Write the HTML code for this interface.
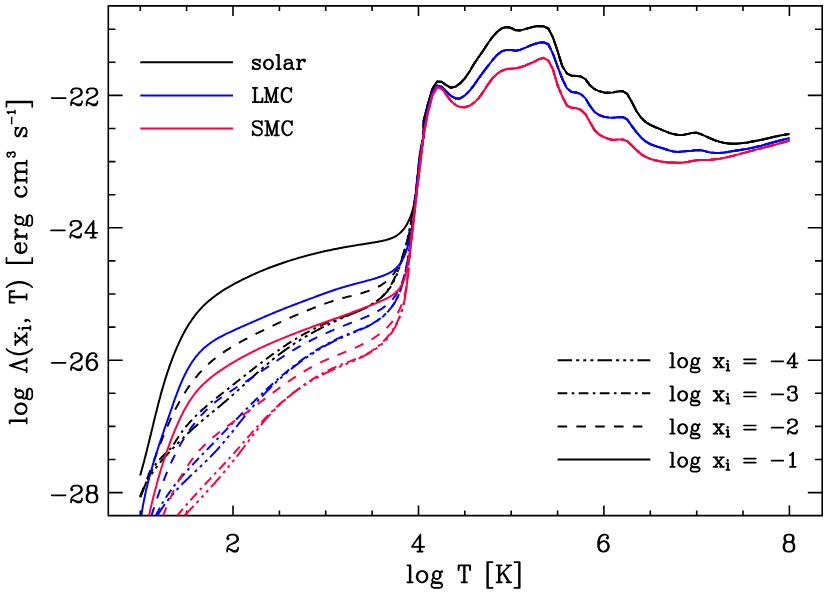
<!DOCTYPE html>
<html lang="en"><head><meta charset="utf-8"><title>cooling function</title>
<style>html,body{margin:0;padding:0;background:#fff;overflow:hidden}svg{display:block}body{font-family:"Liberation Serif",serif;width:830px;height:593px;position:relative}.sr{position:absolute;left:0;top:0;width:1px;height:1px;overflow:hidden;clip-path:inset(50%);white-space:nowrap;color:transparent;font-size:1px}</style></head>
<body>
<svg width="830" height="593" viewBox="0 0 830 593" role="img" aria-label="Cooling function log Lambda(x_i, T) [erg cm^3 s^-1] versus log T [K] for solar, LMC and SMC metallicity and log x_i = -4, -3, -2, -1">
<title>log Λ(x_i, T) [erg cm^3 s^-1] vs log T [K]</title>
<desc>Curves: solar (black), LMC (blue), SMC (red); line styles: log x_i = -4 (dash-dot-dot-dot), -3 (dash-dot), -2 (dashed), -1 (solid). Axes: log T [K] from 1 to 8; log Lambda from -28 to -22.</desc>
<rect width="830" height="593" fill="#fff"/>
<defs><clipPath id="c"><rect x="108.3" y="5.9" width="713.9" height="509.7"/></clipPath></defs>
<path d="M108.3,5.9H822.2V515.6H108.3ZM140.3,515.6v-5.0M140.3,5.9v5.0M186.6,515.6v-5.0M186.6,5.9v5.0M233.0,515.6v-10.1M233.0,5.9v10.1M279.4,515.6v-5.0M279.4,5.9v5.0M325.7,515.6v-5.0M325.7,5.9v5.0M372.1,515.6v-5.0M372.1,5.9v5.0M418.5,515.6v-10.1M418.5,5.9v10.1M464.8,515.6v-5.0M464.8,5.9v5.0M511.2,515.6v-5.0M511.2,5.9v5.0M557.6,515.6v-5.0M557.6,5.9v5.0M603.9,515.6v-10.1M603.9,5.9v10.1M650.3,515.6v-5.0M650.3,5.9v5.0M696.7,515.6v-5.0M696.7,5.9v5.0M743.0,515.6v-5.0M743.0,5.9v5.0M789.4,515.6v-10.1M789.4,5.9v10.1M108.3,492.6h14.4M822.2,492.6h-14.4M108.3,459.5h7.2M822.2,459.5h-7.2M108.3,426.4h7.2M822.2,426.4h-7.2M108.3,393.3h7.2M822.2,393.3h-7.2M108.3,360.2h14.4M822.2,360.2h-14.4M108.3,327.1h7.2M822.2,327.1h-7.2M108.3,294.0h7.2M822.2,294.0h-7.2M108.3,260.9h7.2M822.2,260.9h-7.2M108.3,227.8h14.4M822.2,227.8h-14.4M108.3,194.7h7.2M822.2,194.7h-7.2M108.3,161.6h7.2M822.2,161.6h-7.2M108.3,128.5h7.2M822.2,128.5h-7.2M108.3,95.4h14.4M822.2,95.4h-14.4M108.3,62.3h7.2M822.2,62.3h-7.2M108.3,29.2h7.2M822.2,29.2h-7.2" fill="none" stroke="#000" stroke-width="1.6" stroke-linecap="butt"/>
<g clip-path="url(#c)" fill="none" stroke-width="2.00" stroke-linejoin="round">
<path d="M140.3,497.2 140.8,495.8 141.3,494.3 141.8,492.9 142.3,491.5 142.9,490.1 143.5,488.7 144.1,487.4 144.8,486.0 145.4,484.7 146.1,483.4 146.8,482.0 147.5,480.7 148.3,479.4 149.0,478.2 149.8,476.9 150.6,475.6 151.4,474.4 152.2,473.1 153.0,471.9 153.9,470.7 154.8,469.5 155.6,468.3 156.5,467.1 157.4,465.9 158.3,464.7 159.3,463.6 160.2,462.4 161.2,461.3 162.1,460.1 163.1,459.0 164.1,457.8 165.1,456.7 166.1,455.6 167.1,454.5 168.1,453.4 169.1,452.3 170.1,451.2 171.2,450.1 172.2,449.0 173.2,447.9 174.3,446.9 175.3,445.8 176.4,444.7 177.4,443.7 178.5,442.6 179.6,441.5 180.6,440.5 181.7,439.4 182.8,438.4 183.8,437.3 184.9,436.3 186.0,435.3 187.0,434.2 188.1,433.2 189.2,432.2 190.3,431.2 191.4,430.2 192.5,429.1 193.6,428.1 194.7,427.1 195.8,426.2 196.9,425.2 198.0,424.2 199.1,423.2 200.2,422.2 201.4,421.3 202.5,420.3 203.6,419.4 204.7,418.4 205.9,417.5 207.0,416.5 208.2,415.6 209.3,414.6 210.5,413.7 211.6,412.8 212.8,411.8 213.9,410.9 215.1,410.0 216.2,409.0 217.4,408.1 218.5,407.1 219.7,406.2 220.8,405.2 222.0,404.3 223.1,403.3 224.2,402.3 225.4,401.4 226.5,400.4 227.6,399.4 228.8,398.4 229.9,397.4 231.0,396.4 232.1,395.4 233.3,394.4 234.4,393.4 235.5,392.4 236.6,391.4 237.7,390.4 238.9,389.4 240.0,388.4 241.1,387.4 242.2,386.4 243.3,385.4 244.4,384.4 245.6,383.3 246.7,382.3 247.8,381.3 248.9,380.3 250.0,379.3 251.1,378.3 252.3,377.3 253.4,376.3 254.5,375.3 255.6,374.3 256.7,373.3 257.9,372.3 259.0,371.3 260.1,370.3 261.3,369.3 262.4,368.3 263.5,367.3 264.7,366.3 265.8,365.3 266.9,364.4 268.1,363.4 269.2,362.4 270.4,361.5 271.5,360.5 272.7,359.6 273.9,358.6 275.0,357.7 276.2,356.8 277.4,355.9 278.5,354.9 279.7,354.0 280.9,353.1 282.1,352.2 283.3,351.4 284.5,350.5 285.7,349.6 286.9,348.8 288.1,347.9 289.3,347.1 290.5,346.2 291.8,345.4 293.0,344.6 294.2,343.7 295.5,342.9 296.7,342.1 297.9,341.3 299.2,340.6 300.4,339.8 301.7,339.0 303.0,338.2 304.2,337.5 305.5,336.7 306.8,336.0 308.1,335.2 309.4,334.5 310.6,333.8 311.9,333.0 313.2,332.3 314.5,331.6 315.8,330.9 317.2,330.2 318.5,329.5 319.8,328.8 321.1,328.1 322.4,327.4 323.8,326.8 325.1,326.1 326.5,325.4 327.8,324.8 329.2,324.1 330.5,323.5 331.9,322.8 333.2,322.2 334.6,321.6 336.0,320.9 337.3,320.3 338.7,319.7 340.1,319.1 341.5,318.4 342.9,317.8 344.3,317.2 345.7,316.6 347.1,316.0 348.5,315.4 349.9,314.8 351.3,314.2 352.7,313.6 354.1,313.0 355.5,312.4 356.9,311.8 358.3,311.2 359.7,310.6 361.0,309.9 362.4,309.3 363.8,308.6 365.1,307.9 366.4,307.3 367.8,306.6 369.1,305.9 370.3,305.1 371.6,304.4 372.9,303.6 374.1,302.9 375.3,302.1 376.5,301.2 377.7,300.4 378.8,299.5 380.0,298.6 381.1,297.7 382.1,296.8 383.2,295.8 384.2,294.8 385.2,293.8 386.1,292.7 387.1,291.6 388.0,290.5 388.8,289.3 389.7,288.2 390.5,286.9 391.3,285.7 392.0,284.4 392.7,283.1 393.4,281.8 394.1,280.5 394.8,279.2 395.4,277.8 396.0,276.4 396.6,275.0 397.2,273.6 397.8,272.2 398.3,270.7 398.8,269.3 399.3,267.8 399.8,266.3 400.3,264.9 400.8,263.4 401.2,261.9 401.7,260.4 402.1,258.9 402.6,257.5 403.0,256.0 403.4,254.5 403.8,253.0 404.2,251.5 404.6,250.1 405.0,248.6 405.4,247.2 405.8,245.7 406.1,244.2 406.5,242.8 406.9,241.3 407.2,239.9 407.6,238.4 407.9,237.0 408.2,235.6 408.6,234.1 408.9,232.7 409.2,231.2 409.5,229.8 409.8,228.4 410.2,226.9 410.4,225.5 410.7,224.0 411.0,222.6 411.3,221.2 411.6,219.7 411.9,218.3 412.1,216.8 412.4,215.4 412.6,214.0 412.9,212.5 413.1,211.1 413.4,209.6 413.6,208.2 413.9,206.7 414.1,205.3 414.3,203.8 414.5,202.3 414.7,200.9 414.9,199.4 415.1,197.9 415.3,196.4 415.5,195.0 415.7,193.5 415.9,192.0 416.1,190.5 416.3,189.0 416.4,187.5 416.6,186.0 416.8,184.5 417.0,183.0 417.1,181.5 417.3,180.0 417.5,178.5 417.6,177.0 417.8,175.5 418.0,174.0 418.1,172.5 418.3,171.0 418.5,169.5 418.7,168.0 418.8,166.5 419.0,165.0 419.2,163.5 419.4,162.0 419.6,160.5 419.8,159.0 420.0,157.5 420.2,156.0 420.4,154.5 420.6,153.1 420.8,151.6 421.1,150.1 421.3,148.6 421.5,147.2 421.8,145.7 422.0,144.2 422.3,142.8 422.6,141.3 422.8,139.9 423.1,138.4 423.6,135.5 423.6,120.8 427.7,105.0 432.4,88.9 437.0,81.6 441.6,81.8 446.3,85.2 450.9,87.8 455.6,86.6 460.2,83.3 464.8,78.4 469.5,71.6 474.1,63.8 478.7,57.0 483.4,50.2 488.0,43.2 492.6,36.9 497.3,31.7 501.9,28.3 506.6,27.0 511.2,28.0 515.8,30.3 520.5,30.4 525.1,29.1 529.7,27.7 534.4,26.6 539.0,26.1 543.6,26.3 548.3,28.5 552.9,37.2 557.6,51.1 562.2,66.0 566.8,73.3 571.5,75.7 576.1,75.9 580.7,76.4 585.4,79.2 590.0,85.3 594.6,89.2 599.3,91.3 603.9,92.4 608.6,92.7 613.2,92.4 617.8,91.4 622.5,91.0 627.1,93.8 631.7,101.8 636.4,111.0 641.0,117.5 645.6,122.0 650.3,124.9 654.9,127.0 659.6,128.9 664.2,130.8 668.8,132.7 673.5,134.1 678.1,135.0 682.7,135.1 687.4,134.1 692.0,132.9 696.7,132.8 701.3,134.3 705.9,136.4 710.6,138.5 715.2,140.4 719.8,141.9 724.5,143.0 729.1,143.6 733.7,143.8 738.4,143.6 743.0,143.1 747.7,142.4 752.3,141.6 756.9,140.7 761.6,139.7 766.2,138.7 770.8,137.6 775.5,136.6 780.1,135.6 784.7,134.7 789.4,133.9" stroke="#000" stroke-dasharray="14.5,4.1,3,4.1,3,4.1,3,4.1"/>
<path d="M140.3,497.2 140.9,495.9 141.5,494.5 142.0,493.1 142.6,491.8 143.1,490.4 143.7,489.0 144.2,487.6 144.8,486.2 145.3,484.8 145.8,483.3 146.4,481.9 147.0,480.5 147.5,479.1 148.1,477.7 148.7,476.4 149.4,475.0 150.0,473.6 150.7,472.3 151.4,471.0 152.2,469.7 153.0,468.4 153.8,467.1 154.6,465.9 155.5,464.6 156.3,463.4 157.3,462.3 158.2,461.1 159.1,460.0 160.1,458.9 161.1,457.8 162.1,456.7 163.2,455.7 164.2,454.7 165.3,453.7 166.3,452.8 167.4,451.8 168.4,450.8 169.4,449.8 170.4,448.8 171.3,447.7 172.2,446.6 173.0,445.4 173.8,444.2 174.6,443.0 175.4,441.8 176.1,440.6 176.9,439.3 177.7,438.1 178.5,436.8 179.4,435.6 180.2,434.3 181.1,433.1 181.9,431.9 182.8,430.6 183.7,429.5 184.7,428.3 185.6,427.1 186.5,425.9 187.5,424.8 188.5,423.7 189.4,422.6 190.4,421.4 191.5,420.4 192.5,419.3 193.5,418.2 194.6,417.1 195.6,416.1 196.7,415.0 197.7,414.0 198.8,413.0 199.9,411.9 201.0,410.9 202.1,409.9 203.2,408.9 204.4,407.9 205.5,407.0 206.6,406.0 207.8,405.0 208.9,404.0 210.1,403.1 211.2,402.1 212.4,401.2 213.6,400.2 214.7,399.3 215.9,398.3 217.1,397.4 218.3,396.5 219.4,395.5 220.6,394.6 221.8,393.7 223.0,392.8 224.2,391.8 225.3,390.9 226.5,390.0 227.7,389.0 228.9,388.1 230.1,387.2 231.3,386.3 232.4,385.3 233.6,384.4 234.8,383.5 236.0,382.5 237.1,381.6 238.3,380.7 239.5,379.7 240.7,378.8 241.8,377.9 243.0,376.9 244.2,376.0 245.4,375.1 246.5,374.2 247.7,373.2 248.9,372.3 250.1,371.4 251.2,370.5 252.4,369.6 253.6,368.6 254.8,367.7 255.9,366.8 257.1,365.9 258.3,365.0 259.5,364.1 260.7,363.2 261.9,362.3 263.0,361.4 264.2,360.5 265.4,359.6 266.6,358.7 267.8,357.8 269.0,357.0 270.2,356.1 271.4,355.2 272.6,354.3 273.8,353.5 275.0,352.6 276.2,351.8 277.5,350.9 278.7,350.1 279.9,349.2 281.1,348.4 282.4,347.5 283.6,346.7 284.8,345.9 286.1,345.1 287.3,344.2 288.5,343.4 289.8,342.6 291.0,341.8 292.3,341.1 293.6,340.3 294.8,339.5 296.1,338.7 297.4,338.0 298.6,337.2 299.9,336.4 301.2,335.7 302.5,335.0 303.8,334.2 305.1,333.5 306.4,332.8 307.7,332.1 309.0,331.4 310.4,330.7 311.7,330.0 313.0,329.3 314.4,328.6 315.7,328.0 317.1,327.3 318.4,326.7 319.8,326.0 321.2,325.4 322.5,324.8 323.9,324.2 325.3,323.6 326.7,323.0 328.1,322.4 329.5,321.8 330.9,321.3 332.4,320.7 333.8,320.2 335.2,319.6 336.7,319.1 338.1,318.6 339.6,318.1 341.0,317.5 342.5,317.0 343.9,316.5 345.4,316.0 346.8,315.5 348.3,315.0 349.7,314.5 351.1,313.9 352.6,313.4 354.0,312.9 355.4,312.3 356.8,311.8 358.2,311.2 359.6,310.6 361.0,310.0 362.3,309.4 363.7,308.8 365.0,308.2 366.4,307.5 367.7,306.8 368.9,306.1 370.2,305.4 371.5,304.7 372.7,303.9 373.9,303.1 375.1,302.3 376.3,301.5 377.4,300.6 378.6,299.7 379.7,298.8 380.7,297.9 381.8,296.9 382.8,295.9 383.8,294.8 384.7,293.7 385.7,292.6 386.6,291.5 387.4,290.3 388.3,289.1 389.1,287.9 389.9,286.6 390.7,285.3 391.5,284.0 392.2,282.7 392.9,281.4 393.6,280.0 394.3,278.7 395.0,277.3 395.6,275.9 396.3,274.5 396.9,273.1 397.5,271.7 398.0,270.3 398.6,268.8 399.2,267.4 399.7,266.0 400.2,264.5 400.7,263.1 401.2,261.6 401.7,260.2 402.2,258.8 402.7,257.3 403.1,255.9 403.6,254.5 404.0,253.0 404.4,251.6 404.8,250.2 405.2,248.7 405.6,247.3 406.0,245.9 406.4,244.4 406.8,243.0 407.1,241.6 407.5,240.1 407.8,238.7 408.1,237.2 408.5,235.8 408.8,234.4 409.1,232.9 409.4,231.5 409.7,230.0 410.0,228.6 410.3,227.2 410.6,225.7 410.8,224.3 411.1,222.8 411.4,221.4 411.6,219.9 411.9,218.5 412.1,217.0 412.4,215.5 412.6,214.1 412.8,212.6 413.1,211.2 413.3,209.7 413.5,208.2 413.7,206.7 413.9,205.3 414.2,203.8 414.4,202.3 414.6,200.8 414.8,199.3 415.0,197.8 415.2,196.4 415.4,194.9 415.6,193.4 415.8,191.9 415.9,190.4 416.1,188.9 416.3,187.4 416.5,185.9 416.7,184.4 416.9,182.9 417.1,181.4 417.3,179.9 417.4,178.4 417.6,176.9 417.8,175.4 418.0,173.9 418.2,172.4 418.4,170.9 418.6,169.4 418.8,168.0 419.0,166.5 419.1,165.0 419.3,163.5 419.5,162.0 419.7,160.5 419.9,159.0 420.1,157.5 420.4,156.0 420.6,154.6 420.8,153.1 421.0,151.6 421.2,150.1 421.4,148.7 421.7,147.2 421.9,145.7 422.1,144.3 422.4,142.8 422.6,141.4 422.9,139.9 423.1,138.5 423.4,137.0 423.6,135.5 423.6,120.8 427.7,105.0 432.4,88.9 437.0,81.6 441.6,81.8 446.3,85.2 450.9,87.8 455.6,86.6 460.2,83.3 464.8,78.4 469.5,71.6 474.1,63.8 478.7,57.0 483.4,50.2 488.0,43.2 492.6,36.9 497.3,31.7 501.9,28.3 506.6,27.0 511.2,28.0 515.8,30.3 520.5,30.4 525.1,29.1 529.7,27.7 534.4,26.6 539.0,26.1 543.6,26.3 548.3,28.5 552.9,37.2 557.6,51.1 562.2,66.0 566.8,73.3 571.5,75.7 576.1,75.9 580.7,76.4 585.4,79.2 590.0,85.3 594.6,89.2 599.3,91.3 603.9,92.4 608.6,92.7 613.2,92.4 617.8,91.4 622.5,91.0 627.1,93.8 631.7,101.8 636.4,111.0 641.0,117.5 645.6,122.0 650.3,124.9 654.9,127.0 659.6,128.9 664.2,130.8 668.8,132.7 673.5,134.1 678.1,135.0 682.7,135.1 687.4,134.1 692.0,132.9 696.7,132.8 701.3,134.3 705.9,136.4 710.6,138.5 715.2,140.4 719.8,141.9 724.5,143.0 729.1,143.6 733.7,143.8 738.4,143.6 743.0,143.1 747.7,142.4 752.3,141.6 756.9,140.7 761.6,139.7 766.2,138.7 770.8,137.6 775.5,136.6 780.1,135.6 784.7,134.7 789.4,133.9" stroke="#000" stroke-dasharray="9.7,4.4,2.6,4.4"/>
<path d="M140.0,496.7 140.5,495.4 141.1,494.0 141.6,492.7 142.2,491.4 142.7,490.1 143.2,488.7 143.8,487.4 144.3,486.0 144.8,484.7 145.4,483.3 145.9,481.9 146.4,480.6 147.0,479.2 147.5,477.8 148.0,476.4 148.5,475.0 149.0,473.6 149.6,472.3 150.1,470.9 150.6,469.5 151.1,468.1 151.7,466.7 152.2,465.2 152.7,463.8 153.2,462.4 153.8,461.0 154.3,459.6 154.8,458.2 155.3,456.8 155.9,455.3 156.4,453.9 156.9,452.5 157.5,451.1 158.0,449.7 158.6,448.2 159.1,446.8 159.6,445.4 160.2,444.0 160.7,442.6 161.3,441.1 161.9,439.7 162.4,438.3 163.0,436.9 163.6,435.5 164.1,434.1 164.7,432.7 165.3,431.3 165.9,429.9 166.5,428.5 167.1,427.1 167.7,425.7 168.3,424.3 168.9,422.9 169.6,421.5 170.2,420.1 170.8,418.7 171.5,417.4 172.1,416.0 172.8,414.6 173.4,413.3 174.1,411.9 174.8,410.6 175.4,409.2 176.1,407.9 176.8,406.6 177.5,405.2 178.3,403.9 179.0,402.6 179.7,401.3 180.4,400.0 181.2,398.7 181.9,397.4 182.7,396.1 183.5,394.9 184.3,393.6 185.1,392.3 185.9,391.1 186.7,389.8 187.5,388.6 188.3,387.4 189.2,386.2 190.0,385.0 190.9,383.8 191.8,382.6 192.7,381.4 193.5,380.2 194.5,379.1 195.4,377.9 196.3,376.8 197.3,375.7 198.2,374.6 199.2,373.4 200.2,372.3 201.2,371.3 202.2,370.2 203.2,369.1 204.2,368.1 205.3,367.1 206.3,366.0 207.4,365.0 208.5,364.0 209.6,363.0 210.7,362.1 211.8,361.1 213.0,360.1 214.1,359.2 215.3,358.3 216.5,357.4 217.6,356.5 218.8,355.6 220.1,354.7 221.3,353.8 222.5,353.0 223.8,352.1 225.0,351.3 226.3,350.4 227.5,349.6 228.8,348.8 230.1,348.0 231.4,347.2 232.7,346.4 234.0,345.7 235.3,344.9 236.6,344.1 237.9,343.4 239.3,342.6 240.6,341.9 241.9,341.1 243.3,340.4 244.6,339.7 245.9,339.0 247.3,338.3 248.6,337.6 250.0,336.9 251.4,336.2 252.7,335.5 254.1,334.8 255.4,334.1 256.8,333.4 258.1,332.8 259.5,332.1 260.9,331.4 262.2,330.8 263.6,330.1 264.9,329.4 266.3,328.8 267.6,328.1 269.0,327.5 270.3,326.8 271.7,326.2 273.0,325.6 274.4,324.9 275.7,324.3 277.1,323.7 278.4,323.0 279.8,322.4 281.1,321.8 282.5,321.2 283.8,320.6 285.2,319.9 286.6,319.3 287.9,318.7 289.3,318.1 290.6,317.5 292.0,316.9 293.3,316.3 294.7,315.8 296.1,315.2 297.4,314.6 298.8,314.0 300.1,313.4 301.5,312.9 302.9,312.3 304.2,311.7 305.6,311.2 307.0,310.6 308.4,310.0 309.8,309.5 311.1,308.9 312.5,308.4 313.9,307.8 315.3,307.3 316.7,306.8 318.1,306.2 319.5,305.7 320.9,305.2 322.3,304.7 323.7,304.1 325.1,303.6 326.5,303.1 328.0,302.6 329.4,302.1 330.8,301.7 332.2,301.2 333.7,300.7 335.1,300.3 336.6,299.8 338.0,299.4 339.4,299.0 340.9,298.5 342.4,298.1 343.8,297.7 345.3,297.4 346.8,297.0 348.2,296.6 349.7,296.2 351.2,295.9 352.7,295.5 354.1,295.1 355.6,294.7 357.1,294.4 358.5,294.0 360.0,293.6 361.5,293.2 362.9,292.7 364.4,292.3 365.8,291.8 367.2,291.4 368.6,290.9 370.1,290.3 371.5,289.8 372.9,289.2 374.2,288.6 375.6,288.0 376.9,287.4 378.3,286.7 379.6,286.0 380.9,285.3 382.1,284.5 383.3,283.7 384.5,282.9 385.7,282.0 386.8,281.1 387.9,280.2 389.0,279.2 390.0,278.2 391.0,277.1 392.0,276.0 392.9,274.9 393.8,273.7 394.6,272.6 395.4,271.3 396.2,270.1 396.9,268.8 397.6,267.5 398.3,266.1 399.0,264.8 399.6,263.4 400.2,262.0 400.8,260.6 401.4,259.2 401.9,257.8 402.4,256.4 403.0,255.0 403.5,253.5 403.9,252.1 404.4,250.7 404.9,249.2 405.3,247.8 405.8,246.3 406.2,244.9 406.6,243.5 407.0,242.0 407.4,240.6 407.8,239.1 408.1,237.7 408.5,236.2 408.8,234.7 409.2,233.3 409.5,231.8 409.8,230.4 410.1,228.9 410.4,227.4 410.7,226.0 411.0,224.5 411.3,223.0 411.6,221.5 411.8,220.1 412.1,218.6 412.3,217.1 412.6,215.6 412.8,214.2 413.0,212.7 413.2,211.2 413.5,209.7 413.7,208.3 413.9,206.8 414.1,205.3 414.3,203.8 414.5,202.3 414.7,200.8 414.9,199.3 415.0,197.9 415.2,196.4 415.4,194.9 415.6,193.4 415.8,191.9 415.9,190.4 416.1,188.9 416.3,187.4 416.4,186.0 416.6,184.5 416.8,183.0 417.0,181.5 417.1,180.0 417.3,178.5 417.5,177.0 417.6,175.5 417.8,174.0 418.0,172.5 418.2,171.1 418.3,169.6 418.5,168.1 418.7,166.6 418.9,165.1 419.1,163.6 419.3,162.1 419.5,160.6 419.7,159.2 419.9,157.7 420.1,156.2 420.3,154.7 420.6,153.2 420.8,151.8 421.0,150.3 421.3,148.8 421.5,147.3 421.8,145.8 422.0,144.4 422.3,142.9 422.6,141.4 422.9,139.9 423.2,138.5 423.6,135.5 423.6,120.8 427.7,105.0 432.4,88.9 437.0,81.6 441.6,81.8 446.3,85.2 450.9,87.8 455.6,86.6 460.2,83.3 464.8,78.4 469.5,71.6 474.1,63.8 478.7,57.0 483.4,50.2 488.0,43.2 492.6,36.9 497.3,31.7 501.9,28.3 506.6,27.0 511.2,28.0 515.8,30.3 520.5,30.4 525.1,29.1 529.7,27.7 534.4,26.6 539.0,26.1 543.6,26.3 548.3,28.5 552.9,37.2 557.6,51.1 562.2,66.0 566.8,73.3 571.5,75.7 576.1,75.9 580.7,76.4 585.4,79.2 590.0,85.3 594.6,89.2 599.3,91.3 603.9,92.4 608.6,92.7 613.2,92.4 617.8,91.4 622.5,91.0 627.1,93.8 631.7,101.8 636.4,111.0 641.0,117.5 645.6,122.0 650.3,124.9 654.9,127.0 659.6,128.9 664.2,130.8 668.8,132.7 673.5,134.1 678.1,135.0 682.7,135.1 687.4,134.1 692.0,132.9 696.7,132.8 701.3,134.3 705.9,136.4 710.6,138.5 715.2,140.4 719.8,141.9 724.5,143.0 729.1,143.6 733.7,143.8 738.4,143.6 743.0,143.1 747.7,142.4 752.3,141.6 756.9,140.7 761.6,139.7 766.2,138.7 770.8,137.6 775.5,136.6 780.1,135.6 784.7,134.7 789.4,133.9" stroke="#000" stroke-dasharray="9.55,9.25"/>
<path d="M140.2,475.4 140.6,473.9 141.0,472.5 141.4,471.0 141.8,469.6 142.2,468.2 142.6,466.7 143.0,465.3 143.4,463.8 143.8,462.4 144.2,460.9 144.5,459.4 144.9,458.0 145.3,456.5 145.7,455.1 146.0,453.6 146.4,452.2 146.8,450.7 147.1,449.3 147.5,447.8 147.9,446.3 148.2,444.9 148.6,443.4 148.9,442.0 149.3,440.5 149.7,439.1 150.0,437.6 150.4,436.1 150.7,434.7 151.1,433.2 151.4,431.8 151.8,430.3 152.1,428.9 152.5,427.4 152.8,425.9 153.2,424.5 153.5,423.0 153.9,421.6 154.2,420.1 154.6,418.7 154.9,417.2 155.3,415.7 155.7,414.3 156.0,412.8 156.4,411.4 156.8,409.9 157.1,408.5 157.5,407.0 157.9,405.6 158.2,404.1 158.6,402.7 159.0,401.2 159.4,399.8 159.8,398.3 160.2,396.9 160.5,395.5 160.9,394.0 161.3,392.6 161.7,391.1 162.2,389.7 162.6,388.2 163.0,386.8 163.4,385.4 163.8,383.9 164.3,382.5 164.7,381.1 165.1,379.6 165.6,378.2 166.0,376.8 166.5,375.4 166.9,373.9 167.4,372.5 167.9,371.1 168.4,369.7 168.9,368.3 169.3,366.8 169.8,365.4 170.3,364.0 170.9,362.6 171.4,361.2 171.9,359.8 172.4,358.4 173.0,357.0 173.5,355.6 174.1,354.2 174.6,352.8 175.2,351.4 175.8,350.0 176.4,348.6 177.0,347.2 177.6,345.8 178.2,344.5 178.8,343.1 179.5,341.7 180.1,340.4 180.8,339.0 181.4,337.6 182.1,336.3 182.8,334.9 183.5,333.6 184.2,332.3 184.9,331.0 185.7,329.6 186.4,328.3 187.2,327.1 187.9,325.8 188.7,324.5 189.5,323.2 190.4,322.0 191.2,320.7 192.0,319.5 192.9,318.3 193.8,317.1 194.7,315.9 195.6,314.7 196.5,313.6 197.4,312.4 198.4,311.3 199.4,310.2 200.4,309.1 201.4,308.0 202.4,306.9 203.4,305.9 204.5,304.8 205.6,303.8 206.7,302.8 207.8,301.8 208.9,300.8 210.1,299.9 211.2,298.9 212.4,298.0 213.6,297.1 214.8,296.2 216.0,295.3 217.2,294.4 218.4,293.6 219.7,292.7 220.9,291.9 222.2,291.0 223.4,290.2 224.7,289.4 226.0,288.6 227.3,287.9 228.6,287.1 229.9,286.3 231.2,285.6 232.6,284.8 233.9,284.1 235.2,283.4 236.5,282.7 237.9,282.0 239.2,281.3 240.6,280.6 241.9,279.9 243.3,279.2 244.6,278.6 246.0,277.9 247.3,277.3 248.7,276.6 250.1,276.0 251.4,275.3 252.8,274.7 254.2,274.1 255.5,273.5 256.9,272.9 258.3,272.3 259.7,271.7 261.0,271.1 262.4,270.6 263.8,270.0 265.2,269.4 266.6,268.9 267.9,268.3 269.3,267.8 270.7,267.3 272.1,266.7 273.5,266.2 274.9,265.7 276.3,265.2 277.7,264.7 279.1,264.2 280.5,263.7 282.0,263.2 283.4,262.7 284.8,262.2 286.2,261.8 287.6,261.3 289.0,260.9 290.5,260.4 291.9,260.0 293.3,259.5 294.8,259.1 296.2,258.6 297.6,258.2 299.1,257.8 300.5,257.4 302.0,257.0 303.4,256.6 304.8,256.2 306.3,255.8 307.7,255.4 309.2,255.0 310.6,254.6 312.1,254.2 313.6,253.9 315.0,253.5 316.5,253.2 317.9,252.8 319.4,252.5 320.8,252.1 322.3,251.8 323.8,251.4 325.2,251.1 326.7,250.8 328.2,250.5 329.6,250.2 331.1,249.9 332.6,249.6 334.0,249.3 335.5,249.0 337.0,248.7 338.4,248.4 339.9,248.1 341.4,247.9 342.8,247.6 344.3,247.3 345.8,247.1 347.3,246.8 348.7,246.6 350.2,246.3 351.7,246.1 353.2,245.8 354.7,245.6 356.1,245.3 357.6,245.1 359.1,244.8 360.6,244.6 362.1,244.4 363.6,244.1 365.1,243.9 366.6,243.6 368.2,243.4 369.7,243.1 371.2,242.9 372.7,242.6 374.3,242.4 375.8,242.1 377.3,241.9 378.9,241.6 380.4,241.3 381.9,241.0 383.4,240.6 384.9,240.3 386.4,239.9 387.8,239.5 389.2,239.0 390.6,238.5 392.0,238.0 393.3,237.4 394.5,236.8 395.8,236.1 397.0,235.3 398.1,234.5 399.2,233.7 400.3,232.8 401.3,231.8 402.2,230.8 403.2,229.8 404.0,228.7 404.9,227.5 405.7,226.4 406.4,225.1 407.2,223.9 407.8,222.6 408.5,221.3 409.1,220.0 409.7,218.6 410.3,217.2 410.8,215.8 411.3,214.4 411.8,212.9 412.2,211.5 412.6,210.0 413.0,208.6 413.4,207.1 413.8,205.6 414.1,204.1 414.4,202.6 414.7,201.1 415.0,199.6 415.2,198.1 415.5,196.6 415.7,195.1 415.9,193.6 416.1,192.1 416.3,190.6 416.5,189.0 416.6,187.5 416.8,186.0 416.9,184.5 417.1,183.0 417.2,181.5 417.3,179.9 417.5,178.4 417.6,176.9 417.7,175.4 417.8,173.9 418.0,172.3 418.1,170.8 418.2,169.3 418.3,167.8 418.5,166.3 418.6,164.8 418.7,163.3 418.9,161.8 419.1,160.3 419.2,158.8 419.4,157.3 419.6,155.9 419.8,154.4 420.0,152.9 420.2,151.4 420.5,150.0 420.7,148.5 421.0,147.1 421.3,145.6 421.6,144.2 422.0,142.7 422.3,141.3 422.7,139.9 423.1,138.5 423.6,135.5 423.6,120.8 427.7,105.0 432.4,88.9 437.0,81.6 441.6,81.8 446.3,85.2 450.9,87.8 455.6,86.6 460.2,83.3 464.8,78.4 469.5,71.6 474.1,63.8 478.7,57.0 483.4,50.2 488.0,43.2 492.6,36.9 497.3,31.7 501.9,28.3 506.6,27.0 511.2,28.0 515.8,30.3 520.5,30.4 525.1,29.1 529.7,27.7 534.4,26.6 539.0,26.1 543.6,26.3 548.3,28.5 552.9,37.2 557.6,51.1 562.2,66.0 566.8,73.3 571.5,75.7 576.1,75.9 580.7,76.4 585.4,79.2 590.0,85.3 594.6,89.2 599.3,91.3 603.9,92.4 608.6,92.7 613.2,92.4 617.8,91.4 622.5,91.0 627.1,93.8 631.7,101.8 636.4,111.0 641.0,117.5 645.6,122.0 650.3,124.9 654.9,127.0 659.6,128.9 664.2,130.8 668.8,132.7 673.5,134.1 678.1,135.0 682.7,135.1 687.4,134.1 692.0,132.9 696.7,132.8 701.3,134.3 705.9,136.4 710.6,138.5 715.2,140.4 719.8,141.9 724.5,143.0 729.1,143.6 733.7,143.8 738.4,143.6 743.0,143.1 747.7,142.4 752.3,141.6 756.9,140.7 761.6,139.7 766.2,138.7 770.8,137.6 775.5,136.6 780.1,135.6 784.7,134.7 789.4,133.9" stroke="#000"/>
<path d="M157.1,516.3 157.8,515.1 158.5,513.8 159.3,512.5 160.1,511.2 160.9,510.0 161.7,508.7 162.5,507.5 163.4,506.2 164.2,505.0 165.1,503.8 166.0,502.6 166.9,501.4 167.8,500.3 168.7,499.1 169.6,497.9 170.6,496.8 171.5,495.7 172.5,494.5 173.5,493.4 174.5,492.3 175.5,491.2 176.5,490.1 177.5,489.0 178.5,487.9 179.5,486.8 180.6,485.8 181.6,484.7 182.6,483.6 183.7,482.6 184.8,481.5 185.8,480.5 186.9,479.4 188.0,478.4 189.0,477.4 190.1,476.3 191.2,475.3 192.3,474.3 193.4,473.2 194.4,472.2 195.5,471.2 196.6,470.1 197.7,469.1 198.8,468.1 199.9,467.0 201.0,466.0 202.0,465.0 203.1,463.9 204.2,462.9 205.3,461.9 206.4,460.8 207.4,459.8 208.5,458.7 209.6,457.6 210.6,456.6 211.7,455.5 212.7,454.4 213.7,453.4 214.8,452.3 215.8,451.2 216.8,450.1 217.8,449.0 218.8,447.9 219.8,446.7 220.8,445.6 221.8,444.5 222.8,443.4 223.8,442.2 224.7,441.1 225.7,439.9 226.7,438.8 227.6,437.6 228.6,436.4 229.5,435.3 230.5,434.1 231.4,432.9 232.3,431.8 233.3,430.6 234.2,429.4 235.2,428.2 236.1,427.1 237.0,425.9 238.0,424.7 238.9,423.5 239.8,422.4 240.8,421.2 241.7,420.0 242.7,418.8 243.6,417.7 244.5,416.5 245.5,415.3 246.4,414.2 247.4,413.0 248.3,411.9 249.3,410.7 250.3,409.6 251.2,408.4 252.2,407.3 253.2,406.2 254.2,405.0 255.2,403.9 256.2,402.8 257.1,401.7 258.1,400.6 259.1,399.4 260.2,398.3 261.2,397.3 262.2,396.2 263.2,395.1 264.2,394.0 265.3,392.9 266.3,391.8 267.3,390.8 268.4,389.7 269.4,388.7 270.5,387.6 271.6,386.6 272.6,385.5 273.7,384.5 274.8,383.5 275.8,382.5 276.9,381.4 278.0,380.4 279.1,379.4 280.2,378.4 281.3,377.4 282.4,376.4 283.5,375.5 284.6,374.5 285.8,373.5 286.9,372.6 288.0,371.6 289.2,370.7 290.3,369.7 291.5,368.8 292.6,367.8 293.8,366.9 295.0,366.0 296.1,365.1 297.3,364.2 298.5,363.3 299.7,362.4 300.9,361.5 302.1,360.7 303.3,359.8 304.5,358.9 305.7,358.1 306.9,357.2 308.2,356.4 309.4,355.6 310.6,354.7 311.9,353.9 313.1,353.1 314.4,352.3 315.7,351.5 316.9,350.7 318.2,349.9 319.5,349.2 320.8,348.4 322.1,347.7 323.4,346.9 324.7,346.2 326.0,345.4 327.3,344.7 328.6,344.0 330.0,343.3 331.3,342.6 332.6,341.9 334.0,341.2 335.3,340.6 336.7,339.9 338.1,339.3 339.5,338.6 340.8,338.0 342.2,337.3 343.6,336.7 345.0,336.1 346.4,335.5 347.9,334.9 349.3,334.3 350.7,333.7 352.1,333.2 353.5,332.6 354.9,332.0 356.4,331.4 357.8,330.8 359.2,330.2 360.6,329.6 362.0,329.0 363.3,328.4 364.7,327.8 366.1,327.1 367.4,326.5 368.8,325.8 370.1,325.1 371.4,324.4 372.7,323.7 373.9,322.9 375.2,322.2 376.4,321.4 377.6,320.6 378.8,319.7 380.0,318.9 381.1,318.0 382.2,317.1 383.3,316.2 384.4,315.2 385.4,314.2 386.5,313.2 387.4,312.2 388.4,311.1 389.3,310.0 390.3,308.9 391.1,307.8 392.0,306.7 392.8,305.5 393.6,304.3 394.4,303.1 395.1,301.9 395.8,300.6 396.5,299.3 397.2,298.0 397.8,296.7 398.4,295.4 399.0,294.0 399.6,292.7 400.1,291.3 400.6,289.9 401.1,288.5 401.6,287.0 402.0,285.6 402.5,284.1 402.9,282.7 403.3,281.2 403.7,279.7 404.0,278.3 404.4,276.8 404.8,275.3 405.1,273.8 405.4,272.3 405.7,270.8 406.0,269.3 406.3,267.8 406.6,266.3 406.9,264.7 407.2,263.2 407.5,261.7 407.7,260.2 408.0,258.7 408.2,257.2 408.5,255.7 408.7,254.2 409.0,252.7 409.2,251.2 409.4,249.7 409.6,248.2 409.9,246.7 410.1,245.3 410.3,243.8 410.5,242.3 410.7,240.8 410.9,239.3 411.1,237.8 411.3,236.3 411.5,234.8 411.6,233.3 411.8,231.9 412.0,230.4 412.2,228.9 412.4,227.4 412.5,225.9 412.7,224.4 412.9,222.9 413.0,221.5 413.2,220.0 413.3,218.5 413.5,217.0 413.7,215.5 413.8,214.1 414.0,212.6 414.1,211.1 414.3,209.6 414.4,208.1 414.6,206.7 414.7,205.2 414.9,203.7 415.0,202.2 415.2,200.7 415.3,199.3 415.5,197.8 415.6,196.3 415.8,194.8 415.9,193.4 416.1,191.9 416.2,190.4 416.4,188.9 416.5,187.4 416.7,186.0 416.8,184.5 417.0,183.0 417.2,181.5 417.3,180.0 417.5,178.6 417.7,177.1 417.8,175.6 418.0,174.1 418.2,172.6 418.4,171.2 418.5,169.7 418.7,168.2 418.9,166.7 419.1,165.2 419.3,163.8 419.5,162.3 419.7,160.8 419.9,159.3 420.1,157.8 420.3,156.3 420.5,154.9 420.8,153.4 421.0,151.9 421.2,150.4 421.5,148.9 421.7,147.4 422.0,145.9 422.2,144.4 422.5,142.9 422.7,141.4 423.0,140.0 423.3,138.5 423.6,135.5 423.6,131.5 427.7,109.5 432.4,92.1 437.0,85.5 441.6,86.7 446.3,91.5 450.9,95.9 455.6,98.4 460.2,98.4 464.8,95.5 469.5,90.9 474.1,85.0 478.7,78.3 483.4,71.8 488.0,65.8 492.6,60.0 497.3,54.7 501.9,51.2 506.6,49.9 511.2,50.0 515.8,50.7 520.5,49.7 525.1,47.8 529.7,45.8 534.4,44.0 539.0,42.7 543.6,42.3 548.3,44.2 552.9,53.6 557.6,66.6 562.2,78.7 566.8,88.1 571.5,92.1 576.1,92.5 580.7,94.0 585.4,98.2 590.0,105.9 594.6,112.0 599.3,115.1 603.9,116.8 608.6,117.6 613.2,117.7 617.8,117.2 622.5,116.9 627.1,119.3 631.7,125.8 636.4,132.2 641.0,137.4 645.6,141.4 650.3,144.1 654.9,145.9 659.6,147.4 664.2,148.8 668.8,150.3 673.5,151.6 678.1,152.1 682.7,151.5 687.4,150.9 692.0,150.7 696.7,150.1 701.3,150.2 705.9,151.4 710.6,152.4 715.2,152.9 719.8,153.0 724.5,152.6 729.1,151.8 733.7,150.9 738.4,150.2 743.0,149.5 747.7,148.8 752.3,147.8 756.9,146.7 761.6,145.6 766.2,144.3 770.8,143.0 775.5,141.7 780.1,140.5 784.7,139.3 789.4,138.3" stroke="#0000ff" stroke-dasharray="14.5,4.1,3,4.1,3,4.1,3,4.1"/>
<path d="M155.6,516.3 156.1,515.2 156.8,513.8 157.4,512.4 158.1,511.1 158.8,509.7 159.5,508.4 160.2,507.0 160.9,505.7 161.7,504.4 162.4,503.1 163.2,501.8 164.0,500.6 164.8,499.3 165.6,498.0 166.4,496.8 167.2,495.6 168.1,494.3 168.9,493.1 169.8,491.9 170.7,490.7 171.5,489.5 172.4,488.3 173.3,487.1 174.2,485.9 175.1,484.7 176.1,483.6 177.0,482.4 177.9,481.3 178.9,480.1 179.8,479.0 180.8,477.8 181.8,476.7 182.7,475.6 183.7,474.5 184.7,473.3 185.7,472.2 186.7,471.1 187.7,470.0 188.7,468.9 189.7,467.8 190.7,466.7 191.7,465.6 192.8,464.5 193.8,463.4 194.8,462.4 195.8,461.3 196.9,460.2 197.9,459.1 198.9,458.0 200.0,456.9 201.0,455.9 202.1,454.8 203.1,453.7 204.1,452.6 205.2,451.6 206.2,450.5 207.3,449.4 208.3,448.3 209.4,447.3 210.4,446.2 211.4,445.1 212.5,444.0 213.5,442.9 214.5,441.9 215.6,440.8 216.6,439.7 217.7,438.6 218.7,437.6 219.7,436.5 220.8,435.4 221.8,434.3 222.8,433.2 223.9,432.2 224.9,431.1 226.0,430.0 227.0,428.9 228.0,427.8 229.1,426.8 230.1,425.7 231.2,424.6 232.2,423.5 233.2,422.5 234.3,421.4 235.3,420.3 236.4,419.2 237.4,418.2 238.5,417.1 239.5,416.0 240.6,415.0 241.6,413.9 242.6,412.8 243.7,411.8 244.8,410.7 245.8,409.6 246.9,408.6 247.9,407.5 249.0,406.4 250.0,405.4 251.1,404.3 252.1,403.3 253.2,402.2 254.3,401.2 255.3,400.1 256.4,399.1 257.5,398.0 258.6,397.0 259.6,395.9 260.7,394.9 261.8,393.9 262.9,392.8 263.9,391.8 265.0,390.8 266.1,389.7 267.2,388.7 268.3,387.7 269.4,386.7 270.5,385.7 271.6,384.7 272.7,383.7 273.8,382.7 274.9,381.7 276.0,380.7 277.2,379.7 278.3,378.7 279.4,377.7 280.5,376.8 281.7,375.8 282.8,374.8 283.9,373.9 285.1,372.9 286.2,372.0 287.4,371.0 288.5,370.1 289.7,369.1 290.9,368.2 292.0,367.3 293.2,366.4 294.4,365.5 295.5,364.6 296.7,363.7 297.9,362.8 299.1,361.9 300.3,361.0 301.5,360.1 302.7,359.2 303.9,358.4 305.2,357.5 306.4,356.7 307.6,355.8 308.8,355.0 310.1,354.2 311.3,353.4 312.6,352.6 313.8,351.8 315.1,351.0 316.3,350.2 317.6,349.4 318.9,348.6 320.2,347.9 321.5,347.1 322.8,346.4 324.1,345.6 325.4,344.9 326.7,344.2 328.0,343.5 329.3,342.8 330.7,342.1 332.0,341.4 333.4,340.7 334.7,340.0 336.1,339.4 337.4,338.7 338.8,338.1 340.2,337.5 341.6,336.8 343.0,336.2 344.4,335.6 345.8,335.1 347.2,334.5 348.6,333.9 350.0,333.3 351.4,332.8 352.9,332.2 354.3,331.6 355.7,331.1 357.1,330.5 358.5,329.9 360.0,329.3 361.4,328.8 362.7,328.2 364.1,327.6 365.5,326.9 366.9,326.3 368.2,325.7 369.6,325.0 370.9,324.3 372.2,323.6 373.5,322.9 374.8,322.1 376.0,321.3 377.2,320.5 378.4,319.7 379.6,318.9 380.8,318.0 381.9,317.1 383.1,316.1 384.1,315.2 385.2,314.2 386.3,313.2 387.3,312.1 388.3,311.1 389.2,310.0 390.1,308.9 391.0,307.8 391.9,306.6 392.8,305.4 393.6,304.2 394.4,303.0 395.1,301.8 395.8,300.5 396.5,299.2 397.2,297.9 397.8,296.6 398.4,295.3 399.0,293.9 399.6,292.5 400.1,291.1 400.6,289.7 401.1,288.3 401.6,286.9 402.0,285.5 402.4,284.0 402.9,282.6 403.3,281.1 403.6,279.6 404.0,278.1 404.3,276.7 404.7,275.2 405.0,273.7 405.3,272.2 405.6,270.7 405.9,269.2 406.2,267.7 406.5,266.2 406.8,264.6 407.0,263.1 407.3,261.6 407.6,260.1 407.8,258.6 408.1,257.1 408.3,255.6 408.6,254.2 408.8,252.7 409.0,251.2 409.3,249.7 409.5,248.2 409.7,246.7 409.9,245.2 410.1,243.7 410.3,242.2 410.5,240.7 410.7,239.3 410.9,237.8 411.1,236.3 411.3,234.8 411.5,233.3 411.7,231.8 411.9,230.3 412.1,228.9 412.3,227.4 412.4,225.9 412.6,224.4 412.8,222.9 413.0,221.5 413.1,220.0 413.3,218.5 413.5,217.0 413.6,215.6 413.8,214.1 413.9,212.6 414.1,211.1 414.3,209.6 414.4,208.2 414.6,206.7 414.7,205.2 414.9,203.7 415.1,202.3 415.2,200.8 415.4,199.3 415.5,197.8 415.7,196.4 415.8,194.9 416.0,193.4 416.2,191.9 416.3,190.5 416.5,189.0 416.6,187.5 416.8,186.0 417.0,184.6 417.1,183.1 417.3,181.6 417.5,180.1 417.6,178.6 417.8,177.2 418.0,175.7 418.1,174.2 418.3,172.7 418.5,171.2 418.7,169.8 418.9,168.3 419.0,166.8 419.2,165.3 419.4,163.8 419.6,162.3 419.8,160.8 420.0,159.4 420.2,157.9 420.4,156.4 420.6,154.9 420.8,153.4 421.1,151.9 421.3,150.4 421.5,148.9 421.7,147.4 422.0,145.9 422.2,144.4 422.5,142.9 422.7,141.4 423.0,139.9 423.2,138.4 423.6,135.5 423.6,131.5 427.7,109.5 432.4,92.1 437.0,85.5 441.6,86.7 446.3,91.5 450.9,95.9 455.6,98.4 460.2,98.4 464.8,95.5 469.5,90.9 474.1,85.0 478.7,78.3 483.4,71.8 488.0,65.8 492.6,60.0 497.3,54.7 501.9,51.2 506.6,49.9 511.2,50.0 515.8,50.7 520.5,49.7 525.1,47.8 529.7,45.8 534.4,44.0 539.0,42.7 543.6,42.3 548.3,44.2 552.9,53.6 557.6,66.6 562.2,78.7 566.8,88.1 571.5,92.1 576.1,92.5 580.7,94.0 585.4,98.2 590.0,105.9 594.6,112.0 599.3,115.1 603.9,116.8 608.6,117.6 613.2,117.7 617.8,117.2 622.5,116.9 627.1,119.3 631.7,125.8 636.4,132.2 641.0,137.4 645.6,141.4 650.3,144.1 654.9,145.9 659.6,147.4 664.2,148.8 668.8,150.3 673.5,151.6 678.1,152.1 682.7,151.5 687.4,150.9 692.0,150.7 696.7,150.1 701.3,150.2 705.9,151.4 710.6,152.4 715.2,152.9 719.8,153.0 724.5,152.6 729.1,151.8 733.7,150.9 738.4,150.2 743.0,149.5 747.7,148.8 752.3,147.8 756.9,146.7 761.6,145.6 766.2,144.3 770.8,143.0 775.5,141.7 780.1,140.5 784.7,139.3 789.4,138.3" stroke="#0000ff" stroke-dasharray="9.7,4.4,2.6,4.4"/>
<path d="M151.3,516.3 151.7,514.9 152.1,513.5 152.6,512.2 153.0,510.8 153.5,509.4 153.9,508.0 154.4,506.5 154.9,505.1 155.3,503.7 155.8,502.3 156.3,500.9 156.7,499.5 157.2,498.1 157.7,496.7 158.2,495.3 158.7,493.8 159.2,492.4 159.7,491.0 160.2,489.6 160.7,488.2 161.3,486.8 161.8,485.3 162.3,483.9 162.9,482.5 163.4,481.1 164.0,479.7 164.5,478.3 165.1,476.9 165.6,475.5 166.2,474.1 166.8,472.7 167.4,471.3 168.0,469.9 168.6,468.5 169.2,467.1 169.8,465.7 170.4,464.3 171.0,462.9 171.7,461.6 172.3,460.2 173.0,458.8 173.6,457.5 174.3,456.1 175.0,454.8 175.6,453.4 176.3,452.1 177.0,450.7 177.7,449.4 178.4,448.1 179.2,446.8 179.9,445.4 180.6,444.1 181.4,442.8 182.1,441.5 182.9,440.3 183.7,439.0 184.5,437.7 185.3,436.4 186.1,435.2 186.9,433.9 187.7,432.7 188.6,431.5 189.4,430.2 190.3,429.0 191.1,427.8 192.0,426.6 192.9,425.4 193.8,424.3 194.7,423.1 195.6,421.9 196.5,420.8 197.5,419.6 198.4,418.5 199.4,417.4 200.4,416.3 201.4,415.2 202.4,414.1 203.4,413.0 204.4,412.0 205.5,410.9 206.5,409.9 207.6,408.9 208.6,407.9 209.7,406.9 210.8,405.9 211.9,404.9 213.1,403.9 214.2,403.0 215.3,402.0 216.5,401.1 217.7,400.2 218.9,399.3 220.1,398.4 221.3,397.5 222.5,396.7 223.7,395.8 225.0,395.0 226.2,394.1 227.5,393.3 228.7,392.4 230.0,391.6 231.2,390.8 232.5,390.0 233.8,389.2 235.1,388.3 236.3,387.5 237.6,386.7 238.9,385.9 240.2,385.1 241.5,384.3 242.8,383.5 244.1,382.7 245.3,381.9 246.6,381.1 247.9,380.3 249.2,379.4 250.4,378.6 251.7,377.8 253.0,376.9 254.2,376.1 255.5,375.3 256.8,374.4 258.0,373.6 259.3,372.7 260.5,371.9 261.8,371.0 263.0,370.2 264.3,369.3 265.5,368.5 266.7,367.6 268.0,366.8 269.2,365.9 270.5,365.1 271.7,364.2 272.9,363.4 274.2,362.5 275.4,361.7 276.7,360.8 277.9,360.0 279.2,359.2 280.4,358.3 281.6,357.5 282.9,356.7 284.1,355.9 285.4,355.1 286.6,354.3 287.9,353.5 289.1,352.7 290.4,351.9 291.7,351.1 292.9,350.3 294.2,349.6 295.5,348.8 296.7,348.1 298.0,347.3 299.3,346.6 300.6,345.9 301.9,345.1 303.2,344.4 304.5,343.7 305.8,343.0 307.1,342.3 308.4,341.7 309.7,341.0 311.0,340.3 312.3,339.6 313.6,339.0 315.0,338.3 316.3,337.7 317.6,337.0 319.0,336.4 320.3,335.8 321.7,335.2 323.0,334.5 324.4,333.9 325.7,333.3 327.1,332.7 328.5,332.1 329.8,331.5 331.2,330.9 332.6,330.3 334.0,329.7 335.3,329.1 336.7,328.6 338.1,328.0 339.5,327.4 340.9,326.8 342.3,326.3 343.8,325.7 345.2,325.1 346.6,324.6 348.0,324.0 349.4,323.5 350.9,322.9 352.3,322.4 353.8,321.8 355.2,321.2 356.6,320.7 358.1,320.1 359.5,319.6 360.9,319.0 362.4,318.4 363.8,317.8 365.2,317.2 366.6,316.6 368.0,316.0 369.4,315.4 370.8,314.7 372.1,314.1 373.5,313.4 374.8,312.7 376.1,312.0 377.4,311.3 378.7,310.6 379.9,309.8 381.2,309.1 382.4,308.3 383.6,307.4 384.7,306.6 385.9,305.7 387.0,304.8 388.0,303.9 389.1,302.9 390.1,301.9 391.1,300.9 392.0,299.9 393.0,298.8 393.8,297.7 394.7,296.6 395.5,295.4 396.3,294.2 397.0,293.0 397.8,291.7 398.4,290.5 399.1,289.2 399.8,287.8 400.4,286.5 401.0,285.2 401.5,283.8 402.1,282.4 402.6,281.0 403.1,279.6 403.5,278.1 404.0,276.7 404.4,275.2 404.9,273.8 405.3,272.3 405.6,270.8 406.0,269.4 406.4,267.9 406.7,266.4 407.0,264.9 407.3,263.4 407.6,261.9 407.9,260.4 408.2,258.9 408.5,257.4 408.8,256.0 409.0,254.5 409.2,253.0 409.5,251.5 409.7,250.0 409.9,248.5 410.1,247.0 410.3,245.5 410.5,244.0 410.7,242.5 410.9,241.0 411.1,239.5 411.2,238.0 411.4,236.5 411.6,235.0 411.7,233.5 411.9,232.0 412.0,230.5 412.2,229.0 412.3,227.5 412.5,226.0 412.6,224.5 412.7,223.0 412.9,221.6 413.0,220.1 413.1,218.6 413.3,217.1 413.4,215.6 413.5,214.1 413.7,212.6 413.8,211.1 414.0,209.6 414.1,208.1 414.2,206.6 414.4,205.2 414.5,203.7 414.7,202.2 414.9,200.7 415.0,199.2 415.2,197.7 415.4,196.3 415.5,194.8 415.7,193.3 415.9,191.8 416.1,190.3 416.3,188.9 416.5,187.4 416.7,185.9 416.9,184.4 417.1,183.0 417.3,181.5 417.5,180.0 417.7,178.6 418.0,177.1 418.2,175.6 418.4,174.1 418.6,172.7 418.8,171.2 419.0,169.7 419.3,168.2 419.5,166.8 419.7,165.3 419.9,163.8 420.1,162.3 420.3,160.8 420.6,159.4 420.8,157.9 421.0,156.4 421.2,154.9 421.4,153.4 421.6,151.9 421.8,150.4 422.0,149.0 422.1,147.5 422.3,146.0 422.5,144.5 422.7,143.0 422.9,141.5 423.0,140.0 423.2,138.5 423.3,137.0 423.6,135.5 423.6,131.5 427.7,109.5 432.4,92.1 437.0,85.5 441.6,86.7 446.3,91.5 450.9,95.9 455.6,98.4 460.2,98.4 464.8,95.5 469.5,90.9 474.1,85.0 478.7,78.3 483.4,71.8 488.0,65.8 492.6,60.0 497.3,54.7 501.9,51.2 506.6,49.9 511.2,50.0 515.8,50.7 520.5,49.7 525.1,47.8 529.7,45.8 534.4,44.0 539.0,42.7 543.6,42.3 548.3,44.2 552.9,53.6 557.6,66.6 562.2,78.7 566.8,88.1 571.5,92.1 576.1,92.5 580.7,94.0 585.4,98.2 590.0,105.9 594.6,112.0 599.3,115.1 603.9,116.8 608.6,117.6 613.2,117.7 617.8,117.2 622.5,116.9 627.1,119.3 631.7,125.8 636.4,132.2 641.0,137.4 645.6,141.4 650.3,144.1 654.9,145.9 659.6,147.4 664.2,148.8 668.8,150.3 673.5,151.6 678.1,152.1 682.7,151.5 687.4,150.9 692.0,150.7 696.7,150.1 701.3,150.2 705.9,151.4 710.6,152.4 715.2,152.9 719.8,153.0 724.5,152.6 729.1,151.8 733.7,150.9 738.4,150.2 743.0,149.5 747.7,148.8 752.3,147.8 756.9,146.7 761.6,145.6 766.2,144.3 770.8,143.0 775.5,141.7 780.1,140.5 784.7,139.3 789.4,138.3" stroke="#0000ff" stroke-dasharray="9.55,9.25"/>
<path d="M141.2,516.3 141.3,516.1 141.5,514.5 141.7,513.0 142.0,511.5 142.2,509.9 142.5,508.4 142.7,506.9 143.0,505.4 143.3,503.9 143.6,502.4 143.9,500.9 144.2,499.4 144.5,497.9 144.8,496.5 145.1,495.0 145.4,493.5 145.7,492.1 146.0,490.6 146.4,489.1 146.7,487.7 147.1,486.2 147.4,484.8 147.8,483.4 148.1,481.9 148.5,480.5 148.9,479.0 149.2,477.6 149.6,476.2 150.0,474.8 150.4,473.3 150.8,471.9 151.2,470.5 151.6,469.1 152.0,467.7 152.4,466.2 152.8,464.8 153.3,463.4 153.7,462.0 154.1,460.6 154.5,459.2 155.0,457.8 155.4,456.4 155.9,455.0 156.3,453.6 156.7,452.2 157.2,450.8 157.6,449.4 158.1,448.0 158.6,446.5 159.0,445.1 159.5,443.7 160.0,442.3 160.4,440.9 160.9,439.5 161.4,438.1 161.8,436.7 162.3,435.3 162.8,433.9 163.3,432.5 163.8,431.1 164.3,429.7 164.7,428.3 165.2,426.8 165.7,425.4 166.2,424.0 166.7,422.6 167.2,421.1 167.7,419.7 168.2,418.3 168.7,416.9 169.2,415.4 169.7,414.0 170.2,412.5 170.7,411.1 171.2,409.7 171.7,408.2 172.2,406.8 172.7,405.3 173.2,403.8 173.7,402.4 174.2,400.9 174.7,399.5 175.2,398.0 175.7,396.6 176.3,395.1 176.8,393.7 177.4,392.2 177.9,390.8 178.5,389.4 179.0,387.9 179.6,386.5 180.2,385.1 180.8,383.7 181.4,382.3 182.0,380.9 182.6,379.5 183.2,378.1 183.9,376.7 184.5,375.4 185.2,374.0 185.9,372.7 186.6,371.3 187.3,370.0 188.0,368.7 188.7,367.4 189.5,366.2 190.2,364.9 191.0,363.7 191.8,362.4 192.7,361.2 193.5,360.0 194.4,358.8 195.2,357.7 196.1,356.5 197.0,355.4 198.0,354.3 198.9,353.2 199.9,352.1 200.9,351.1 201.9,350.1 203.0,349.1 204.0,348.1 205.1,347.1 206.3,346.2 207.4,345.3 208.6,344.4 209.7,343.5 210.9,342.7 212.2,341.8 213.4,341.0 214.7,340.2 215.9,339.4 217.2,338.7 218.5,337.9 219.8,337.2 221.2,336.5 222.5,335.8 223.8,335.1 225.2,334.4 226.6,333.7 227.9,333.1 229.3,332.4 230.7,331.8 232.1,331.1 233.5,330.5 234.9,329.8 236.2,329.2 237.6,328.6 239.0,328.0 240.4,327.4 241.8,326.7 243.2,326.1 244.6,325.5 245.9,324.9 247.3,324.3 248.7,323.7 250.1,323.1 251.4,322.5 252.8,321.9 254.2,321.3 255.6,320.7 256.9,320.1 258.3,319.5 259.7,318.9 261.0,318.3 262.4,317.7 263.8,317.1 265.1,316.5 266.5,315.9 267.9,315.4 269.2,314.8 270.6,314.2 272.0,313.6 273.3,313.0 274.7,312.5 276.1,311.9 277.5,311.3 278.9,310.8 280.2,310.2 281.6,309.7 283.0,309.1 284.4,308.5 285.8,308.0 287.2,307.4 288.6,306.9 290.0,306.4 291.4,305.8 292.8,305.3 294.2,304.7 295.6,304.2 297.0,303.7 298.4,303.1 299.8,302.6 301.2,302.1 302.6,301.5 304.0,301.0 305.5,300.5 306.9,300.0 308.3,299.4 309.7,298.9 311.1,298.4 312.5,297.9 313.9,297.4 315.3,296.8 316.7,296.3 318.1,295.8 319.5,295.3 320.9,294.8 322.3,294.3 323.7,293.7 325.1,293.2 326.5,292.7 327.9,292.2 329.3,291.7 330.7,291.3 332.2,290.8 333.6,290.3 335.0,289.8 336.4,289.3 337.8,288.9 339.2,288.4 340.6,288.0 342.1,287.5 343.5,287.1 344.9,286.7 346.4,286.3 347.8,285.9 349.2,285.5 350.7,285.1 352.1,284.7 353.6,284.3 355.0,283.9 356.5,283.5 357.9,283.1 359.4,282.8 360.9,282.4 362.3,282.0 363.8,281.6 365.3,281.2 366.7,280.8 368.2,280.4 369.7,280.0 371.2,279.6 372.6,279.1 374.1,278.7 375.6,278.2 377.1,277.8 378.6,277.3 380.0,276.8 381.5,276.3 383.0,275.7 384.4,275.2 385.8,274.6 387.2,273.9 388.5,273.3 389.9,272.6 391.2,271.8 392.4,271.1 393.6,270.2 394.7,269.4 395.8,268.4 396.9,267.5 397.8,266.4 398.8,265.4 399.6,264.2 400.5,263.1 401.3,261.9 402.0,260.7 402.7,259.4 403.4,258.1 404.0,256.8 404.6,255.4 405.1,254.0 405.7,252.6 406.2,251.2 406.6,249.8 407.1,248.4 407.5,246.9 407.9,245.5 408.3,244.0 408.7,242.5 409.1,241.1 409.4,239.6 409.8,238.1 410.1,236.7 410.5,235.2 410.8,233.7 411.1,232.2 411.4,230.8 411.6,229.3 411.9,227.8 412.2,226.3 412.4,224.8 412.7,223.3 412.9,221.9 413.1,220.4 413.3,218.9 413.6,217.4 413.8,215.9 414.0,214.4 414.1,212.9 414.3,211.4 414.5,209.9 414.7,208.5 414.9,207.0 415.0,205.5 415.2,204.0 415.3,202.5 415.5,201.0 415.6,199.5 415.8,198.0 415.9,196.5 416.1,195.0 416.2,193.5 416.3,192.0 416.5,190.5 416.6,189.0 416.7,187.5 416.9,186.0 417.0,184.5 417.2,183.0 417.3,181.5 417.4,180.0 417.6,178.5 417.7,177.0 417.9,175.5 418.0,174.1 418.1,172.6 418.3,171.1 418.5,169.6 418.6,168.1 418.8,166.6 419.0,165.1 419.1,163.6 419.3,162.1 419.5,160.6 419.7,159.2 419.9,157.7 420.1,156.2 420.3,154.7 420.5,153.2 420.8,151.7 421.0,150.3 421.2,148.8 421.5,147.3 421.8,145.8 422.0,144.4 422.3,142.9 422.6,141.4 422.9,140.0 423.2,138.5 423.6,135.5 423.6,131.5 427.7,109.5 432.4,92.1 437.0,85.5 441.6,86.7 446.3,91.5 450.9,95.9 455.6,98.4 460.2,98.4 464.8,95.5 469.5,90.9 474.1,85.0 478.7,78.3 483.4,71.8 488.0,65.8 492.6,60.0 497.3,54.7 501.9,51.2 506.6,49.9 511.2,50.0 515.8,50.7 520.5,49.7 525.1,47.8 529.7,45.8 534.4,44.0 539.0,42.7 543.6,42.3 548.3,44.2 552.9,53.6 557.6,66.6 562.2,78.7 566.8,88.1 571.5,92.1 576.1,92.5 580.7,94.0 585.4,98.2 590.0,105.9 594.6,112.0 599.3,115.1 603.9,116.8 608.6,117.6 613.2,117.7 617.8,117.2 622.5,116.9 627.1,119.3 631.7,125.8 636.4,132.2 641.0,137.4 645.6,141.4 650.3,144.1 654.9,145.9 659.6,147.4 664.2,148.8 668.8,150.3 673.5,151.6 678.1,152.1 682.7,151.5 687.4,150.9 692.0,150.7 696.7,150.1 701.3,150.2 705.9,151.4 710.6,152.4 715.2,152.9 719.8,153.0 724.5,152.6 729.1,151.8 733.7,150.9 738.4,150.2 743.0,149.5 747.7,148.8 752.3,147.8 756.9,146.7 761.6,145.6 766.2,144.3 770.8,143.0 775.5,141.7 780.1,140.5 784.7,139.3 789.4,138.3" stroke="#0000ff"/>
<path d="M183.7,516.3 183.7,516.3 184.8,515.2 185.8,514.1 186.8,513.0 187.9,512.0 188.9,510.9 190.0,509.8 191.0,508.7 192.0,507.6 193.1,506.5 194.1,505.5 195.1,504.4 196.1,503.3 197.2,502.2 198.2,501.1 199.2,500.0 200.2,498.9 201.3,497.8 202.3,496.7 203.3,495.6 204.3,494.5 205.3,493.4 206.3,492.3 207.3,491.2 208.3,490.1 209.3,489.0 210.3,487.9 211.3,486.8 212.3,485.7 213.3,484.6 214.3,483.5 215.3,482.3 216.2,481.2 217.2,480.1 218.2,479.0 219.2,477.8 220.2,476.7 221.1,475.6 222.1,474.5 223.1,473.3 224.0,472.2 225.0,471.0 225.9,469.9 226.9,468.7 227.8,467.6 228.8,466.4 229.7,465.3 230.7,464.1 231.6,463.0 232.5,461.8 233.5,460.6 234.4,459.5 235.3,458.3 236.2,457.1 237.2,456.0 238.1,454.8 239.0,453.6 239.9,452.4 240.8,451.2 241.7,450.0 242.6,448.8 243.5,447.7 244.4,446.5 245.3,445.3 246.2,444.1 247.1,442.9 248.0,441.7 248.9,440.5 249.8,439.3 250.7,438.1 251.6,436.9 252.5,435.7 253.4,434.5 254.3,433.3 255.3,432.2 256.2,431.0 257.1,429.8 258.0,428.6 259.0,427.5 259.9,426.3 260.9,425.1 261.8,424.0 262.8,422.8 263.7,421.7 264.7,420.6 265.7,419.4 266.7,418.3 267.7,417.2 268.7,416.1 269.7,415.0 270.7,413.9 271.7,412.8 272.8,411.7 273.8,410.6 274.8,409.5 275.9,408.5 277.0,407.4 278.0,406.4 279.1,405.3 280.2,404.3 281.3,403.3 282.4,402.3 283.5,401.3 284.6,400.3 285.8,399.3 286.9,398.3 288.0,397.3 289.2,396.4 290.3,395.4 291.5,394.5 292.6,393.6 293.8,392.6 295.0,391.7 296.2,390.8 297.4,389.9 298.6,389.1 299.8,388.2 301.0,387.4 302.3,386.5 303.5,385.7 304.7,384.9 306.0,384.1 307.2,383.3 308.5,382.5 309.8,381.7 311.0,381.0 312.3,380.2 313.6,379.5 314.9,378.7 316.2,378.0 317.5,377.3 318.8,376.6 320.1,375.9 321.5,375.2 322.8,374.5 324.1,373.9 325.5,373.2 326.8,372.6 328.2,371.9 329.5,371.3 330.9,370.6 332.2,370.0 333.6,369.4 335.0,368.8 336.4,368.2 337.7,367.6 339.1,367.0 340.5,366.4 341.9,365.8 343.3,365.2 344.7,364.6 346.1,364.0 347.5,363.4 348.9,362.8 350.3,362.3 351.7,361.7 353.1,361.1 354.5,360.5 355.9,359.8 357.3,359.2 358.6,358.6 360.0,357.9 361.4,357.3 362.7,356.6 364.1,355.9 365.4,355.2 366.7,354.5 368.0,353.8 369.3,353.1 370.6,352.3 371.9,351.5 373.1,350.7 374.4,349.9 375.6,349.0 376.8,348.2 378.0,347.3 379.1,346.4 380.2,345.4 381.4,344.5 382.4,343.5 383.5,342.5 384.5,341.5 385.6,340.4 386.5,339.3 387.5,338.2 388.4,337.1 389.3,336.0 390.2,334.8 391.0,333.6 391.9,332.4 392.7,331.2 393.4,329.9 394.2,328.7 394.9,327.4 395.6,326.1 396.3,324.8 396.9,323.4 397.5,322.1 398.1,320.7 398.7,319.4 399.2,318.0 399.8,316.6 400.3,315.2 400.8,313.8 401.2,312.4 401.7,310.9 402.1,309.5 402.5,308.1 402.9,306.6 403.2,305.2 403.6,303.7 403.9,302.3 404.2,300.8 404.5,299.3 404.8,297.9 405.0,296.4 405.3,294.9 405.5,293.4 405.8,291.9 406.0,290.4 406.2,288.9 406.4,287.4 406.6,285.9 406.8,284.4 406.9,282.9 407.1,281.4 407.3,279.9 407.4,278.3 407.6,276.8 407.7,275.3 407.9,273.8 408.0,272.3 408.1,270.8 408.3,269.3 408.4,267.7 408.6,266.2 408.7,264.7 408.8,263.2 409.0,261.7 409.1,260.2 409.3,258.7 409.4,257.2 409.6,255.7 409.7,254.2 409.9,252.7 410.0,251.2 410.2,249.7 410.3,248.2 410.5,246.7 410.6,245.2 410.8,243.8 411.0,242.3 411.1,240.8 411.3,239.3 411.4,237.8 411.6,236.3 411.8,234.8 411.9,233.4 412.1,231.9 412.3,230.4 412.4,228.9 412.6,227.4 412.8,226.0 412.9,224.5 413.1,223.0 413.3,221.5 413.5,220.1 413.6,218.6 413.8,217.1 414.0,215.6 414.1,214.2 414.3,212.7 414.5,211.2 414.7,209.7 414.8,208.3 415.0,206.8 415.2,205.3 415.4,203.8 415.6,202.4 415.7,200.9 415.9,199.4 416.1,197.9 416.3,196.5 416.4,195.0 416.6,193.5 416.8,192.0 417.0,190.6 417.2,189.1 417.3,187.6 417.5,186.1 417.7,184.7 417.9,183.2 418.1,181.7 418.2,180.2 418.4,178.8 418.6,177.3 418.8,175.8 419.0,174.3 419.1,172.8 419.3,171.3 419.5,169.9 419.7,168.4 419.8,166.9 420.0,165.4 420.2,163.9 420.4,162.4 420.6,160.9 420.7,159.4 420.9,157.9 421.1,156.5 421.3,155.0 421.4,153.5 421.6,152.0 421.8,150.5 421.9,149.0 422.1,147.5 422.3,146.0 422.5,144.4 422.6,142.9 422.8,141.4 423.0,139.9 423.1,138.4 423.3,136.9 423.6,135.5 427.7,113.5 432.4,95.2 437.0,87.1 441.6,88.6 446.3,94.6 450.9,101.0 455.6,105.1 460.2,107.1 464.8,107.3 469.5,105.8 474.1,102.7 478.7,98.1 483.4,91.6 488.0,84.3 492.6,78.1 497.3,73.6 501.9,70.7 506.6,69.1 511.2,68.7 515.8,68.3 520.5,67.3 525.1,65.6 529.7,63.6 534.4,61.6 539.0,59.2 543.6,57.8 548.3,60.5 552.9,69.1 557.6,85.3 562.2,96.3 566.8,105.3 571.5,107.8 576.1,108.1 580.7,109.8 585.4,114.1 590.0,122.2 594.6,130.3 599.3,134.7 603.9,137.1 608.6,138.9 613.2,139.9 617.8,139.6 622.5,139.4 627.1,141.1 631.7,145.4 636.4,150.1 641.0,154.1 645.6,156.9 650.3,158.9 654.9,160.3 659.6,161.3 664.2,162.0 668.8,162.4 673.5,162.6 678.1,162.7 682.7,162.6 687.4,162.0 692.0,161.0 696.7,160.3 701.3,160.0 705.9,159.9 710.6,159.8 715.2,159.3 719.8,158.7 724.5,157.8 729.1,156.8 733.7,155.6 738.4,154.4 743.0,153.1 747.7,151.9 752.3,150.6 756.9,149.4 761.6,148.2 766.2,147.0 770.8,145.8 775.5,144.6 780.1,143.3 784.7,142.0 789.4,140.6" stroke="#ff0040" stroke-dasharray="14.5,4.1,3,4.1,3,4.1,3,4.1"/>
<path d="M176.8,516.3 177.0,516.0 178.0,514.9 178.9,513.7 179.9,512.5 180.8,511.4 181.8,510.2 182.7,509.1 183.7,507.9 184.7,506.8 185.7,505.7 186.6,504.5 187.6,503.4 188.6,502.3 189.6,501.1 190.6,500.0 191.6,498.9 192.6,497.8 193.6,496.7 194.6,495.6 195.6,494.5 196.6,493.3 197.6,492.2 198.6,491.1 199.7,490.0 200.7,488.9 201.7,487.8 202.7,486.7 203.7,485.6 204.8,484.6 205.8,483.5 206.8,482.4 207.8,481.3 208.9,480.2 209.9,479.1 210.9,478.0 212.0,476.9 213.0,475.8 214.0,474.7 215.0,473.6 216.1,472.6 217.1,471.5 218.1,470.4 219.2,469.3 220.2,468.2 221.2,467.1 222.2,466.0 223.2,464.9 224.3,463.8 225.3,462.7 226.3,461.6 227.3,460.5 228.3,459.4 229.3,458.3 230.3,457.2 231.3,456.1 232.3,455.0 233.3,453.9 234.3,452.8 235.3,451.6 236.3,450.5 237.3,449.4 238.3,448.3 239.3,447.2 240.3,446.0 241.2,444.9 242.2,443.8 243.2,442.7 244.2,441.5 245.2,440.4 246.1,439.3 247.1,438.1 248.1,437.0 249.1,435.9 250.1,434.8 251.1,433.6 252.0,432.5 253.0,431.4 254.0,430.3 255.0,429.2 256.0,428.1 257.0,426.9 258.0,425.8 259.0,424.7 260.0,423.6 261.1,422.5 262.1,421.4 263.1,420.4 264.1,419.3 265.2,418.2 266.2,417.1 267.3,416.0 268.3,415.0 269.4,413.9 270.5,412.9 271.5,411.8 272.6,410.8 273.7,409.7 274.8,408.7 275.9,407.7 277.0,406.6 278.1,405.6 279.2,404.6 280.3,403.6 281.5,402.6 282.6,401.6 283.7,400.6 284.9,399.7 286.0,398.7 287.2,397.7 288.3,396.8 289.5,395.8 290.6,394.9 291.8,393.9 293.0,393.0 294.2,392.1 295.4,391.2 296.6,390.3 297.8,389.4 299.0,388.5 300.2,387.6 301.4,386.7 302.6,385.8 303.8,385.0 305.0,384.1 306.3,383.3 307.5,382.5 308.8,381.7 310.0,380.8 311.3,380.0 312.5,379.2 313.8,378.5 315.0,377.7 316.3,376.9 317.6,376.2 318.9,375.4 320.2,374.7 321.5,374.0 322.8,373.2 324.1,372.5 325.4,371.8 326.7,371.1 328.1,370.5 329.4,369.8 330.8,369.2 332.1,368.5 333.5,367.9 334.9,367.3 336.2,366.7 337.6,366.1 339.0,365.5 340.4,364.9 341.8,364.3 343.2,363.8 344.7,363.2 346.1,362.7 347.5,362.1 349.0,361.6 350.4,361.1 351.8,360.5 353.3,360.0 354.7,359.4 356.1,358.9 357.5,358.3 358.9,357.7 360.3,357.1 361.7,356.5 363.0,355.9 364.4,355.2 365.7,354.5 367.0,353.8 368.3,353.0 369.6,352.3 370.9,351.5 372.1,350.7 373.4,349.8 374.6,348.9 375.7,348.1 376.9,347.1 378.1,346.2 379.2,345.3 380.3,344.3 381.4,343.3 382.4,342.3 383.5,341.2 384.5,340.2 385.5,339.1 386.5,338.0 387.5,336.9 388.4,335.7 389.3,334.6 390.2,333.4 391.1,332.2 391.9,331.0 392.7,329.8 393.5,328.6 394.3,327.3 395.0,326.0 395.8,324.8 396.5,323.5 397.2,322.2 397.8,320.8 398.4,319.5 399.0,318.2 399.6,316.8 400.2,315.4 400.7,314.0 401.2,312.7 401.6,311.3 402.1,309.8 402.5,308.4 402.9,307.0 403.3,305.6 403.7,304.1 404.0,302.7 404.3,301.2 404.6,299.7 404.9,298.3 405.2,296.8 405.4,295.3 405.7,293.8 405.9,292.3 406.1,290.8 406.3,289.3 406.5,287.8 406.7,286.3 406.8,284.8 407.0,283.2 407.1,281.7 407.3,280.2 407.4,278.7 407.6,277.1 407.7,275.6 407.8,274.1 408.0,272.6 408.1,271.0 408.2,269.5 408.3,268.0 408.5,266.5 408.6,265.0 408.7,263.4 408.9,261.9 409.0,260.4 409.1,258.9 409.3,257.4 409.4,255.9 409.6,254.4 409.7,252.9 409.9,251.4 410.0,249.9 410.2,248.4 410.3,246.9 410.5,245.4 410.6,243.9 410.8,242.4 410.9,240.9 411.1,239.4 411.3,237.9 411.4,236.4 411.6,235.0 411.8,233.5 411.9,232.0 412.1,230.5 412.3,229.0 412.5,227.6 412.6,226.1 412.8,224.6 413.0,223.1 413.2,221.6 413.3,220.2 413.5,218.7 413.7,217.2 413.9,215.7 414.1,214.3 414.3,212.8 414.4,211.3 414.6,209.8 414.8,208.4 415.0,206.9 415.2,205.4 415.4,203.9 415.5,202.5 415.7,201.0 415.9,199.5 416.1,198.1 416.3,196.6 416.5,195.1 416.7,193.6 416.9,192.2 417.0,190.7 417.2,189.2 417.4,187.7 417.6,186.3 417.8,184.8 418.0,183.3 418.2,181.8 418.3,180.3 418.5,178.9 418.7,177.4 418.9,175.9 419.1,174.4 419.3,172.9 419.4,171.5 419.6,170.0 419.8,168.5 420.0,167.0 420.1,165.5 420.3,164.0 420.5,162.5 420.7,161.0 420.8,159.5 421.0,158.0 421.2,156.5 421.3,155.0 421.5,153.5 421.7,152.0 421.8,150.5 422.0,149.0 422.2,147.5 422.3,146.0 422.5,144.5 422.6,143.0 422.8,141.4 422.9,139.9 423.1,138.4 423.2,136.9 423.4,135.3 423.6,135.5 427.7,113.5 432.4,95.2 437.0,87.1 441.6,88.6 446.3,94.6 450.9,101.0 455.6,105.1 460.2,107.1 464.8,107.3 469.5,105.8 474.1,102.7 478.7,98.1 483.4,91.6 488.0,84.3 492.6,78.1 497.3,73.6 501.9,70.7 506.6,69.1 511.2,68.7 515.8,68.3 520.5,67.3 525.1,65.6 529.7,63.6 534.4,61.6 539.0,59.2 543.6,57.8 548.3,60.5 552.9,69.1 557.6,85.3 562.2,96.3 566.8,105.3 571.5,107.8 576.1,108.1 580.7,109.8 585.4,114.1 590.0,122.2 594.6,130.3 599.3,134.7 603.9,137.1 608.6,138.9 613.2,139.9 617.8,139.6 622.5,139.4 627.1,141.1 631.7,145.4 636.4,150.1 641.0,154.1 645.6,156.9 650.3,158.9 654.9,160.3 659.6,161.3 664.2,162.0 668.8,162.4 673.5,162.6 678.1,162.7 682.7,162.6 687.4,162.0 692.0,161.0 696.7,160.3 701.3,160.0 705.9,159.9 710.6,159.8 715.2,159.3 719.8,158.7 724.5,157.8 729.1,156.8 733.7,155.6 738.4,154.4 743.0,153.1 747.7,151.9 752.3,150.6 756.9,149.4 761.6,148.2 766.2,147.0 770.8,145.8 775.5,144.6 780.1,143.3 784.7,142.0 789.4,140.6" stroke="#ff0040" stroke-dasharray="9.7,4.4,2.6,4.4"/>
<path d="M162.8,516.3 163.3,515.1 163.8,513.7 164.4,512.4 164.9,511.0 165.5,509.6 166.0,508.2 166.6,506.8 167.2,505.4 167.7,504.1 168.3,502.7 168.9,501.3 169.5,499.9 170.1,498.5 170.7,497.1 171.3,495.8 171.9,494.4 172.6,493.0 173.2,491.6 173.9,490.3 174.5,488.9 175.2,487.5 175.8,486.2 176.5,484.8 177.2,483.5 177.9,482.1 178.6,480.8 179.3,479.5 180.1,478.1 180.8,476.8 181.5,475.5 182.3,474.2 183.1,472.9 183.8,471.6 184.6,470.3 185.4,469.0 186.2,467.8 187.0,466.5 187.9,465.3 188.7,464.0 189.6,462.8 190.4,461.6 191.3,460.4 192.2,459.2 193.1,458.0 194.0,456.8 194.9,455.6 195.9,454.5 196.8,453.3 197.8,452.2 198.8,451.1 199.7,450.0 200.8,448.9 201.8,447.8 202.8,446.8 203.8,445.7 204.9,444.7 206.0,443.7 207.0,442.6 208.1,441.6 209.2,440.6 210.3,439.7 211.5,438.7 212.6,437.7 213.7,436.8 214.9,435.8 216.0,434.9 217.2,433.9 218.4,433.0 219.5,432.1 220.7,431.2 221.9,430.3 223.1,429.4 224.3,428.5 225.5,427.6 226.7,426.7 227.9,425.8 229.1,424.9 230.3,424.0 231.6,423.2 232.8,422.3 234.0,421.4 235.2,420.5 236.5,419.7 237.7,418.8 238.9,417.9 240.1,417.1 241.4,416.2 242.6,415.3 243.8,414.4 245.0,413.5 246.3,412.7 247.5,411.8 248.7,410.9 249.9,410.0 251.1,409.1 252.3,408.2 253.5,407.3 254.7,406.4 255.9,405.5 257.1,404.6 258.3,403.7 259.5,402.8 260.7,401.9 261.9,401.0 263.1,400.1 264.3,399.2 265.5,398.3 266.7,397.4 267.9,396.5 269.1,395.6 270.3,394.7 271.5,393.8 272.7,392.9 273.9,392.0 275.1,391.1 276.3,390.2 277.5,389.3 278.7,388.4 279.9,387.5 281.1,386.7 282.3,385.8 283.6,384.9 284.8,384.1 286.0,383.2 287.2,382.3 288.4,381.5 289.7,380.6 290.9,379.8 292.1,379.0 293.4,378.1 294.6,377.3 295.9,376.5 297.1,375.7 298.4,374.9 299.6,374.1 300.9,373.3 302.1,372.5 303.4,371.7 304.7,371.0 306.0,370.2 307.3,369.5 308.6,368.7 309.9,368.0 311.2,367.3 312.5,366.6 313.8,365.9 315.1,365.2 316.4,364.5 317.8,363.8 319.1,363.1 320.5,362.5 321.8,361.9 323.2,361.2 324.6,360.6 325.9,360.0 327.3,359.4 328.7,358.8 330.1,358.2 331.5,357.6 332.9,357.0 334.3,356.4 335.7,355.9 337.1,355.3 338.5,354.7 339.9,354.1 341.3,353.6 342.7,353.0 344.1,352.4 345.5,351.8 346.9,351.3 348.3,350.7 349.7,350.1 351.1,349.5 352.5,348.9 353.8,348.3 355.2,347.7 356.6,347.1 358.0,346.4 359.3,345.8 360.7,345.2 362.0,344.5 363.4,343.8 364.7,343.2 366.0,342.5 367.3,341.8 368.6,341.0 369.9,340.3 371.2,339.5 372.5,338.8 373.8,338.0 375.0,337.2 376.3,336.3 377.5,335.5 378.7,334.6 379.9,333.8 381.0,332.9 382.2,331.9 383.3,331.0 384.4,330.0 385.5,329.0 386.6,328.0 387.6,327.0 388.6,325.9 389.6,324.9 390.5,323.8 391.5,322.6 392.4,321.5 393.2,320.3 394.1,319.1 394.9,317.9 395.7,316.7 396.4,315.4 397.1,314.1 397.8,312.8 398.5,311.5 399.2,310.2 399.8,308.9 400.4,307.5 400.9,306.2 401.5,304.8 402.0,303.4 402.5,302.0 403.0,300.6 403.4,299.2 403.8,297.8 404.2,296.4 404.6,294.9 405.0,293.5 405.3,292.0 405.6,290.6 406.0,289.1 406.3,287.6 406.5,286.2 406.8,284.7 407.0,283.2 407.3,281.7 407.5,280.2 407.7,278.7 407.9,277.2 408.1,275.7 408.3,274.2 408.4,272.7 408.6,271.2 408.7,269.7 408.9,268.1 409.0,266.6 409.2,265.1 409.3,263.6 409.4,262.1 409.5,260.5 409.6,259.0 409.7,257.5 409.9,256.0 410.0,254.4 410.1,252.9 410.2,251.4 410.3,249.9 410.4,248.4 410.6,246.8 410.7,245.3 410.8,243.8 410.9,242.3 411.1,240.8 411.2,239.3 411.3,237.8 411.5,236.3 411.6,234.8 411.8,233.3 411.9,231.8 412.1,230.3 412.3,228.9 412.4,227.4 412.6,225.9 412.7,224.4 412.9,222.9 413.1,221.4 413.3,220.0 413.4,218.5 413.6,217.0 413.8,215.5 414.0,214.1 414.1,212.6 414.3,211.1 414.5,209.7 414.7,208.2 414.9,206.7 415.1,205.2 415.3,203.8 415.5,202.3 415.6,200.8 415.8,199.4 416.0,197.9 416.2,196.4 416.4,195.0 416.6,193.5 416.8,192.0 417.0,190.6 417.2,189.1 417.4,187.6 417.6,186.2 417.8,184.7 418.0,183.2 418.2,181.8 418.3,180.3 418.5,178.8 418.7,177.3 418.9,175.9 419.1,174.4 419.3,172.9 419.5,171.4 419.7,170.0 419.9,168.5 420.0,167.0 420.2,165.5 420.4,164.0 420.6,162.5 420.8,161.0 420.9,159.5 421.1,158.1 421.3,156.6 421.4,155.1 421.6,153.6 421.8,152.1 421.9,150.5 422.1,149.0 422.2,147.5 422.4,146.0 422.5,144.5 422.7,143.0 422.8,141.5 423.0,139.9 423.1,138.4 423.2,136.9 423.4,135.3 423.6,135.5 427.7,113.5 432.4,95.2 437.0,87.1 441.6,88.6 446.3,94.6 450.9,101.0 455.6,105.1 460.2,107.1 464.8,107.3 469.5,105.8 474.1,102.7 478.7,98.1 483.4,91.6 488.0,84.3 492.6,78.1 497.3,73.6 501.9,70.7 506.6,69.1 511.2,68.7 515.8,68.3 520.5,67.3 525.1,65.6 529.7,63.6 534.4,61.6 539.0,59.2 543.6,57.8 548.3,60.5 552.9,69.1 557.6,85.3 562.2,96.3 566.8,105.3 571.5,107.8 576.1,108.1 580.7,109.8 585.4,114.1 590.0,122.2 594.6,130.3 599.3,134.7 603.9,137.1 608.6,138.9 613.2,139.9 617.8,139.6 622.5,139.4 627.1,141.1 631.7,145.4 636.4,150.1 641.0,154.1 645.6,156.9 650.3,158.9 654.9,160.3 659.6,161.3 664.2,162.0 668.8,162.4 673.5,162.6 678.1,162.7 682.7,162.6 687.4,162.0 692.0,161.0 696.7,160.3 701.3,160.0 705.9,159.9 710.6,159.8 715.2,159.3 719.8,158.7 724.5,157.8 729.1,156.8 733.7,155.6 738.4,154.4 743.0,153.1 747.7,151.9 752.3,150.6 756.9,149.4 761.6,148.2 766.2,147.0 770.8,145.8 775.5,144.6 780.1,143.3 784.7,142.0 789.4,140.6" stroke="#ff0040" stroke-dasharray="9.55,9.25"/>
<path d="M148.8,516.3 148.9,516.1 149.2,514.7 149.5,513.2 149.9,511.7 150.2,510.2 150.5,508.8 150.9,507.3 151.2,505.8 151.6,504.4 151.9,502.9 152.3,501.4 152.6,500.0 153.0,498.5 153.4,497.1 153.7,495.6 154.1,494.2 154.5,492.7 154.8,491.3 155.2,489.8 155.6,488.4 156.0,486.9 156.4,485.5 156.7,484.1 157.1,482.6 157.5,481.2 157.9,479.7 158.3,478.3 158.8,476.9 159.2,475.4 159.6,474.0 160.0,472.6 160.4,471.2 160.9,469.7 161.3,468.3 161.7,466.9 162.2,465.5 162.6,464.0 163.1,462.6 163.5,461.2 164.0,459.8 164.5,458.4 164.9,457.0 165.4,455.5 165.9,454.1 166.4,452.7 166.9,451.3 167.4,449.9 167.9,448.5 168.4,447.1 168.9,445.7 169.4,444.3 169.9,442.9 170.5,441.4 171.0,440.0 171.5,438.6 172.1,437.2 172.6,435.8 173.2,434.4 173.8,433.0 174.3,431.6 174.9,430.2 175.5,428.8 176.1,427.4 176.7,426.0 177.3,424.6 177.9,423.2 178.5,421.8 179.2,420.5 179.8,419.1 180.4,417.7 181.1,416.3 181.8,415.0 182.5,413.6 183.1,412.3 183.8,410.9 184.6,409.6 185.3,408.3 186.0,407.0 186.8,405.7 187.6,404.4 188.3,403.1 189.1,401.8 189.9,400.6 190.8,399.3 191.6,398.1 192.5,396.9 193.3,395.7 194.2,394.5 195.1,393.3 196.1,392.1 197.0,391.0 198.0,389.8 198.9,388.7 199.9,387.6 201.0,386.5 202.0,385.5 203.1,384.4 204.1,383.4 205.2,382.4 206.3,381.4 207.4,380.4 208.6,379.4 209.7,378.5 210.9,377.5 212.1,376.6 213.2,375.7 214.4,374.8 215.6,373.9 216.9,373.0 218.1,372.1 219.3,371.3 220.5,370.4 221.8,369.6 223.0,368.8 224.3,367.9 225.6,367.1 226.8,366.3 228.1,365.5 229.4,364.7 230.7,363.9 231.9,363.2 233.2,362.4 234.5,361.6 235.8,360.9 237.1,360.1 238.4,359.4 239.7,358.6 241.0,357.9 242.3,357.2 243.7,356.5 245.0,355.8 246.3,355.1 247.6,354.4 248.9,353.7 250.3,353.0 251.6,352.3 252.9,351.7 254.3,351.0 255.6,350.3 257.0,349.7 258.3,349.0 259.7,348.4 261.0,347.7 262.4,347.1 263.7,346.5 265.1,345.9 266.5,345.2 267.8,344.6 269.2,344.0 270.6,343.4 271.9,342.8 273.3,342.2 274.7,341.6 276.1,341.0 277.4,340.4 278.8,339.9 280.2,339.3 281.6,338.7 283.0,338.1 284.4,337.6 285.8,337.0 287.1,336.5 288.5,335.9 289.9,335.3 291.3,334.8 292.7,334.2 294.1,333.7 295.5,333.2 296.9,332.6 298.3,332.1 299.7,331.5 301.1,331.0 302.5,330.5 303.9,330.0 305.3,329.4 306.7,328.9 308.2,328.4 309.6,327.9 311.0,327.3 312.4,326.8 313.8,326.3 315.2,325.8 316.6,325.3 318.0,324.8 319.4,324.3 320.8,323.8 322.2,323.2 323.7,322.7 325.1,322.2 326.5,321.7 327.9,321.2 329.3,320.7 330.7,320.2 332.1,319.7 333.5,319.2 334.9,318.7 336.3,318.2 337.8,317.7 339.2,317.2 340.6,316.6 342.0,316.1 343.4,315.6 344.8,315.1 346.2,314.6 347.6,314.1 349.0,313.6 350.4,313.1 351.8,312.5 353.2,312.0 354.6,311.5 356.0,311.0 357.4,310.5 358.8,309.9 360.2,309.4 361.6,308.9 363.0,308.3 364.4,307.8 365.8,307.2 367.3,306.7 368.7,306.1 370.1,305.6 371.5,305.0 372.9,304.4 374.3,303.9 375.8,303.3 377.2,302.7 378.6,302.1 380.0,301.5 381.4,300.9 382.8,300.3 384.2,299.7 385.6,299.0 387.0,298.3 388.3,297.6 389.6,296.9 390.8,296.1 392.1,295.3 393.3,294.5 394.4,293.6 395.5,292.7 396.5,291.7 397.5,290.7 398.4,289.7 399.3,288.6 400.1,287.5 400.8,286.3 401.6,285.1 402.2,283.8 402.8,282.6 403.4,281.2 404.0,279.9 404.5,278.5 404.9,277.1 405.4,275.7 405.8,274.3 406.1,272.8 406.5,271.4 406.8,269.9 407.1,268.4 407.4,266.9 407.7,265.4 408.0,263.8 408.2,262.3 408.5,260.8 408.7,259.3 409.0,257.7 409.2,256.2 409.5,254.7 409.7,253.2 409.9,251.7 410.1,250.2 410.4,248.7 410.6,247.2 410.8,245.7 411.0,244.2 411.2,242.6 411.4,241.1 411.6,239.6 411.8,238.1 412.0,236.7 412.2,235.2 412.3,233.7 412.5,232.2 412.7,230.7 412.9,229.2 413.1,227.7 413.2,226.2 413.4,224.7 413.6,223.2 413.7,221.7 413.9,220.2 414.1,218.8 414.2,217.3 414.4,215.8 414.5,214.3 414.7,212.8 414.9,211.3 415.0,209.9 415.2,208.4 415.3,206.9 415.5,205.4 415.6,203.9 415.8,202.4 415.9,201.0 416.1,199.5 416.2,198.0 416.4,196.5 416.5,195.0 416.7,193.6 416.8,192.1 417.0,190.6 417.1,189.1 417.3,187.6 417.4,186.2 417.6,184.7 417.7,183.2 417.9,181.7 418.0,180.2 418.2,178.8 418.3,177.3 418.5,175.8 418.7,174.3 418.8,172.8 419.0,171.3 419.2,169.9 419.3,168.4 419.5,166.9 419.7,165.4 419.8,163.9 420.0,162.4 420.2,160.9 420.4,159.4 420.5,157.9 420.7,156.4 420.9,155.0 421.1,153.5 421.3,152.0 421.5,150.5 421.7,149.0 421.9,147.5 422.1,146.0 422.3,144.5 422.5,143.0 422.8,141.5 423.0,139.9 423.2,138.4 423.6,135.5 427.7,113.5 432.4,95.2 437.0,87.1 441.6,88.6 446.3,94.6 450.9,101.0 455.6,105.1 460.2,107.1 464.8,107.3 469.5,105.8 474.1,102.7 478.7,98.1 483.4,91.6 488.0,84.3 492.6,78.1 497.3,73.6 501.9,70.7 506.6,69.1 511.2,68.7 515.8,68.3 520.5,67.3 525.1,65.6 529.7,63.6 534.4,61.6 539.0,59.2 543.6,57.8 548.3,60.5 552.9,69.1 557.6,85.3 562.2,96.3 566.8,105.3 571.5,107.8 576.1,108.1 580.7,109.8 585.4,114.1 590.0,122.2 594.6,130.3 599.3,134.7 603.9,137.1 608.6,138.9 613.2,139.9 617.8,139.6 622.5,139.4 627.1,141.1 631.7,145.4 636.4,150.1 641.0,154.1 645.6,156.9 650.3,158.9 654.9,160.3 659.6,161.3 664.2,162.0 668.8,162.4 673.5,162.6 678.1,162.7 682.7,162.6 687.4,162.0 692.0,161.0 696.7,160.3 701.3,160.0 705.9,159.9 710.6,159.8 715.2,159.3 719.8,158.7 724.5,157.8 729.1,156.8 733.7,155.6 738.4,154.4 743.0,153.1 747.7,151.9 752.3,150.6 756.9,149.4 761.6,148.2 766.2,147.0 770.8,145.8 775.5,144.6 780.1,143.3 784.7,142.0 789.4,140.6" stroke="#ff0040"/>
</g>
<g fill="none" stroke-width="2.00">
<path d="M140.3,62.3H233.0" stroke="#000"/>
<path d="M140.3,95.4H233.0" stroke="#0000ff"/>
<path d="M140.3,128.5H233.0" stroke="#ff0040"/>
<path d="M557.6,360.2H650.3" stroke="#000" stroke-dasharray="14.5,4.1,3,4.1,3,4.1,3,4.1"/>
<path d="M557.6,393.3H650.3" stroke="#000" stroke-dasharray="9.7,4.4,2.6,4.4"/>
<path d="M557.6,426.4H650.3" stroke="#000" stroke-dasharray="9.55,9.25"/>
<path d="M557.6,459.5H650.3" stroke="#000"/>
</g>
<path d="M296.15,58.90 295.96,59.09 295.84,59.35 295.84,59.81 295.90,59.94 296.27,60.33 296.46,60.39 297.65,60.39 297.77,60.52 297.77,68.19 297.71,68.26 296.59,68.26 296.21,68.39 295.96,68.65 295.84,68.91 295.84,69.30 295.96,69.56 296.21,69.82 296.59,69.95 301.27,69.95 301.34,69.88 301.52,69.88 301.71,69.75 301.96,69.43 301.96,69.17 302.02,69.04 301.90,68.65 301.52,68.32 301.34,68.32 301.27,68.26 300.15,68.26 300.09,68.19 300.09,63.64 300.52,62.28 300.65,62.02 301.59,61.04 302.65,60.46 303.09,60.39 303.15,60.52 303.09,60.59 303.02,61.04 303.21,61.50 304.09,62.34 304.21,62.41 304.71,62.41 305.09,62.21 305.84,61.37 305.96,60.98 305.96,60.20 305.90,60.13 305.90,59.94 305.71,59.61 305.09,58.96 304.52,58.70 302.52,58.70 302.46,58.77 302.02,58.83 300.90,59.42 300.15,60.13 300.09,60.07 300.09,59.55 300.02,59.48 300.02,59.29 299.96,59.16 299.52,58.77 299.34,58.77 299.27,58.70 296.59,58.70ZM284.21,60.33 284.21,60.46 284.02,60.85 284.02,61.69 284.27,62.21 284.59,62.41 284.77,62.41 284.84,62.47 285.52,62.47 285.59,62.41 285.77,62.41 286.15,62.08 286.34,61.63 286.34,60.91 286.27,60.85 286.40,60.72 287.09,60.39 289.15,60.39 290.21,60.91 290.59,61.37 290.59,61.89 290.21,62.21 289.90,62.21 289.84,62.28 289.52,62.28 289.46,62.34 289.15,62.34 289.09,62.41 288.77,62.41 288.71,62.47 288.40,62.47 288.34,62.54 288.02,62.54 287.96,62.60 287.65,62.60 287.59,62.67 287.27,62.67 287.21,62.73 286.90,62.73 286.84,62.80 286.40,62.86 284.71,63.45 284.40,63.64 284.02,64.03 283.46,65.20 283.46,65.40 283.34,65.72 283.34,67.09 283.46,67.35 283.46,67.54 284.02,68.71 284.46,69.17 286.15,69.75 286.52,69.95 286.59,69.88 286.65,69.95 288.84,69.95 288.90,69.88 289.15,69.88 290.40,69.23 291.15,68.52 291.27,68.78 291.71,69.23 292.96,69.88 293.15,69.88 293.21,69.95 294.09,69.95 294.40,69.82 294.71,69.49 294.77,69.36 294.77,68.84 294.71,68.71 294.27,68.32 294.09,68.26 293.71,68.26 293.34,67.87 292.84,66.76 292.84,62.15 292.77,62.08 292.77,61.89 292.15,60.59 291.27,59.61 291.02,59.42 289.90,58.83 289.71,58.83 289.46,58.70 286.77,58.70 286.71,58.77 286.34,58.83 285.09,59.48 285.02,59.61 284.96,59.61 284.27,60.33ZM290.59,63.97 290.59,66.63 289.65,67.67 288.59,68.26 287.02,68.26 286.21,67.87 286.02,67.67 285.65,66.83 285.65,65.92 286.15,64.94 287.21,64.42 287.52,64.42 287.59,64.36 287.90,64.36 287.96,64.29 288.27,64.29 288.34,64.23 288.65,64.23 288.71,64.16 289.02,64.16 289.09,64.10 289.40,64.10 289.46,64.03 289.77,64.03 289.84,63.97 290.15,63.97 290.21,63.90 290.52,63.90ZM267.71,58.70 267.65,58.77 267.40,58.77 267.21,58.90 265.59,59.42 265.21,59.68 263.96,60.98 263.71,61.37 263.09,63.32 263.09,63.58 263.02,63.64 263.02,65.01 263.09,65.07 263.09,65.33 263.71,67.28 263.96,67.67 265.27,69.04 265.71,69.30 267.59,69.95 269.34,69.95 271.46,69.17 272.96,67.67 273.21,67.28 273.84,65.33 273.84,65.07 273.90,65.01 273.90,63.71 273.84,63.64 273.84,63.32 273.27,61.56 273.09,61.17 271.71,59.68 271.34,59.42 269.71,58.90 269.52,58.77 269.21,58.77 269.15,58.70ZM268.09,60.39 268.84,60.39 269.90,60.91 271.02,62.08 271.59,63.84 271.59,64.81 271.02,66.57 269.90,67.74 268.90,68.26 268.02,68.26 267.02,67.74 265.90,66.57 265.34,64.88 265.34,63.84 265.90,62.08 267.02,60.91ZM254.34,58.77 253.09,59.42 252.15,60.33 251.90,60.91 251.90,62.28 252.15,62.93 252.21,62.93 252.78,63.51 252.78,63.58 252.90,63.58 253.15,63.84 254.28,64.42 254.40,64.42 254.59,64.55 254.71,64.55 254.90,64.68 255.03,64.68 255.21,64.81 255.34,64.81 255.53,64.94 255.65,64.94 255.84,65.07 255.96,65.07 256.15,65.20 256.27,65.20 256.46,65.33 256.59,65.33 256.77,65.46 257.52,65.72 258.77,66.37 259.15,66.83 259.15,67.35 258.77,67.74 257.77,68.26 255.59,68.26 254.65,67.80 254.03,67.15 253.53,66.05 253.15,65.66 252.78,65.53 252.46,65.59 252.03,65.98 251.90,66.37 251.90,69.10 251.96,69.17 251.96,69.36 252.34,69.82 252.71,69.95 253.15,69.82 253.53,69.43 253.65,69.17 254.96,69.88 255.21,69.88 255.28,69.95 258.02,69.95 258.09,69.88 258.34,69.88 259.59,69.23 259.77,69.04 259.90,69.04 259.90,68.97 260.59,68.26 260.77,67.74 260.77,65.66 260.65,65.27 260.52,65.07 259.65,64.23 258.27,63.51 258.15,63.51 257.96,63.38 257.84,63.38 257.65,63.25 257.52,63.25 257.34,63.12 257.21,63.12 257.02,62.99 256.90,62.99 256.71,62.86 256.59,62.86 256.40,62.73 256.27,62.73 256.09,62.60 255.34,62.34 253.78,61.50 253.59,61.24 253.84,60.98 255.03,60.39 257.02,60.39 258.09,60.91 258.65,61.50 259.15,62.60 259.52,62.99 259.84,63.12 260.09,63.12 260.27,63.06 260.59,62.80 260.77,62.28 260.77,59.55 260.71,59.48 260.71,59.29 260.65,59.16 260.21,58.77 259.71,58.77 259.46,58.90 259.21,59.16 259.15,59.35 259.02,59.48 257.77,58.83 257.40,58.77 257.34,58.70 254.71,58.70 254.40,58.83ZM276.21,53.96 275.90,54.09 275.65,54.35 275.52,54.61 275.52,55.00 275.65,55.26 275.90,55.52 276.27,55.65 277.40,55.65 277.46,55.71 277.46,68.19 277.40,68.26 276.27,68.26 275.90,68.39 275.65,68.65 275.52,68.91 275.52,69.30 275.65,69.56 275.90,69.82 276.27,69.95 280.96,69.95 281.02,69.88 281.21,69.88 281.40,69.75 281.65,69.43 281.71,69.04 281.59,68.65 281.21,68.32 281.02,68.32 280.96,68.26 279.84,68.26 279.77,68.19 279.77,54.80 279.71,54.74 279.71,54.54 279.65,54.35 279.15,53.96Z" fill="#000" fill-rule="evenodd"/>
<path d="M291.46,87.06 291.09,87.12 290.71,87.38 290.52,87.70 290.34,88.29 290.27,88.29 289.96,87.97 289.52,87.70 287.90,87.19 287.71,87.06 287.65,87.12 287.52,87.06 285.84,87.06 283.96,87.70 283.59,87.97 282.02,89.66 281.46,90.83 281.46,90.95 281.34,91.15 280.77,92.91 280.77,93.23 280.71,93.30 280.71,96.81 280.77,96.87 280.77,97.20 281.34,98.95 282.02,100.45 282.27,100.77 283.77,102.27 285.46,102.85 285.84,103.05 287.46,103.05 287.52,102.98 287.84,102.98 289.52,102.39 289.96,102.14 291.46,100.51 292.09,99.21 292.15,98.62 292.09,98.43 291.71,98.04 291.59,97.98 291.15,97.98 290.90,98.11 290.59,98.43 290.02,99.67 288.96,100.77 287.27,101.36 286.34,101.36 285.34,100.84 284.15,99.60 283.52,98.30 283.02,96.74 283.02,93.36 283.52,91.80 283.65,91.61 283.65,91.48 284.15,90.50 285.40,89.20 286.34,88.75 287.34,88.75 288.96,89.33 289.96,90.37 290.52,92.19 290.96,92.71 291.09,92.78 291.65,92.78 292.02,92.45 292.15,92.12 292.15,88.03 292.21,87.97 292.02,87.45 291.77,87.19ZM264.09,87.19 263.84,87.45 263.71,87.70 263.71,88.09 263.84,88.36 264.09,88.62 264.46,88.75 265.59,88.75 265.65,88.81 265.65,101.29 265.59,101.36 264.46,101.36 264.09,101.48 263.84,101.75 263.71,102.01 263.71,102.39 263.84,102.66 264.09,102.92 264.46,103.05 268.46,103.05 268.84,102.92 269.21,102.46 269.21,101.94 268.84,101.48 268.46,101.36 267.34,101.36 267.27,101.29 267.27,93.49 267.34,93.42 270.21,102.39 270.34,102.53 270.40,102.72 270.71,102.98 271.15,103.05 271.46,102.92 271.77,102.59 271.90,102.33 274.65,93.62 274.77,93.42 274.84,93.49 274.84,101.23 274.71,101.36 273.59,101.36 273.27,101.48 272.90,101.94 272.90,102.46 273.27,102.92 273.59,103.05 278.34,103.05 278.65,102.92 279.02,102.46 279.02,101.94 278.96,101.81 278.65,101.48 278.34,101.36 277.21,101.36 277.09,101.23 277.09,88.88 277.21,88.75 278.27,88.75 278.65,88.62 279.02,88.16 279.02,87.64 278.90,87.38 278.65,87.19 278.34,87.06 275.40,87.06 274.90,87.51 271.46,98.23 271.34,98.30 267.96,87.77 267.77,87.38 267.46,87.12 267.27,87.06 264.40,87.06ZM252.28,87.19 252.03,87.45 251.90,87.84 252.03,88.36 252.21,88.55 252.65,88.75 253.78,88.75 253.84,88.81 253.84,101.29 253.78,101.36 252.65,101.36 252.59,101.42 252.40,101.42 252.03,101.75 251.90,102.14 252.03,102.66 252.40,102.98 252.59,102.98 252.65,103.05 262.59,103.05 262.96,102.92 263.21,102.66 263.34,102.33 263.34,97.98 263.21,97.65 262.84,97.33 262.59,97.33 262.52,97.26 262.15,97.39 261.90,97.59 261.71,97.98 261.65,98.56 261.59,98.62 261.59,98.95 261.52,99.02 261.52,99.34 261.46,99.41 261.46,99.73 261.40,99.80 261.40,100.12 261.34,100.19 261.34,100.51 261.27,100.58 261.27,100.90 261.21,100.97 261.21,101.23 261.09,101.36 256.21,101.36 256.15,101.29 256.15,88.81 256.21,88.75 257.34,88.75 257.71,88.62 257.96,88.36 258.09,88.09 258.09,87.70 257.96,87.45 257.71,87.19 257.40,87.06 252.65,87.06Z" fill="#000" fill-rule="evenodd"/>
<path d="M292.15,120.16 291.71,120.22 291.40,120.48 291.21,120.81 291.02,121.39 290.96,121.39 290.65,121.07 290.21,120.81 288.59,120.29 288.40,120.16 288.27,120.22 288.21,120.16 286.52,120.16 284.65,120.81 284.27,121.07 282.71,122.76 282.15,123.93 282.15,124.06 282.02,124.25 281.46,126.01 281.46,126.33 281.40,126.40 281.40,129.91 281.46,129.97 281.46,130.30 282.02,132.05 282.71,133.55 282.96,133.87 284.46,135.37 286.15,135.95 286.52,136.15 286.59,136.08 286.65,136.15 288.15,136.15 288.21,136.08 288.52,136.08 290.21,135.50 290.65,135.24 292.15,133.61 292.77,132.31 292.84,131.73 292.71,131.47 292.40,131.14 292.21,131.08 291.84,131.08 291.59,131.21 291.27,131.53 290.65,132.83 289.65,133.87 287.96,134.46 287.02,134.46 286.09,134.00 284.84,132.70 284.34,131.73 284.34,131.59 284.21,131.40 283.71,129.84 283.71,126.46 284.21,124.90 284.34,124.71 284.34,124.58 284.84,123.60 286.09,122.30 287.02,121.85 288.02,121.85 289.65,122.43 290.65,123.47 291.21,125.29 291.65,125.81 291.77,125.88 292.27,125.88 292.52,125.75 292.71,125.55 292.84,125.23 292.84,120.87 292.71,120.55 292.46,120.29ZM264.77,120.29 264.46,120.61 264.40,120.81 264.40,121.20 264.52,121.46 264.77,121.72 265.15,121.85 266.27,121.85 266.34,121.91 266.34,134.39 266.27,134.46 265.15,134.46 264.77,134.59 264.52,134.84 264.40,135.11 264.40,135.50 264.52,135.76 264.77,136.02 265.15,136.15 269.15,136.15 269.52,136.02 269.77,135.76 269.90,135.50 269.90,135.11 269.77,134.84 269.52,134.59 269.15,134.46 268.02,134.46 267.96,134.39 267.96,126.59 268.02,126.53 270.90,135.50 271.09,135.82 271.40,136.08 271.84,136.15 272.15,136.02 272.46,135.69 272.59,135.43 275.34,126.72 275.46,126.59 275.52,126.66 275.52,134.33 275.40,134.46 274.27,134.46 273.96,134.59 273.71,134.78 273.59,135.04 273.59,135.56 273.77,135.89 274.27,136.15 279.02,136.15 279.34,136.02 279.71,135.56 279.71,135.04 279.65,134.91 279.34,134.59 279.02,134.46 277.90,134.46 277.77,134.33 277.77,121.91 277.84,121.85 278.96,121.85 279.34,121.72 279.71,121.26 279.71,120.74 279.59,120.48 279.34,120.29 279.02,120.16 276.09,120.16 275.59,120.61 272.15,131.34 272.02,131.40 268.65,120.87 268.46,120.48 268.15,120.22 267.96,120.16 265.09,120.16ZM262.02,120.16 261.59,120.22 261.27,120.48 261.09,120.81 260.90,121.39 260.84,121.39 260.52,121.07 260.09,120.81 258.21,120.16 258.15,120.22 258.09,120.16 255.90,120.16 255.84,120.22 255.78,120.16 253.90,120.81 253.46,121.07 252.15,122.43 251.90,123.02 251.90,124.45 251.96,124.51 251.96,124.71 252.59,126.07 253.46,127.05 253.71,127.24 255.09,127.96 259.09,129.32 260.09,129.84 261.09,130.88 261.09,132.90 260.15,133.87 258.52,134.46 256.77,134.46 255.15,133.87 254.09,132.77 253.59,131.08 253.40,130.75 253.15,130.49 252.78,130.36 252.34,130.49 252.03,130.81 251.90,131.21 251.90,135.30 252.03,135.69 252.34,136.02 252.71,136.15 253.15,136.02 253.53,135.56 253.71,134.98 253.84,134.91 254.09,135.24 254.21,135.24 254.59,135.50 256.21,136.02 256.40,136.15 256.46,136.08 256.59,136.15 258.71,136.15 258.84,136.08 258.90,136.15 260.77,135.50 261.09,135.24 261.21,135.24 261.21,135.17 262.46,133.87 262.52,133.87 262.52,133.74 262.71,133.35 262.71,130.30 262.09,128.93 261.84,128.54 261.21,127.89 261.02,127.83 260.96,127.70 259.71,127.05 255.71,125.68 254.59,125.10 253.59,124.06 253.59,123.34 254.59,122.37 255.90,121.91 256.09,121.91 256.15,121.85 257.84,121.85 259.52,122.43 260.52,123.47 261.09,125.29 261.21,125.49 261.65,125.88 262.15,125.88 262.40,125.75 262.59,125.55 262.71,125.23 262.71,120.87 262.59,120.55 262.34,120.29Z" fill="#000" fill-rule="evenodd"/>
<path d="M725.84,363.28 725.65,363.47 725.52,363.73 725.52,364.12 725.59,364.32 725.96,364.71 726.34,364.77 726.40,364.84 726.46,364.77 726.77,364.77 726.84,364.84 726.84,369.71 726.77,369.78 726.27,369.78 725.90,369.91 725.65,370.17 725.52,370.43 725.52,370.82 725.65,371.08 725.90,371.34 726.27,371.47 729.59,371.47 729.65,371.40 729.84,371.40 730.02,371.27 730.27,370.95 730.34,370.56 730.21,370.17 729.84,369.84 729.65,369.84 729.59,369.78 729.02,369.78 728.96,369.71 728.96,363.80 728.90,363.60 728.65,363.28 728.15,363.08 726.27,363.08ZM743.21,363.21 743.21,363.60 743.27,363.80 743.59,364.12 743.90,364.25 755.90,364.25 756.21,364.12 756.46,363.86 756.59,363.54 756.59,363.28 756.46,362.95 756.09,362.63 755.90,362.63 755.84,362.56 743.96,362.56 743.59,362.69 743.34,362.95ZM770.71,361.20 770.71,361.52 770.84,361.85 771.02,362.04 771.52,362.24 783.34,362.24 783.77,362.04 783.96,361.85 784.09,361.59 784.09,361.13 783.90,360.81 783.65,360.61 783.27,360.48 771.52,360.48 771.09,360.68 770.84,360.94ZM727.52,359.77 727.09,360.03 726.65,360.48 726.46,360.81 726.46,361.33 726.65,361.72 727.09,362.17 727.46,362.37 727.96,362.37 728.27,362.17 728.71,361.72 728.90,361.39 728.96,361.00 728.77,360.55 728.21,359.96 727.84,359.77ZM743.21,359.12 743.21,359.51 743.27,359.70 743.59,360.03 743.84,360.16 755.96,360.16 756.21,360.03 756.46,359.77 756.59,359.51 756.59,359.18 756.46,358.86 756.27,358.66 755.84,358.47 743.96,358.47 743.90,358.53 743.71,358.53 743.34,358.86ZM712.77,357.49 712.65,357.75 712.65,358.14 712.71,358.34 713.09,358.73 713.27,358.79 714.27,358.79 715.09,359.77 715.27,360.09 715.77,360.68 715.96,361.00 716.46,361.59 717.40,362.89 717.27,363.15 714.34,366.66 713.40,366.66 713.02,366.79 712.77,367.05 712.65,367.31 712.65,367.70 712.77,367.96 713.02,368.22 713.40,368.35 717.40,368.35 717.77,368.22 718.15,367.76 718.15,367.24 718.09,367.11 717.65,366.72 717.46,366.72 717.40,366.66 716.65,366.66 716.59,366.59 718.46,364.32 720.21,366.59 720.15,366.66 719.96,366.66 719.59,366.79 719.21,367.24 719.21,367.76 719.59,368.22 719.96,368.35 723.96,368.35 724.34,368.22 724.59,367.96 724.71,367.70 724.71,367.31 724.59,367.05 724.34,366.79 723.96,366.66 723.02,366.66 719.96,362.63 719.96,362.50 722.96,358.86 723.09,358.79 724.09,358.79 724.34,358.66 724.65,358.34 724.71,358.14 724.71,357.75 724.59,357.49 724.40,357.30 723.96,357.10 719.96,357.10 719.59,357.23 719.34,357.49 719.21,357.75 719.21,358.21 719.34,358.47 719.65,358.73 719.84,358.79 720.71,358.79 720.77,358.86 718.90,361.13 718.77,361.07 717.65,359.51 717.15,358.92 717.21,358.79 717.71,358.73 718.02,358.47 718.15,358.21 718.15,357.75 718.02,357.49 717.65,357.17 717.46,357.17 717.40,357.10 713.40,357.10 712.96,357.30ZM694.09,357.17 692.84,357.82 692.59,358.01 691.71,358.99 691.09,360.29 691.09,360.48 691.02,360.55 691.02,362.17 691.09,362.24 691.09,362.50 691.46,363.28 691.21,363.47 691.21,363.60 691.02,363.80 690.46,364.97 690.46,365.16 690.34,365.42 690.34,366.14 690.40,366.20 690.40,366.46 690.84,367.31 690.84,367.44 690.40,367.83 689.77,369.13 689.77,369.39 689.71,369.45 689.71,370.36 689.77,370.43 689.77,370.62 690.40,371.92 690.96,372.44 692.84,373.09 693.09,373.09 693.15,373.16 697.02,373.16 697.09,373.09 697.40,373.09 697.59,372.96 699.21,372.44 699.52,372.25 699.77,371.99 700.40,370.69 700.46,370.30 700.52,370.23 700.52,369.52 700.46,369.45 700.40,369.06 699.84,367.89 699.40,367.44 699.15,367.31 697.46,366.72 697.21,366.72 697.15,366.66 693.90,366.66 692.27,366.07 692.02,365.81 692.02,365.55 692.46,364.71 692.71,364.77 692.90,364.97 694.02,365.55 694.27,365.55 694.34,365.62 695.84,365.62 695.90,365.55 696.15,365.55 697.40,364.90 697.65,364.71 698.46,363.80 699.09,362.50 699.15,362.11 699.21,362.04 699.21,360.68 699.15,360.61 699.09,360.22 698.77,359.57 698.84,359.51 699.71,359.51 700.09,359.38 700.34,359.12 700.52,358.66 700.52,357.95 700.34,357.49 699.96,357.17 699.40,357.17 698.09,357.82 697.77,358.08 697.65,358.08 697.46,357.88 696.21,357.23 695.84,357.17 695.77,357.10 694.40,357.10 694.34,357.17ZM691.34,369.71 691.77,368.87 692.34,368.67 692.65,368.67 693.77,369.06 697.02,369.06 698.52,369.58 698.84,369.91 698.84,370.10 698.52,370.75 698.34,370.95 697.02,371.40 693.15,371.40 691.84,370.95 691.71,370.82 691.34,370.04ZM694.71,358.79 695.46,358.79 696.40,359.25 696.90,360.22 696.90,362.56 696.52,363.34 696.34,363.54 695.59,363.93 694.65,363.93 693.77,363.47 693.27,362.43 693.27,360.29 693.65,359.44 693.90,359.18ZM681.59,357.17 681.40,357.30 679.77,357.82 679.40,358.08 678.15,359.38 677.90,359.83 677.40,361.52 677.27,361.72 677.27,363.73 677.90,365.68 678.15,366.07 679.46,367.44 679.90,367.70 681.77,368.35 681.84,368.28 681.90,368.35 683.59,368.35 683.96,368.15 685.65,367.57 687.15,366.07 687.40,365.68 688.02,363.73 688.02,363.47 688.09,363.41 688.09,362.04 688.02,361.98 688.02,361.72 687.40,359.77 687.15,359.38 685.90,358.08 685.52,357.82 683.90,357.30 683.71,357.17 683.40,357.17 683.34,357.10 681.96,357.10 681.90,357.17ZM682.27,358.79 683.02,358.79 684.09,359.31 685.21,360.48 685.77,362.24 685.77,363.28 685.21,364.97 684.09,366.14 683.09,366.66 682.21,366.66 681.21,366.14 680.09,364.97 679.52,363.21 679.52,362.30 679.59,362.24 679.59,362.04 680.09,360.48 681.21,359.31ZM794.59,352.36 794.09,352.42 793.65,352.81 793.52,353.07 792.96,353.79 792.84,354.05 789.52,358.66 788.90,359.64 786.96,362.30 786.46,363.15 786.46,363.67 786.59,363.93 786.90,364.19 787.09,364.19 787.15,364.25 792.90,364.25 792.96,364.32 792.96,366.59 792.90,366.66 791.77,366.66 791.71,366.72 791.52,366.72 791.15,367.05 791.02,367.31 791.02,367.70 791.15,367.96 791.40,368.22 791.77,368.35 796.46,368.35 796.52,368.28 796.71,368.28 797.09,367.96 797.21,367.57 797.15,367.18 796.90,366.85 796.71,366.72 796.52,366.72 796.46,366.66 795.34,366.66 795.27,366.59 795.27,364.32 795.34,364.25 797.84,364.25 798.15,364.12 798.40,363.86 798.52,363.47 798.34,362.89 797.96,362.63 797.77,362.63 797.71,362.56 795.34,362.56 795.27,362.50 795.27,353.20 795.09,352.68 794.77,352.42ZM792.90,356.84 792.96,356.91 792.96,362.50 792.90,362.56 788.96,362.56 788.90,362.50 789.15,362.11 789.71,361.39 789.84,361.13 790.40,360.42 790.52,360.16 791.09,359.44 791.21,359.18ZM669.90,352.42 669.77,352.49 669.46,352.88 669.40,353.27 669.52,353.66 669.71,353.85 670.15,354.05 671.27,354.05 671.34,354.11 671.34,366.59 671.27,366.66 670.15,366.66 670.09,366.72 669.90,366.72 669.71,366.85 669.46,367.18 669.46,367.37 669.40,367.44 669.46,367.83 669.71,368.15 669.90,368.28 670.09,368.28 670.15,368.35 674.84,368.35 674.90,368.28 675.09,368.28 675.46,367.96 675.59,367.70 675.59,367.31 675.46,367.05 675.21,366.79 674.84,366.66 673.71,366.66 673.65,366.59 673.65,353.14 673.59,353.07 673.59,352.88 673.27,352.49 673.02,352.36 670.15,352.36 670.09,352.42Z" fill="#000" fill-rule="evenodd"/>
<path d="M725.84,396.38 725.65,396.57 725.52,396.83 725.52,397.22 725.59,397.42 725.96,397.81 726.34,397.87 726.40,397.94 726.46,397.87 726.77,397.87 726.84,397.94 726.84,402.81 726.77,402.88 726.27,402.88 725.90,403.01 725.65,403.27 725.52,403.53 725.52,403.92 725.65,404.18 725.90,404.44 726.27,404.57 729.59,404.57 729.65,404.50 729.84,404.50 730.02,404.37 730.27,404.05 730.34,403.66 730.21,403.27 729.84,402.94 729.65,402.94 729.59,402.88 729.02,402.88 728.96,402.81 728.96,396.90 728.90,396.70 728.65,396.38 728.15,396.18 726.27,396.18ZM743.21,396.31 743.21,396.70 743.27,396.90 743.59,397.22 743.90,397.35 755.90,397.35 756.21,397.22 756.46,396.96 756.59,396.64 756.59,396.38 756.46,396.05 756.09,395.73 755.90,395.73 755.84,395.66 743.96,395.66 743.59,395.79 743.34,396.05ZM770.71,394.30 770.71,394.62 770.84,394.95 771.02,395.14 771.52,395.34 783.34,395.34 783.77,395.14 783.96,394.95 784.09,394.69 784.09,394.23 783.90,393.91 783.65,393.71 783.27,393.58 771.52,393.58 771.09,393.78 770.84,394.04ZM727.52,392.87 727.09,393.13 726.65,393.58 726.46,393.91 726.46,394.43 726.65,394.82 727.09,395.27 727.46,395.47 727.96,395.47 728.27,395.27 728.71,394.82 728.90,394.49 728.96,394.10 728.77,393.65 728.21,393.06 727.84,392.87ZM743.21,392.22 743.21,392.61 743.27,392.80 743.59,393.13 743.84,393.26 755.96,393.26 756.21,393.13 756.46,392.87 756.59,392.61 756.59,392.28 756.46,391.96 756.27,391.76 755.84,391.57 743.96,391.57 743.90,391.63 743.71,391.63 743.34,391.96ZM712.77,390.59 712.65,390.85 712.65,391.24 712.71,391.44 713.09,391.83 713.27,391.89 714.27,391.89 715.09,392.87 715.27,393.19 715.77,393.78 715.96,394.10 716.46,394.69 717.40,395.99 717.27,396.25 714.34,399.76 713.40,399.76 713.02,399.89 712.77,400.15 712.65,400.41 712.65,400.80 712.77,401.06 713.02,401.32 713.40,401.45 717.40,401.45 717.77,401.32 718.15,400.86 718.15,400.34 718.09,400.21 717.65,399.82 717.46,399.82 717.40,399.76 716.65,399.76 716.59,399.69 718.46,397.42 720.21,399.69 720.15,399.76 719.96,399.76 719.59,399.89 719.21,400.34 719.21,400.86 719.59,401.32 719.96,401.45 723.96,401.45 724.34,401.32 724.59,401.06 724.71,400.80 724.71,400.41 724.59,400.15 724.34,399.89 723.96,399.76 723.02,399.76 719.96,395.73 719.96,395.60 722.96,391.96 723.09,391.89 724.09,391.89 724.34,391.76 724.65,391.44 724.71,391.24 724.71,390.85 724.59,390.59 724.40,390.40 723.96,390.20 719.96,390.20 719.59,390.33 719.34,390.59 719.21,390.85 719.21,391.31 719.34,391.57 719.65,391.83 719.84,391.89 720.71,391.89 720.77,391.96 718.90,394.23 718.77,394.17 717.65,392.61 717.15,392.02 717.21,391.89 717.71,391.83 718.02,391.57 718.15,391.31 718.15,390.85 718.02,390.59 717.65,390.27 717.46,390.27 717.40,390.20 713.40,390.20 712.96,390.40ZM694.09,390.27 692.84,390.92 692.59,391.11 691.71,392.09 691.09,393.39 691.09,393.58 691.02,393.65 691.02,395.27 691.09,395.34 691.09,395.60 691.46,396.38 691.21,396.57 691.21,396.70 691.02,396.90 690.46,398.07 690.46,398.26 690.34,398.52 690.34,399.24 690.40,399.30 690.40,399.56 690.84,400.41 690.84,400.54 690.40,400.93 689.77,402.23 689.77,402.49 689.71,402.55 689.71,403.46 689.77,403.53 689.77,403.72 690.40,405.02 690.96,405.54 692.84,406.19 693.09,406.19 693.15,406.26 697.02,406.26 697.09,406.19 697.40,406.19 697.59,406.06 699.21,405.54 699.52,405.35 699.77,405.09 700.40,403.79 700.46,403.40 700.52,403.33 700.52,402.62 700.46,402.55 700.40,402.16 699.84,400.99 699.40,400.54 699.15,400.41 697.46,399.82 697.21,399.82 697.15,399.76 693.90,399.76 692.27,399.17 692.02,398.91 692.02,398.65 692.46,397.81 692.71,397.87 692.90,398.07 694.02,398.65 694.27,398.65 694.34,398.72 695.84,398.72 695.90,398.65 696.15,398.65 697.40,398.00 697.65,397.81 698.46,396.90 699.09,395.60 699.15,395.21 699.21,395.14 699.21,393.78 699.15,393.71 699.09,393.32 698.77,392.67 698.84,392.61 699.71,392.61 700.09,392.48 700.34,392.22 700.52,391.76 700.52,391.05 700.34,390.59 699.96,390.27 699.40,390.27 698.09,390.92 697.77,391.18 697.65,391.18 697.46,390.98 696.21,390.33 695.84,390.27 695.77,390.20 694.40,390.20 694.34,390.27ZM691.34,402.81 691.77,401.97 692.34,401.77 692.65,401.77 693.77,402.16 697.02,402.16 698.52,402.68 698.84,403.01 698.84,403.20 698.52,403.85 698.34,404.05 697.02,404.50 693.15,404.50 691.84,404.05 691.71,403.92 691.34,403.14ZM694.71,391.89 695.46,391.89 696.40,392.35 696.90,393.32 696.90,395.66 696.52,396.44 696.34,396.64 695.59,397.03 694.65,397.03 693.77,396.57 693.27,395.53 693.27,393.39 693.65,392.54 693.90,392.28ZM681.59,390.27 681.40,390.40 679.77,390.92 679.40,391.18 678.15,392.48 677.90,392.93 677.40,394.62 677.27,394.82 677.27,396.83 677.90,398.78 678.15,399.17 679.46,400.54 679.90,400.80 681.77,401.45 681.84,401.38 681.90,401.45 683.59,401.45 683.96,401.25 685.65,400.67 687.15,399.17 687.40,398.78 688.02,396.83 688.02,396.57 688.09,396.51 688.09,395.14 688.02,395.08 688.02,394.82 687.40,392.87 687.15,392.48 685.90,391.18 685.52,390.92 683.90,390.40 683.71,390.27 683.40,390.27 683.34,390.20 681.96,390.20 681.90,390.27ZM682.27,391.89 683.02,391.89 684.09,392.41 685.21,393.58 685.77,395.34 685.77,396.38 685.21,398.07 684.09,399.24 683.09,399.76 682.21,399.76 681.21,399.24 680.09,398.07 679.52,396.31 679.52,395.40 679.59,395.34 679.59,395.14 680.09,393.58 681.21,392.41ZM790.90,385.46 788.90,386.17 788.77,386.30 788.59,386.37 787.96,387.02 787.90,387.21 787.77,387.28 787.15,388.58 787.15,388.77 787.09,388.84 787.09,389.88 787.27,390.20 787.27,390.33 787.34,390.33 787.96,390.98 788.27,391.18 788.77,391.18 789.15,390.98 789.77,390.33 789.96,389.94 789.96,389.42 789.90,389.29 789.15,388.45 789.15,388.25 789.65,387.73 791.27,387.15 793.59,387.15 794.34,387.54 794.59,387.80 794.90,388.45 794.90,390.27 794.52,391.05 793.59,391.57 791.77,391.57 791.71,391.63 791.52,391.63 791.15,391.96 791.02,392.22 791.02,392.61 791.09,392.80 791.40,393.13 791.65,393.26 793.52,393.26 794.46,393.71 795.02,394.23 795.59,395.99 795.59,397.68 795.09,398.72 794.59,399.24 793.59,399.76 791.27,399.76 789.77,399.24 789.21,398.72 789.15,398.46 789.77,397.81 789.96,397.48 789.96,396.96 789.77,396.57 789.15,395.92 788.96,395.86 788.84,395.73 788.59,395.73 788.52,395.66 788.46,395.73 788.27,395.73 787.96,395.92 787.34,396.57 787.27,396.57 787.27,396.70 787.09,397.03 787.09,398.00 787.15,398.07 787.15,398.33 787.71,399.50 787.90,399.69 788.02,399.95 788.46,400.41 788.52,400.41 788.59,400.54 788.71,400.54 789.02,400.80 790.90,401.45 790.96,401.38 791.09,401.45 793.90,401.45 793.96,401.38 794.02,401.45 795.90,400.80 796.34,400.54 797.15,399.63 797.77,398.33 797.84,397.94 797.90,397.87 797.90,395.86 797.84,395.79 797.77,395.40 797.15,394.10 795.84,392.67 795.96,392.54 796.15,392.48 796.52,392.09 797.15,390.79 797.15,390.53 797.21,390.46 797.21,388.25 797.15,388.19 797.15,387.93 796.46,386.56 796.21,386.30 795.90,386.11 794.02,385.46 791.09,385.46 791.02,385.52ZM669.90,385.52 669.77,385.59 669.46,385.98 669.40,386.37 669.52,386.76 669.71,386.95 670.15,387.15 671.27,387.15 671.34,387.21 671.34,399.69 671.27,399.76 670.15,399.76 670.09,399.82 669.90,399.82 669.71,399.95 669.46,400.28 669.46,400.47 669.40,400.54 669.46,400.93 669.71,401.25 669.90,401.38 670.09,401.38 670.15,401.45 674.84,401.45 674.90,401.38 675.09,401.38 675.46,401.06 675.59,400.80 675.59,400.41 675.46,400.15 675.21,399.89 674.84,399.76 673.71,399.76 673.65,399.69 673.65,386.24 673.59,386.17 673.59,385.98 673.27,385.59 673.02,385.46 670.15,385.46 670.09,385.52Z" fill="#000" fill-rule="evenodd"/>
<path d="M725.84,429.47 725.65,429.67 725.52,429.93 725.52,430.32 725.59,430.51 725.96,430.90 726.34,430.97 726.40,431.03 726.46,430.97 726.77,430.97 726.84,431.03 726.84,435.91 726.77,435.97 726.27,435.97 725.90,436.10 725.65,436.37 725.52,436.62 725.52,437.01 725.65,437.27 725.90,437.53 726.27,437.66 729.59,437.66 729.65,437.60 729.84,437.60 730.02,437.47 730.27,437.14 730.34,436.75 730.21,436.37 729.84,436.04 729.65,436.04 729.59,435.97 729.02,435.97 728.96,435.91 728.96,430.00 728.90,429.80 728.65,429.47 728.15,429.28 726.27,429.28ZM743.21,429.41 743.21,429.80 743.27,430.00 743.59,430.32 743.90,430.45 755.90,430.45 756.21,430.32 756.46,430.06 756.59,429.74 756.59,429.47 756.46,429.15 756.09,428.82 755.90,428.82 755.84,428.76 743.96,428.76 743.59,428.89 743.34,429.15ZM770.71,427.39 770.71,427.72 770.84,428.05 771.02,428.24 771.52,428.44 783.34,428.44 783.77,428.24 783.96,428.05 784.09,427.78 784.09,427.33 783.90,427.00 783.65,426.81 783.27,426.68 771.52,426.68 771.09,426.88 770.84,427.13ZM727.52,425.96 727.09,426.22 726.65,426.68 726.46,427.00 726.46,427.52 726.65,427.91 727.09,428.37 727.46,428.56 727.96,428.56 728.27,428.37 728.71,427.91 728.90,427.59 728.96,427.20 728.77,426.75 728.21,426.16 727.84,425.96ZM743.21,425.31 743.21,425.70 743.27,425.90 743.59,426.22 743.84,426.35 755.96,426.35 756.21,426.22 756.46,425.96 756.59,425.70 756.59,425.38 756.46,425.06 756.27,424.86 755.84,424.66 743.96,424.66 743.90,424.73 743.71,424.73 743.34,425.06ZM712.77,423.69 712.65,423.95 712.65,424.34 712.71,424.53 713.09,424.93 713.27,424.99 714.27,424.99 715.09,425.96 715.27,426.29 715.77,426.88 715.96,427.20 716.46,427.78 717.40,429.08 717.27,429.34 714.34,432.85 713.40,432.85 713.02,432.99 712.77,433.25 712.65,433.50 712.65,433.89 712.77,434.15 713.02,434.41 713.40,434.55 717.40,434.55 717.77,434.41 718.15,433.96 718.15,433.44 718.09,433.31 717.65,432.92 717.46,432.92 717.40,432.85 716.65,432.85 716.59,432.79 718.46,430.51 720.21,432.79 720.15,432.85 719.96,432.85 719.59,432.99 719.21,433.44 719.21,433.96 719.59,434.41 719.96,434.55 723.96,434.55 724.34,434.41 724.59,434.15 724.71,433.89 724.71,433.50 724.59,433.25 724.34,432.99 723.96,432.85 723.02,432.85 719.96,428.82 719.96,428.69 722.96,425.06 723.09,424.99 724.09,424.99 724.34,424.86 724.65,424.53 724.71,424.34 724.71,423.95 724.59,423.69 724.40,423.50 723.96,423.30 719.96,423.30 719.59,423.43 719.34,423.69 719.21,423.95 719.21,424.40 719.34,424.66 719.65,424.93 719.84,424.99 720.71,424.99 720.77,425.06 718.90,427.33 718.77,427.26 717.65,425.70 717.15,425.12 717.21,424.99 717.71,424.93 718.02,424.66 718.15,424.40 718.15,423.95 718.02,423.69 717.65,423.37 717.46,423.37 717.40,423.30 713.40,423.30 712.96,423.50ZM694.09,423.37 692.84,424.01 692.59,424.21 691.71,425.19 691.09,426.49 691.09,426.68 691.02,426.75 691.02,428.37 691.09,428.44 691.09,428.69 691.46,429.47 691.21,429.67 691.21,429.80 691.02,430.00 690.46,431.16 690.46,431.36 690.34,431.62 690.34,432.33 690.40,432.40 690.40,432.66 690.84,433.50 690.84,433.63 690.40,434.02 689.77,435.32 689.77,435.58 689.71,435.65 689.71,436.56 689.77,436.62 689.77,436.82 690.40,438.12 690.96,438.64 692.84,439.29 693.09,439.29 693.15,439.35 697.02,439.35 697.09,439.29 697.40,439.29 697.59,439.16 699.21,438.64 699.52,438.44 699.77,438.19 700.40,436.88 700.46,436.50 700.52,436.43 700.52,435.71 700.46,435.65 700.40,435.26 699.84,434.09 699.40,433.63 699.15,433.50 697.46,432.92 697.21,432.92 697.15,432.85 693.90,432.85 692.27,432.27 692.02,432.01 692.02,431.75 692.46,430.90 692.71,430.97 692.90,431.16 694.02,431.75 694.27,431.75 694.34,431.81 695.84,431.81 695.90,431.75 696.15,431.75 697.40,431.10 697.65,430.90 698.46,430.00 699.09,428.69 699.15,428.31 699.21,428.24 699.21,426.88 699.15,426.81 699.09,426.42 698.77,425.77 698.84,425.70 699.71,425.70 700.09,425.57 700.34,425.31 700.52,424.86 700.52,424.14 700.34,423.69 699.96,423.37 699.40,423.37 698.09,424.01 697.77,424.27 697.65,424.27 697.46,424.08 696.21,423.43 695.84,423.37 695.77,423.30 694.40,423.30 694.34,423.37ZM691.34,435.91 691.77,435.06 692.34,434.87 692.65,434.87 693.77,435.26 697.02,435.26 698.52,435.78 698.84,436.10 698.84,436.30 698.52,436.95 698.34,437.14 697.02,437.60 693.15,437.60 691.84,437.14 691.71,437.01 691.34,436.24ZM694.71,424.99 695.46,424.99 696.40,425.44 696.90,426.42 696.90,428.76 696.52,429.54 696.34,429.74 695.59,430.12 694.65,430.12 693.77,429.67 693.27,428.63 693.27,426.49 693.65,425.64 693.90,425.38ZM681.59,423.37 681.40,423.50 679.77,424.01 679.40,424.27 678.15,425.57 677.90,426.03 677.40,427.72 677.27,427.91 677.27,429.93 677.90,431.88 678.15,432.27 679.46,433.63 679.90,433.89 681.77,434.55 681.84,434.48 681.90,434.55 683.59,434.55 683.96,434.35 685.65,433.76 687.15,432.27 687.40,431.88 688.02,429.93 688.02,429.67 688.09,429.60 688.09,428.24 688.02,428.18 688.02,427.91 687.40,425.96 687.15,425.57 685.90,424.27 685.52,424.01 683.90,423.50 683.71,423.37 683.40,423.37 683.34,423.30 681.96,423.30 681.90,423.37ZM682.27,424.99 683.02,424.99 684.09,425.51 685.21,426.68 685.77,428.44 685.77,429.47 685.21,431.16 684.09,432.33 683.09,432.85 682.21,432.85 681.21,432.33 680.09,431.16 679.52,429.41 679.52,428.50 679.59,428.44 679.59,428.24 680.09,426.68 681.21,425.51ZM789.02,419.20 788.59,419.46 787.96,420.12 787.90,420.31 787.77,420.38 787.15,421.68 787.15,421.87 787.09,421.94 787.09,422.97 787.27,423.30 787.27,423.43 787.34,423.43 788.15,424.21 788.27,424.27 788.77,424.27 789.15,424.08 789.77,423.43 789.96,423.04 789.96,422.52 789.77,422.19 789.15,421.54 789.15,421.35 789.65,420.83 791.27,420.25 793.59,420.25 794.59,420.76 795.09,421.28 795.59,422.32 795.59,423.24 795.15,424.21 795.02,424.34 793.52,425.38 789.59,427.39 787.96,429.02 787.71,429.41 787.09,431.36 787.09,433.83 787.21,434.15 787.59,434.48 787.96,434.55 788.27,434.41 788.52,434.22 788.65,433.96 788.65,433.76 788.71,433.70 788.71,432.72 788.90,432.53 789.65,432.53 790.84,433.25 790.96,433.38 791.15,433.44 791.27,433.57 791.46,433.63 791.59,433.76 791.77,433.83 791.90,433.96 792.09,434.02 792.21,434.15 792.40,434.22 792.52,434.35 792.84,434.48 793.02,434.48 793.09,434.55 795.77,434.55 795.84,434.48 796.02,434.48 796.34,434.28 797.21,433.31 797.84,431.94 797.84,431.75 797.90,431.69 797.90,430.32 797.71,429.80 797.27,429.47 796.84,429.47 796.59,429.60 796.40,429.80 796.21,430.32 796.21,431.30 795.84,431.69 794.96,432.14 793.21,432.14 790.15,430.84 789.90,430.84 789.84,430.77 789.15,430.77 789.09,430.58 789.27,430.06 790.34,428.95 791.71,428.24 791.84,428.24 792.02,428.11 792.15,428.11 792.34,427.98 792.46,427.98 792.65,427.85 792.77,427.85 792.96,427.72 793.09,427.72 793.27,427.59 793.40,427.59 793.59,427.46 793.71,427.46 793.90,427.33 794.65,427.07 796.77,425.64 797.02,425.31 797.15,425.25 797.77,423.95 797.77,423.75 797.90,423.50 797.90,422.13 797.84,422.06 797.77,421.68 797.02,420.18 796.34,419.46 795.90,419.20 794.02,418.56 791.09,418.56 791.02,418.62 790.90,418.56ZM669.90,418.62 669.77,418.69 669.46,419.07 669.40,419.46 669.52,419.85 669.71,420.05 670.15,420.25 671.27,420.25 671.34,420.31 671.34,432.79 671.27,432.85 670.15,432.85 670.09,432.92 669.90,432.92 669.71,433.05 669.46,433.38 669.46,433.57 669.40,433.63 669.46,434.02 669.71,434.35 669.90,434.48 670.09,434.48 670.15,434.55 674.84,434.55 674.90,434.48 675.09,434.48 675.46,434.15 675.59,433.89 675.59,433.50 675.46,433.25 675.21,432.99 674.84,432.85 673.71,432.85 673.65,432.79 673.65,419.33 673.59,419.27 673.59,419.07 673.27,418.69 673.02,418.56 670.15,418.56 670.09,418.62Z" fill="#000" fill-rule="evenodd"/>
<path d="M725.84,462.57 725.65,462.77 725.52,463.03 725.52,463.42 725.59,463.62 725.96,464.00 726.34,464.07 726.40,464.13 726.46,464.07 726.77,464.07 726.84,464.13 726.84,469.01 726.77,469.07 726.27,469.07 725.90,469.20 725.65,469.47 725.52,469.73 725.52,470.12 725.65,470.38 725.90,470.63 726.27,470.76 729.59,470.76 729.65,470.70 729.84,470.70 730.02,470.57 730.27,470.25 730.34,469.86 730.21,469.47 729.84,469.14 729.65,469.14 729.59,469.07 729.02,469.07 728.96,469.01 728.96,463.10 728.90,462.90 728.65,462.57 728.15,462.38 726.27,462.38ZM743.21,462.51 743.21,462.90 743.27,463.10 743.59,463.42 743.90,463.55 755.90,463.55 756.21,463.42 756.46,463.16 756.59,462.84 756.59,462.57 756.46,462.25 756.09,461.93 755.90,461.93 755.84,461.86 743.96,461.86 743.59,461.99 743.34,462.25ZM770.71,460.50 770.71,460.82 770.84,461.15 771.02,461.34 771.52,461.54 783.34,461.54 783.77,461.34 783.96,461.15 784.09,460.88 784.09,460.43 783.90,460.11 783.65,459.91 783.27,459.78 771.52,459.78 771.09,459.98 770.84,460.24ZM727.52,459.06 727.09,459.32 726.65,459.78 726.46,460.11 726.46,460.62 726.65,461.01 727.09,461.47 727.46,461.67 727.96,461.67 728.27,461.47 728.71,461.01 728.90,460.69 728.96,460.30 728.77,459.85 728.21,459.26 727.84,459.06ZM743.21,458.42 743.21,458.81 743.27,459.00 743.59,459.32 743.84,459.45 755.96,459.45 756.21,459.32 756.46,459.06 756.59,458.81 756.59,458.48 756.46,458.16 756.27,457.96 755.84,457.76 743.96,457.76 743.90,457.83 743.71,457.83 743.34,458.16ZM712.77,456.79 712.65,457.05 712.65,457.44 712.71,457.63 713.09,458.03 713.27,458.09 714.27,458.09 715.09,459.06 715.27,459.39 715.77,459.98 715.96,460.30 716.46,460.88 717.40,462.19 717.27,462.44 714.34,465.95 713.40,465.95 713.02,466.09 712.77,466.35 712.65,466.61 712.65,467.00 712.77,467.25 713.02,467.51 713.40,467.65 717.40,467.65 717.77,467.51 718.15,467.06 718.15,466.54 718.09,466.41 717.65,466.02 717.46,466.02 717.40,465.95 716.65,465.95 716.59,465.89 718.46,463.62 720.21,465.89 720.15,465.95 719.96,465.95 719.59,466.09 719.21,466.54 719.21,467.06 719.59,467.51 719.96,467.65 723.96,467.65 724.34,467.51 724.59,467.25 724.71,467.00 724.71,466.61 724.59,466.35 724.34,466.09 723.96,465.95 723.02,465.95 719.96,461.93 719.96,461.80 722.96,458.16 723.09,458.09 724.09,458.09 724.34,457.96 724.65,457.63 724.71,457.44 724.71,457.05 724.59,456.79 724.40,456.60 723.96,456.40 719.96,456.40 719.59,456.53 719.34,456.79 719.21,457.05 719.21,457.50 719.34,457.76 719.65,458.03 719.84,458.09 720.71,458.09 720.77,458.16 718.90,460.43 718.77,460.37 717.65,458.81 717.15,458.22 717.21,458.09 717.71,458.03 718.02,457.76 718.15,457.50 718.15,457.05 718.02,456.79 717.65,456.47 717.46,456.47 717.40,456.40 713.40,456.40 712.96,456.60ZM694.09,456.47 692.84,457.12 692.59,457.31 691.71,458.29 691.09,459.59 691.09,459.78 691.02,459.85 691.02,461.47 691.09,461.54 691.09,461.80 691.46,462.57 691.21,462.77 691.21,462.90 691.02,463.10 690.46,464.26 690.46,464.46 690.34,464.72 690.34,465.44 690.40,465.50 690.40,465.76 690.84,466.61 690.84,466.74 690.40,467.12 689.77,468.43 689.77,468.69 689.71,468.75 689.71,469.66 689.77,469.73 689.77,469.92 690.40,471.22 690.96,471.74 692.84,472.39 693.09,472.39 693.15,472.45 697.02,472.45 697.09,472.39 697.40,472.39 697.59,472.26 699.21,471.74 699.52,471.55 699.77,471.29 700.40,469.99 700.46,469.60 700.52,469.53 700.52,468.81 700.46,468.75 700.40,468.36 699.84,467.19 699.40,466.74 699.15,466.61 697.46,466.02 697.21,466.02 697.15,465.95 693.90,465.95 692.27,465.37 692.02,465.11 692.02,464.85 692.46,464.00 692.71,464.07 692.90,464.26 694.02,464.85 694.27,464.85 694.34,464.92 695.84,464.92 695.90,464.85 696.15,464.85 697.40,464.20 697.65,464.00 698.46,463.10 699.09,461.80 699.15,461.41 699.21,461.34 699.21,459.98 699.15,459.91 699.09,459.52 698.77,458.87 698.84,458.81 699.71,458.81 700.09,458.68 700.34,458.42 700.52,457.96 700.52,457.25 700.34,456.79 699.96,456.47 699.40,456.47 698.09,457.12 697.77,457.38 697.65,457.38 697.46,457.18 696.21,456.53 695.84,456.47 695.77,456.40 694.40,456.40 694.34,456.47ZM691.34,469.01 691.77,468.17 692.34,467.97 692.65,467.97 693.77,468.36 697.02,468.36 698.52,468.88 698.84,469.20 698.84,469.40 698.52,470.05 698.34,470.25 697.02,470.70 693.15,470.70 691.84,470.25 691.71,470.12 691.34,469.34ZM694.71,458.09 695.46,458.09 696.40,458.55 696.90,459.52 696.90,461.86 696.52,462.64 696.34,462.84 695.59,463.23 694.65,463.23 693.77,462.77 693.27,461.73 693.27,459.59 693.65,458.74 693.90,458.48ZM681.59,456.47 681.40,456.60 679.77,457.12 679.40,457.38 678.15,458.68 677.90,459.13 677.40,460.82 677.27,461.01 677.27,463.03 677.90,464.98 678.15,465.37 679.46,466.74 679.90,467.00 681.77,467.65 681.84,467.58 681.90,467.65 683.59,467.65 683.96,467.45 685.65,466.87 687.15,465.37 687.40,464.98 688.02,463.03 688.02,462.77 688.09,462.70 688.09,461.34 688.02,461.28 688.02,461.01 687.40,459.06 687.15,458.68 685.90,457.38 685.52,457.12 683.90,456.60 683.71,456.47 683.40,456.47 683.34,456.40 681.96,456.40 681.90,456.47ZM682.27,458.09 683.02,458.09 684.09,458.61 685.21,459.78 685.77,461.54 685.77,462.57 685.21,464.26 684.09,465.44 683.09,465.95 682.21,465.95 681.21,465.44 680.09,464.26 679.52,462.51 679.52,461.60 679.59,461.54 679.59,461.34 680.09,459.78 681.21,458.61ZM793.21,451.66 792.84,451.72 792.52,451.92 790.65,453.87 789.46,454.45 789.46,454.51 789.21,454.71 789.09,454.97 789.09,455.49 789.15,455.62 789.59,456.01 790.21,456.01 791.46,455.36 791.59,455.23 791.65,455.30 791.65,465.89 791.59,465.95 789.77,465.95 789.27,466.22 789.09,466.54 789.09,467.06 789.27,467.38 789.77,467.65 795.77,467.65 796.15,467.51 796.52,467.06 796.52,466.54 796.46,466.41 796.02,466.02 795.84,466.02 795.77,465.95 794.02,465.95 793.96,465.89 793.96,452.50 793.84,452.11 793.52,451.79ZM669.90,451.72 669.77,451.79 669.46,452.18 669.40,452.56 669.52,452.95 669.71,453.15 670.15,453.35 671.27,453.35 671.34,453.41 671.34,465.89 671.27,465.95 670.15,465.95 670.09,466.02 669.90,466.02 669.71,466.15 669.46,466.48 669.46,466.67 669.40,466.74 669.46,467.12 669.71,467.45 669.90,467.58 670.09,467.58 670.15,467.65 674.84,467.65 674.90,467.58 675.09,467.58 675.46,467.25 675.59,467.00 675.59,466.61 675.46,466.35 675.21,466.09 674.84,465.95 673.71,465.95 673.65,465.89 673.65,452.44 673.59,452.37 673.59,452.18 673.27,451.79 673.02,451.66 670.15,451.66 670.09,451.72Z" fill="#000" fill-rule="evenodd"/>
<path d="M228.49,534.63 228.30,534.83 228.11,534.89 227.36,535.68 226.55,537.37 226.43,537.50 226.49,537.56 226.36,537.88 226.36,538.73 226.43,538.80 226.43,538.99 226.61,539.32 227.55,540.23 227.93,540.36 228.36,540.23 229.30,539.32 229.49,538.99 229.55,538.67 229.43,538.27 229.30,538.08 228.43,537.24 228.61,536.85 229.24,536.20 231.11,535.55 233.99,535.55 235.24,536.20 235.80,536.78 236.43,538.01 236.43,539.38 235.93,540.42 235.68,540.68 233.68,542.05 229.11,544.38 229.05,544.51 228.99,544.51 227.43,546.14 227.36,546.14 227.30,546.34 227.18,546.47 226.43,548.81 226.43,549.07 226.36,549.13 226.36,551.60 226.43,551.67 226.43,551.86 226.55,552.12 226.93,552.38 227.24,552.45 227.61,552.32 227.86,552.06 227.99,551.73 227.99,550.37 228.30,550.04 229.30,550.04 230.80,551.01 230.99,551.08 231.11,551.21 231.30,551.27 231.43,551.40 231.61,551.47 231.74,551.60 231.93,551.67 232.05,551.80 232.24,551.86 232.36,551.99 232.55,552.06 232.68,552.19 233.11,552.38 233.30,552.38 233.36,552.45 236.55,552.45 236.61,552.38 236.80,552.38 236.93,552.25 237.11,552.19 237.86,551.40 238.68,549.72 238.80,549.59 238.80,549.33 238.86,549.26 238.86,547.57 238.68,547.05 238.30,546.79 238.11,546.73 237.74,546.79 237.36,547.12 237.24,547.44 237.24,548.81 236.74,549.33 235.61,549.91 233.43,549.91 233.24,549.78 233.11,549.78 232.93,549.65 232.80,549.65 232.61,549.52 232.49,549.52 232.30,549.39 232.18,549.39 231.99,549.26 231.86,549.26 231.68,549.13 231.55,549.13 231.36,549.00 231.24,549.00 231.05,548.87 230.30,548.61 229.99,548.42 229.80,548.42 229.74,548.35 228.43,548.35 228.36,548.15 228.68,547.25 230.05,545.82 231.74,544.97 231.86,544.97 232.05,544.84 232.18,544.84 232.36,544.71 232.49,544.71 232.68,544.58 232.80,544.58 232.99,544.45 233.11,544.45 233.30,544.32 233.43,544.32 233.61,544.19 233.74,544.19 233.93,544.06 234.05,544.06 234.24,543.93 234.99,543.67 235.49,543.41 237.74,541.85 237.74,541.78 238.05,541.46 238.80,539.90 238.74,539.84 238.86,539.51 238.86,537.88 238.74,537.56 238.80,537.50 238.68,537.37 237.86,535.68 237.11,534.89 236.93,534.83 236.74,534.63 234.49,533.86 234.24,533.86 234.18,533.79 231.05,533.79 230.99,533.86 230.74,533.86Z" fill="#000" fill-rule="evenodd"/>
<path d="M420.64,533.86 420.14,533.86 419.70,534.18 419.39,534.70 418.82,535.41 418.70,535.68 418.14,536.39 418.01,536.65 417.45,537.37 417.32,537.62 416.76,538.34 416.64,538.60 416.07,539.32 415.95,539.58 415.39,540.29 415.26,540.55 414.70,541.26 414.57,541.52 414.01,542.24 413.89,542.50 413.32,543.22 413.20,543.48 412.64,544.19 412.51,544.45 411.95,545.17 411.82,545.43 411.26,546.14 411.20,546.40 411.07,546.60 411.07,546.92 411.20,547.25 411.51,547.50 411.89,547.63 418.76,547.63 418.82,547.70 418.82,550.62 418.70,550.75 417.26,550.75 417.20,550.82 417.01,550.82 416.64,551.14 416.51,551.40 416.51,551.80 416.64,552.06 416.89,552.32 417.26,552.45 422.76,552.45 423.14,552.32 423.39,552.06 423.51,551.80 423.51,551.40 423.39,551.14 423.14,550.88 422.76,550.75 421.32,550.75 421.20,550.62 421.20,547.70 421.26,547.63 424.26,547.63 424.32,547.57 424.51,547.57 424.82,547.38 424.95,547.25 425.07,546.92 425.07,546.60 424.95,546.34 424.64,546.01 424.26,545.88 421.26,545.88 421.20,545.82 421.20,534.44 421.07,534.18ZM418.76,538.47 418.82,538.53 418.82,545.82 418.76,545.88 413.64,545.88 413.57,545.82 414.01,545.23 414.14,544.97 414.70,544.25 414.82,544.00 415.39,543.28 415.51,543.02 416.07,542.31 416.20,542.05 416.76,541.33 416.89,541.07Z" fill="#000" fill-rule="evenodd"/>
<path d="M605.85,533.79 603.53,533.79 603.47,533.86 603.22,533.86 600.97,534.63 600.60,534.89 598.91,536.72 598.03,538.60 598.03,538.80 597.97,538.86 597.97,539.06 597.91,539.12 597.91,539.32 597.85,539.38 597.85,539.58 597.78,539.64 597.78,539.84 597.72,539.90 597.72,540.10 597.66,540.16 597.66,540.36 597.60,540.42 597.60,540.62 597.53,540.68 597.53,540.88 597.47,540.94 597.47,541.13 597.28,541.72 597.35,541.78 597.28,541.92 597.28,546.79 597.35,546.86 597.35,547.18 598.10,549.46 598.22,549.59 598.28,549.78 599.85,551.40 600.28,551.67 602.53,552.45 602.60,552.38 602.66,552.45 604.41,552.45 604.47,552.38 604.53,552.45 606.78,551.67 607.22,551.40 608.78,549.78 609.03,549.33 609.72,547.18 609.72,546.86 609.78,546.79 609.78,545.95 609.72,545.88 609.72,545.56 609.03,543.41 608.78,542.96 607.22,541.33 606.85,541.07 604.60,540.29 603.41,540.29 603.35,540.36 603.22,540.29 603.03,540.42 601.03,541.07 600.60,541.33 599.78,542.18 599.72,542.11 599.72,541.92 599.78,541.85 599.78,541.65 599.85,541.59 599.85,541.39 599.91,541.33 599.91,541.13 599.97,541.07 599.97,540.88 600.03,540.81 600.03,540.62 600.10,540.55 600.41,539.06 601.10,537.62 602.53,536.13 603.66,535.55 605.72,535.55 606.72,536.07 606.85,536.20 606.91,536.46 606.03,537.30 605.85,537.69 605.85,538.08 606.03,538.47 607.03,539.45 607.16,539.51 607.66,539.51 607.78,539.45 608.78,538.47 609.03,537.88 609.03,537.11 608.91,536.85 608.91,536.65 608.16,535.09 607.85,534.83 607.78,534.70 606.28,533.92 606.10,533.92ZM603.60,541.98 604.16,541.98 605.28,542.57 606.72,544.06 607.35,546.01 607.35,546.73 606.72,548.68 605.35,550.11 604.10,550.75 602.97,550.75 601.72,550.11 600.35,548.68 599.72,546.73 599.72,546.01 600.35,544.06 601.72,542.63Z" fill="#000" fill-rule="evenodd"/>
<path d="M787.43,533.79 787.37,533.86 787.12,533.86 784.87,534.63 784.37,535.09 783.62,536.65 783.62,536.85 783.49,537.11 783.49,539.51 783.62,539.77 783.62,539.97 784.37,541.52 784.43,541.52 784.49,541.65 784.80,541.92 784.80,541.98 784.55,542.11 783.55,543.22 782.80,544.77 782.87,544.84 782.74,545.10 782.74,548.42 782.80,548.48 782.80,548.74 783.55,550.30 784.55,551.40 784.93,551.67 787.18,552.45 787.24,552.38 787.30,552.45 790.68,552.45 790.74,552.38 790.80,552.45 793.05,551.67 793.43,551.40 794.43,550.30 795.18,548.74 795.18,548.48 795.24,548.42 795.24,545.10 795.12,544.84 795.18,544.77 794.43,543.22 793.43,542.11 793.18,541.98 793.18,541.92 793.43,541.72 793.55,541.52 793.62,541.52 794.37,539.97 794.37,539.77 794.49,539.51 794.49,537.11 794.37,536.85 794.37,536.65 793.62,535.09 793.12,534.63 790.87,533.86 790.62,533.86 790.55,533.79ZM787.68,542.76 790.30,542.76 791.55,543.41 792.24,544.12 792.80,545.30 792.80,548.22 792.12,549.59 791.49,550.17 790.30,550.75 787.68,550.75 786.49,550.17 785.87,549.59 785.18,548.22 785.18,545.30 785.74,544.12 786.43,543.41ZM786.43,536.26 786.68,536.00 787.62,535.55 790.37,535.55 791.30,536.00 791.55,536.26 792.05,537.30 792.05,539.32 791.55,540.36 791.37,540.55 790.37,541.07 787.62,541.07 786.62,540.55 786.43,540.36 785.93,539.32 785.93,537.30Z" fill="#000" fill-rule="evenodd"/>
<path d="M50.92,97.83 50.92,98.28 51.05,98.54 51.36,98.80 51.74,98.93 65.67,98.93 66.11,98.74 66.42,98.35 66.42,97.76 66.36,97.63 66.05,97.31 65.67,97.18 51.67,97.18 51.24,97.37 51.05,97.57ZM87.92,88.34 87.55,88.60 86.55,89.70 85.86,91.13 85.86,91.33 85.74,91.59 85.74,92.37 85.99,93.02 86.74,93.80 86.92,93.86 87.05,93.99 87.42,94.06 87.49,93.99 87.67,93.99 87.80,93.86 87.99,93.80 88.74,93.02 88.92,92.63 88.92,92.17 88.74,91.78 88.67,91.78 87.86,90.94 87.86,90.81 88.05,90.48 88.61,89.90 90.49,89.25 93.42,89.25 94.55,89.83 95.24,90.55 95.86,91.85 95.86,92.95 95.36,94.06 95.05,94.38 93.17,95.68 88.61,98.02 86.80,99.84 86.55,100.23 85.80,102.57 85.80,102.83 85.74,102.90 85.74,105.30 85.92,105.76 86.30,106.08 86.61,106.15 86.99,106.02 87.36,105.56 87.36,105.37 87.42,105.30 87.42,104.07 87.49,103.94 87.74,103.74 88.67,103.74 89.86,104.46 89.99,104.59 90.17,104.65 90.30,104.78 90.49,104.85 90.61,104.98 90.80,105.04 90.92,105.17 91.11,105.24 91.24,105.37 91.42,105.43 91.55,105.56 91.74,105.63 91.86,105.76 92.05,105.82 92.17,105.95 92.49,106.08 92.67,106.08 92.74,106.15 95.92,106.15 95.99,106.08 96.17,106.08 96.49,105.89 97.42,104.85 98.24,103.09 98.24,101.14 98.11,100.82 97.74,100.49 97.36,100.43 97.05,100.56 96.80,100.75 96.61,101.27 96.61,102.51 96.11,103.03 94.99,103.61 92.86,103.61 91.86,103.16 91.74,103.16 91.55,103.03 91.42,103.03 91.24,102.90 91.11,102.90 90.92,102.77 90.80,102.77 90.61,102.64 90.49,102.64 90.30,102.51 90.17,102.51 89.99,102.38 89.86,102.38 89.67,102.25 89.55,102.25 89.36,102.12 89.17,102.12 89.11,102.05 87.80,102.05 87.74,101.92 88.11,100.88 89.55,99.45 91.11,98.67 91.24,98.67 91.42,98.54 91.55,98.54 91.74,98.41 91.86,98.41 92.05,98.28 92.17,98.28 92.36,98.15 92.49,98.15 92.67,98.02 92.80,98.02 92.99,97.89 93.11,97.89 93.30,97.76 93.42,97.76 93.61,97.63 94.36,97.37 94.67,97.18 94.80,97.18 97.05,95.62 97.42,95.16 98.05,93.80 98.17,93.67 98.17,93.41 98.24,93.34 98.24,91.46 98.17,91.39 98.17,91.20 97.42,89.64 96.49,88.60 96.11,88.34 93.86,87.56 93.61,87.56 93.55,87.49 90.49,87.49 90.42,87.56 90.17,87.56ZM72.42,88.34 72.05,88.60 71.05,89.70 70.36,91.13 70.36,91.33 70.24,91.59 70.24,92.37 70.49,93.02 71.24,93.80 71.42,93.86 71.55,93.99 71.92,94.06 71.99,93.99 72.17,93.99 72.30,93.86 72.49,93.80 73.24,93.02 73.42,92.63 73.42,92.17 73.24,91.78 73.17,91.78 72.36,90.94 72.36,90.81 72.55,90.48 73.11,89.90 74.99,89.25 77.92,89.25 79.05,89.83 79.74,90.55 80.36,91.85 80.36,92.95 79.86,94.06 79.55,94.38 77.67,95.68 73.11,98.02 71.30,99.84 71.05,100.23 70.30,102.57 70.30,102.83 70.24,102.90 70.24,105.30 70.42,105.76 70.80,106.08 71.11,106.15 71.49,106.02 71.86,105.56 71.86,105.37 71.92,105.30 71.92,104.07 71.99,103.94 72.24,103.74 73.17,103.74 74.36,104.46 74.49,104.59 74.67,104.65 74.80,104.78 74.99,104.85 75.11,104.98 75.30,105.04 75.42,105.17 75.61,105.24 75.74,105.37 75.92,105.43 76.05,105.56 76.24,105.63 76.36,105.76 76.55,105.82 76.67,105.95 76.99,106.08 77.17,106.08 77.24,106.15 80.42,106.15 80.49,106.08 80.67,106.08 80.99,105.89 81.92,104.85 82.74,103.09 82.74,101.14 82.61,100.82 82.24,100.49 81.86,100.43 81.55,100.56 81.30,100.75 81.11,101.27 81.11,102.51 80.61,103.03 79.49,103.61 77.36,103.61 76.36,103.16 76.24,103.16 76.05,103.03 75.92,103.03 75.74,102.90 75.61,102.90 75.42,102.77 75.30,102.77 75.11,102.64 74.99,102.64 74.80,102.51 74.67,102.51 74.49,102.38 74.36,102.38 74.17,102.25 74.05,102.25 73.86,102.12 73.67,102.12 73.61,102.05 72.30,102.05 72.24,101.92 72.61,100.88 74.05,99.45 75.61,98.67 75.74,98.67 75.92,98.54 76.05,98.54 76.24,98.41 76.36,98.41 76.55,98.28 76.67,98.28 76.86,98.15 76.99,98.15 77.17,98.02 77.30,98.02 77.49,97.89 77.61,97.89 77.80,97.76 77.92,97.76 78.11,97.63 78.86,97.37 79.17,97.18 79.30,97.18 81.55,95.62 81.92,95.16 82.55,93.80 82.67,93.67 82.67,93.41 82.74,93.34 82.74,91.46 82.67,91.39 82.67,91.20 81.92,89.64 80.99,88.60 80.61,88.34 78.36,87.56 78.11,87.56 78.05,87.49 74.99,87.49 74.92,87.56 74.67,87.56Z" fill="#000" fill-rule="evenodd"/>
<path d="M50.17,230.23 50.17,230.68 50.30,230.94 50.61,231.20 50.99,231.33 64.92,231.33 65.36,231.14 65.67,230.75 65.67,230.16 65.61,230.03 65.30,229.71 64.92,229.58 50.92,229.58 50.49,229.77 50.30,229.97ZM93.80,219.96 93.36,219.96 93.11,220.09 92.80,220.41 92.30,221.19 91.74,221.91 91.61,222.17 91.05,222.88 90.92,223.14 90.36,223.86 90.24,224.12 89.67,224.83 89.55,225.09 88.99,225.81 88.86,226.07 88.30,226.78 88.17,227.04 87.61,227.76 87.49,228.02 86.92,228.73 86.80,228.99 86.24,229.71 86.11,229.97 85.55,230.68 85.42,230.94 84.86,231.66 84.30,232.57 84.30,233.15 84.36,233.28 84.67,233.61 85.05,233.74 91.92,233.74 91.99,233.80 91.99,236.79 91.92,236.86 90.42,236.86 90.36,236.92 90.17,236.92 89.99,237.05 89.74,237.38 89.67,237.77 89.80,238.16 90.17,238.48 90.36,238.48 90.42,238.55 95.99,238.55 96.49,238.29 96.67,237.96 96.67,237.44 96.49,237.12 95.99,236.86 94.49,236.86 94.42,236.79 94.42,233.80 94.49,233.74 97.49,233.74 97.92,233.54 98.11,233.35 98.24,233.09 98.24,232.63 98.11,232.37 97.92,232.18 97.67,232.05 97.49,232.05 97.42,231.98 94.49,231.98 94.42,231.92 94.42,220.74 94.30,220.35 94.05,220.09ZM91.92,224.57 91.99,224.64 91.99,231.92 91.92,231.98 86.80,231.98 86.74,231.92 86.92,231.72 87.05,231.46 87.61,230.75 87.74,230.49 88.30,229.77 88.42,229.51 88.99,228.80 89.11,228.54 89.67,227.82 89.80,227.56 90.36,226.85 90.49,226.59 91.05,225.87 91.17,225.61ZM71.67,220.74 71.30,221.00 70.30,222.10 69.61,223.53 69.61,223.73 69.49,223.99 69.49,224.77 69.74,225.42 70.49,226.20 70.67,226.26 70.80,226.39 71.17,226.46 71.24,226.39 71.42,226.39 71.55,226.26 71.74,226.20 72.49,225.42 72.67,225.03 72.67,224.57 72.49,224.18 72.42,224.18 71.61,223.34 71.61,223.21 71.80,222.88 72.36,222.30 74.24,221.65 77.17,221.65 78.30,222.23 78.99,222.95 79.61,224.25 79.61,225.35 79.11,226.46 78.80,226.78 76.92,228.08 72.36,230.42 70.55,232.24 70.30,232.63 69.55,234.97 69.55,235.23 69.49,235.30 69.49,237.70 69.67,238.16 70.05,238.48 70.36,238.55 70.74,238.42 71.11,237.96 71.11,237.77 71.17,237.70 71.17,236.47 71.24,236.34 71.49,236.14 72.42,236.14 73.61,236.86 73.74,236.99 73.92,237.05 74.05,237.18 74.24,237.25 74.36,237.38 74.55,237.44 74.67,237.57 74.86,237.64 74.99,237.77 75.17,237.83 75.30,237.96 75.49,238.03 75.61,238.16 75.80,238.22 75.92,238.35 76.24,238.48 76.42,238.48 76.49,238.55 79.67,238.55 79.74,238.48 79.92,238.48 80.24,238.29 81.17,237.25 81.99,235.49 81.99,233.54 81.86,233.22 81.49,232.89 81.11,232.83 80.80,232.96 80.55,233.15 80.36,233.67 80.36,234.91 79.86,235.43 78.74,236.01 76.61,236.01 75.61,235.56 75.49,235.56 75.30,235.43 75.17,235.43 74.99,235.30 74.86,235.30 74.67,235.17 74.55,235.17 74.36,235.04 74.24,235.04 74.05,234.91 73.92,234.91 73.74,234.78 73.61,234.78 73.42,234.65 73.30,234.65 73.11,234.52 72.92,234.52 72.86,234.45 71.55,234.45 71.49,234.32 71.86,233.28 73.30,231.85 74.86,231.07 74.99,231.07 75.17,230.94 75.30,230.94 75.49,230.81 75.61,230.81 75.80,230.68 75.92,230.68 76.11,230.55 76.24,230.55 76.42,230.42 76.55,230.42 76.74,230.29 76.86,230.29 77.05,230.16 77.17,230.16 77.36,230.03 78.11,229.77 78.42,229.58 78.55,229.58 80.80,228.02 81.17,227.56 81.80,226.20 81.92,226.07 81.92,225.81 81.99,225.74 81.99,223.86 81.92,223.79 81.92,223.60 81.17,222.04 80.24,221.00 79.86,220.74 77.61,219.96 77.36,219.96 77.30,219.89 74.24,219.89 74.17,219.96 73.92,219.96Z" fill="#000" fill-rule="evenodd"/>
<path d="M50.92,362.62 50.92,363.08 51.05,363.34 51.36,363.60 51.74,363.73 65.67,363.73 66.11,363.54 66.42,363.15 66.42,362.56 66.36,362.43 66.05,362.11 65.67,361.98 51.67,361.98 51.24,362.17 51.05,362.37ZM94.30,352.29 91.99,352.29 91.92,352.36 91.67,352.36 89.61,353.07 89.17,353.33 87.61,354.96 87.55,354.96 86.74,356.65 86.61,356.78 86.42,357.69 86.36,357.75 86.36,357.95 86.30,358.01 86.30,358.21 86.24,358.27 86.24,358.47 86.17,358.53 86.17,358.73 86.11,358.79 86.11,358.99 86.05,359.05 86.05,359.25 85.99,359.31 85.99,359.50 85.92,359.57 85.92,359.77 85.86,359.83 85.86,360.03 85.80,360.09 85.80,360.35 85.74,360.42 85.74,365.23 85.80,365.29 85.80,365.62 86.55,367.89 86.67,368.02 86.74,368.22 88.30,369.84 88.30,369.91 88.42,369.91 88.74,370.17 90.99,370.95 91.05,370.88 91.11,370.95 92.92,370.95 92.99,370.88 93.05,370.95 95.30,370.17 95.67,369.91 97.24,368.28 97.49,367.89 98.24,365.55 98.24,364.31 98.17,364.25 98.24,364.19 97.49,361.85 97.36,361.72 97.30,361.52 95.67,359.83 95.30,359.57 93.05,358.79 91.74,358.79 89.49,359.57 89.11,359.83 88.24,360.74 88.17,360.68 88.24,360.22 88.30,360.16 88.30,359.96 88.36,359.90 88.36,359.70 88.42,359.64 88.42,359.44 88.49,359.38 88.49,359.18 88.55,359.12 88.55,358.92 88.61,358.86 88.61,358.66 88.67,358.60 88.67,358.40 88.86,357.81 88.86,357.62 89.49,356.25 90.92,354.70 92.17,354.05 94.17,354.05 95.17,354.56 95.36,354.76 95.42,354.89 94.49,355.87 94.30,356.32 94.36,356.71 94.55,357.04 95.30,357.81 95.67,358.01 96.11,358.01 96.49,357.81 97.24,357.04 97.49,356.45 97.49,355.54 97.36,355.28 97.42,355.22 96.67,353.66 96.24,353.20 94.74,352.42 94.36,352.36ZM92.61,360.48 93.86,361.13 95.17,362.50 95.80,364.45 95.86,365.03 95.11,367.31 93.99,368.48 93.74,368.67 92.55,369.25 91.42,369.25 90.17,368.61 88.86,367.24 88.24,365.36 88.24,365.16 88.17,365.10 88.17,364.58 88.86,362.50 90.11,361.20 92.11,360.48ZM72.42,353.14 72.05,353.40 71.05,354.50 70.36,355.93 70.36,356.12 70.24,356.39 70.24,357.17 70.49,357.81 71.24,358.60 71.42,358.66 71.55,358.79 71.92,358.86 71.99,358.79 72.17,358.79 72.30,358.66 72.49,358.60 73.24,357.81 73.42,357.43 73.42,356.97 73.24,356.58 73.17,356.58 72.36,355.74 72.36,355.61 72.55,355.28 73.11,354.70 74.99,354.05 77.92,354.05 79.05,354.63 79.74,355.35 80.36,356.65 80.36,357.75 79.86,358.86 79.55,359.18 77.67,360.48 73.11,362.82 71.30,364.64 71.05,365.03 70.30,367.37 70.30,367.63 70.24,367.70 70.24,370.10 70.42,370.56 70.80,370.88 71.11,370.95 71.49,370.81 71.86,370.36 71.86,370.17 71.92,370.10 71.92,368.87 71.99,368.74 72.24,368.54 73.17,368.54 74.36,369.25 74.49,369.39 74.67,369.45 74.80,369.58 74.99,369.65 75.11,369.78 75.30,369.84 75.42,369.97 75.61,370.04 75.74,370.17 75.92,370.23 76.05,370.36 76.24,370.43 76.36,370.56 76.55,370.62 76.67,370.75 76.99,370.88 77.17,370.88 77.24,370.95 80.42,370.95 80.49,370.88 80.67,370.88 80.99,370.69 81.92,369.65 82.74,367.89 82.74,365.94 82.61,365.62 82.24,365.29 81.86,365.23 81.55,365.36 81.30,365.55 81.11,366.07 81.11,367.31 80.61,367.83 79.49,368.41 77.36,368.41 76.36,367.96 76.24,367.96 76.05,367.83 75.92,367.83 75.74,367.70 75.61,367.70 75.42,367.56 75.30,367.56 75.11,367.44 74.99,367.44 74.80,367.31 74.67,367.31 74.49,367.18 74.36,367.18 74.17,367.05 74.05,367.05 73.86,366.92 73.67,366.92 73.61,366.85 72.30,366.85 72.24,366.72 72.61,365.68 74.05,364.25 75.61,363.47 75.74,363.47 75.92,363.34 76.05,363.34 76.24,363.21 76.36,363.21 76.55,363.08 76.67,363.08 76.86,362.95 76.99,362.95 77.17,362.82 77.30,362.82 77.49,362.69 77.61,362.69 77.80,362.56 77.92,362.56 78.11,362.43 78.86,362.17 79.17,361.98 79.30,361.98 81.55,360.42 81.92,359.96 82.55,358.60 82.67,358.47 82.67,358.21 82.74,358.14 82.74,356.25 82.67,356.19 82.67,356.00 81.92,354.44 80.99,353.40 80.61,353.14 78.36,352.36 78.11,352.36 78.05,352.29 74.99,352.29 74.92,352.36 74.67,352.36Z" fill="#000" fill-rule="evenodd"/>
<path d="M50.92,495.02 50.92,495.48 51.05,495.74 51.36,496.00 51.74,496.13 65.67,496.13 66.11,495.94 66.42,495.55 66.42,494.96 66.36,494.83 66.05,494.50 65.67,494.38 51.67,494.38 51.24,494.57 51.05,494.76ZM90.11,484.75 89.92,484.88 87.92,485.54 87.74,485.67 87.36,486.06 86.61,487.62 86.61,487.88 86.55,487.94 86.55,490.48 86.61,490.54 86.61,490.80 87.36,492.36 87.86,492.81 87.74,492.94 87.55,493.01 86.61,494.05 85.86,495.61 85.86,495.81 85.74,496.06 85.74,499.25 85.80,499.31 85.86,499.70 86.61,501.26 87.55,502.31 87.99,502.56 90.24,503.35 90.30,503.28 90.36,503.35 93.67,503.35 93.74,503.28 93.80,503.35 96.05,502.56 96.49,502.31 97.42,501.26 98.17,499.70 98.17,499.51 98.24,499.44 98.24,495.94 98.17,495.87 98.17,495.61 97.49,494.18 96.49,493.07 96.49,493.01 96.36,493.01 96.17,492.81 96.67,492.36 97.42,490.80 97.36,490.74 97.49,490.41 97.49,487.94 97.36,487.68 97.42,487.62 96.67,486.06 96.11,485.54 93.86,484.75 93.61,484.75 93.55,484.69 90.49,484.69 90.42,484.75ZM90.74,493.66 93.30,493.66 94.67,494.38 95.17,494.89 95.86,496.32 95.86,498.99 95.24,500.36 94.61,501.00 93.36,501.65 90.67,501.65 89.42,501.00 88.80,500.36 88.17,499.06 88.17,496.26 88.80,494.96 89.42,494.31ZM89.49,487.10 89.61,486.96 90.61,486.44 93.42,486.44 94.42,486.96 94.55,487.10 95.05,488.13 95.05,490.28 94.55,491.32 94.42,491.45 93.36,491.97 90.61,491.97 89.61,491.45 89.49,491.32 88.99,490.28 88.99,488.13ZM72.42,485.54 72.05,485.80 71.05,486.90 70.36,488.33 70.36,488.52 70.24,488.79 70.24,489.56 70.49,490.21 71.24,491.00 71.42,491.06 71.55,491.19 71.92,491.25 71.99,491.19 72.17,491.19 72.30,491.06 72.49,491.00 73.24,490.21 73.42,489.82 73.42,489.37 73.24,488.98 73.17,488.98 72.36,488.13 72.36,488.00 72.55,487.68 73.11,487.10 74.99,486.44 77.92,486.44 79.05,487.03 79.74,487.75 80.36,489.05 80.36,490.15 79.86,491.25 79.55,491.58 77.67,492.88 73.11,495.22 71.30,497.04 71.05,497.43 70.30,499.77 70.30,500.03 70.24,500.10 70.24,502.50 70.42,502.95 70.80,503.28 71.11,503.35 71.49,503.21 71.86,502.76 71.86,502.56 71.92,502.50 71.92,501.26 71.99,501.13 72.24,500.94 73.17,500.94 74.36,501.65 74.49,501.79 74.67,501.85 74.80,501.98 74.99,502.05 75.11,502.18 75.30,502.24 75.42,502.37 75.61,502.44 75.74,502.56 75.92,502.63 76.05,502.76 76.24,502.82 76.36,502.95 76.55,503.02 76.67,503.15 76.99,503.28 77.17,503.28 77.24,503.35 80.42,503.35 80.49,503.28 80.67,503.28 80.99,503.08 81.92,502.05 82.74,500.29 82.74,498.34 82.61,498.01 82.24,497.69 81.86,497.62 81.55,497.75 81.30,497.95 81.11,498.47 81.11,499.70 80.61,500.23 79.49,500.81 77.36,500.81 76.36,500.36 76.24,500.36 76.05,500.23 75.92,500.23 75.74,500.10 75.61,500.10 75.42,499.96 75.30,499.96 75.11,499.83 74.99,499.83 74.80,499.70 74.67,499.70 74.49,499.57 74.36,499.57 74.17,499.44 74.05,499.44 73.86,499.31 73.67,499.31 73.61,499.25 72.30,499.25 72.24,499.12 72.61,498.08 74.05,496.65 75.61,495.87 75.74,495.87 75.92,495.74 76.05,495.74 76.24,495.61 76.36,495.61 76.55,495.48 76.67,495.48 76.86,495.35 76.99,495.35 77.17,495.22 77.30,495.22 77.49,495.09 77.61,495.09 77.80,494.96 77.92,494.96 78.11,494.83 78.86,494.57 79.17,494.38 79.30,494.38 81.55,492.81 81.92,492.36 82.55,491.00 82.67,490.87 82.67,490.61 82.74,490.54 82.74,488.65 82.67,488.59 82.67,488.39 81.92,486.83 80.99,485.80 80.61,485.54 78.36,484.75 78.11,484.75 78.05,484.69 74.99,484.69 74.92,484.75 74.67,484.75Z" fill="#000" fill-rule="evenodd"/>
<path d="M436.01,570.14 435.94,570.21 435.57,570.27 434.19,570.99 433.94,571.18 432.94,572.29 432.19,573.85 432.19,574.11 432.13,574.17 432.13,575.93 432.19,576.00 432.19,576.25 432.69,577.29 432.19,577.88 431.44,579.44 431.44,579.63 431.32,579.89 431.32,580.67 431.38,580.74 431.38,580.93 432.01,582.23 431.69,582.43 431.44,582.69 430.76,584.18 430.63,584.31 430.69,584.38 430.57,584.70 430.57,585.55 430.63,585.62 430.63,585.88 431.51,587.63 431.88,587.95 434.13,588.73 434.38,588.73 434.44,588.80 439.19,588.80 439.26,588.73 439.51,588.73 441.76,587.95 442.07,587.69 442.26,587.43 443.01,585.88 443.01,585.62 443.07,585.55 443.07,584.64 443.01,584.57 443.01,584.31 442.88,584.18 442.19,582.69 441.94,582.43 441.63,582.23 439.57,581.52 439.26,581.52 439.19,581.45 435.38,581.45 433.38,580.74 433.01,580.35 433.01,580.02 433.57,578.85 433.69,578.72 433.94,578.85 434.13,579.05 435.63,579.83 436.01,579.89 436.07,579.96 437.57,579.96 437.63,579.89 437.82,579.89 439.51,579.05 439.76,578.85 440.69,577.81 441.44,576.25 441.44,576.00 441.51,575.93 441.51,574.17 441.44,574.11 441.44,573.85 440.94,572.81 441.07,572.68 442.26,572.68 442.63,572.55 443.01,572.09 443.01,571.90 443.07,571.83 443.07,570.99 442.94,570.60 442.63,570.27 442.51,570.21 442.01,570.21 440.32,571.05 440.13,571.25 439.88,571.38 439.44,570.99 438.07,570.27 437.88,570.27 437.63,570.14ZM432.19,584.96 432.69,583.92 432.82,583.79 433.76,583.47 435.26,583.99 439.13,583.99 441.01,584.64 441.44,585.09 441.44,585.22 440.94,586.33 440.82,586.46 439.19,587.04 439.01,587.04 438.94,587.11 434.69,587.11 432.82,586.46 432.69,586.33 432.26,585.42ZM436.13,571.90 437.51,571.90 438.38,572.35 438.63,572.62 439.07,573.52 439.07,576.51 438.57,577.55 438.44,577.68 437.44,578.20 436.19,578.20 435.19,577.68 435.07,577.55 434.57,576.51 434.57,573.52 435.01,572.62 435.26,572.35ZM421.26,570.14 421.19,570.21 420.94,570.21 418.76,570.99 418.38,571.25 416.88,572.81 416.63,573.20 415.88,575.54 415.88,575.80 415.82,575.87 415.82,577.42 415.88,577.49 415.88,577.81 416.63,580.09 416.76,580.22 416.82,580.41 418.38,582.04 418.38,582.10 418.51,582.10 418.82,582.37 421.07,583.14 421.13,583.08 421.19,583.14 423.01,583.14 423.07,583.08 423.13,583.14 425.38,582.37 425.76,582.10 427.32,580.48 427.57,580.09 428.32,577.75 428.32,575.73 428.26,575.67 428.32,575.54 427.63,573.39 427.32,572.81 425.82,571.25 425.44,570.99 423.44,570.34 423.26,570.21 422.94,570.21 422.88,570.14ZM421.44,571.90 422.76,571.90 423.88,572.48 425.26,573.91 425.94,576.06 425.94,577.23 425.19,579.50 423.82,580.87 422.63,581.45 421.51,581.45 420.26,580.80 418.94,579.44 418.26,577.29 418.26,576.00 418.94,573.91 420.32,572.48ZM496.13,564.62 495.82,564.94 495.69,565.20 495.69,565.53 495.82,565.85 495.94,565.98 496.26,566.18 496.44,566.18 496.51,566.25 497.94,566.25 498.01,566.31 498.01,581.39 497.94,581.45 496.44,581.45 496.07,581.58 495.82,581.84 495.69,582.17 495.69,582.43 495.82,582.75 496.07,583.01 496.44,583.14 501.94,583.14 502.32,583.01 502.63,582.69 502.69,582.56 502.69,582.04 502.32,581.58 501.94,581.45 500.51,581.45 500.44,581.39 500.44,576.19 502.57,573.98 507.32,581.39 507.26,581.45 506.51,581.45 506.44,581.52 506.26,581.52 505.88,581.84 505.76,582.37 505.88,582.75 506.26,583.08 506.44,583.08 506.51,583.14 511.26,583.14 511.63,583.01 511.88,582.75 512.01,582.50 512.01,582.10 511.88,581.84 511.63,581.58 511.26,581.45 510.13,581.45 504.32,572.42 504.26,572.22 510.01,566.25 511.26,566.25 511.69,566.05 511.88,565.85 512.01,565.59 512.01,565.14 511.88,564.88 511.57,564.62 511.19,564.49 506.57,564.49 506.13,564.68 505.88,564.94 505.76,565.33 505.88,565.79 506.32,566.18 506.51,566.18 506.57,566.25 507.51,566.25 507.57,566.38 500.51,573.72 500.44,573.65 500.44,566.31 500.51,566.25 501.94,566.25 502.38,566.05 502.57,565.85 502.69,565.59 502.69,565.14 502.57,564.88 502.38,564.68 501.88,564.49 496.51,564.49ZM458.07,564.68 457.82,564.94 457.69,565.33 457.69,570.21 457.88,570.73 458.13,570.92 458.44,571.05 458.94,570.92 459.19,570.66 459.32,570.40 459.38,569.88 459.44,569.82 459.44,569.50 459.51,569.43 459.51,569.10 459.57,569.04 459.57,568.71 459.63,568.65 459.63,568.32 459.69,568.26 459.69,567.93 459.76,567.87 459.76,567.54 459.82,567.48 459.82,567.15 459.88,567.09 459.88,566.76 459.94,566.70 459.94,566.38 460.07,566.25 463.07,566.25 463.13,566.31 463.13,581.39 463.07,581.45 461.57,581.45 461.19,581.58 460.94,581.84 460.82,582.17 460.82,582.43 460.94,582.75 461.19,583.01 461.57,583.14 467.07,583.14 467.44,583.01 467.82,582.56 467.82,582.04 467.44,581.58 467.07,581.45 465.63,581.45 465.57,581.39 465.57,566.31 465.63,566.25 468.63,566.25 468.76,566.63 468.76,566.96 468.82,567.02 468.82,567.35 468.88,567.41 468.88,567.74 468.94,567.80 468.94,568.13 469.01,568.19 469.01,568.52 469.07,568.58 469.07,568.91 469.13,568.97 469.13,569.30 469.19,569.37 469.19,569.69 469.26,569.75 469.32,570.34 469.57,570.79 469.88,570.99 470.19,571.05 470.57,570.92 470.82,570.66 470.94,570.34 470.94,565.20 470.82,564.94 470.51,564.62 470.13,564.49 458.51,564.49ZM407.38,564.49 407.01,564.62 406.69,564.94 406.57,565.20 406.57,565.53 406.69,565.85 407.01,566.12 407.38,566.25 408.82,566.25 408.88,566.31 408.88,581.39 408.82,581.45 407.32,581.45 407.26,581.52 407.07,581.52 406.69,581.84 406.57,582.17 406.57,582.43 406.69,582.75 406.94,583.01 407.32,583.14 412.82,583.14 412.88,583.08 413.07,583.08 413.19,583.01 413.57,582.56 413.57,582.04 413.19,581.58 412.82,581.45 411.38,581.45 411.32,581.39 411.32,565.40 411.26,565.33 411.26,565.14 411.13,564.88 410.94,564.68 410.44,564.49ZM514.26,561.30 514.19,561.37 514.01,561.37 513.63,561.69 513.51,562.08 513.63,562.60 514.01,562.93 514.19,562.93 514.26,563.00 518.07,563.00 518.13,563.06 518.13,587.04 518.07,587.11 514.19,587.11 513.88,587.24 513.63,587.50 513.51,588.02 513.76,588.54 514.07,588.73 514.26,588.73 514.32,588.80 519.82,588.80 520.32,588.54 520.57,588.02 520.57,562.08 520.44,561.69 520.26,561.50 519.88,561.30ZM487.07,561.30 486.76,561.43 486.51,561.69 486.38,562.02 486.38,588.08 486.51,588.41 486.88,588.73 487.07,588.73 487.13,588.80 492.63,588.80 493.01,588.67 493.38,588.21 493.38,587.69 493.32,587.50 492.94,587.17 492.76,587.11 488.88,587.11 488.82,587.04 488.82,563.06 488.88,563.00 492.69,563.00 493.01,562.87 493.26,562.67 493.38,562.41 493.38,561.89 493.19,561.56 492.69,561.30Z" fill="#000" fill-rule="evenodd"/>
<path d="M24.20,320.36 24.20,320.86 24.39,321.18 25.17,321.93 25.17,321.99 25.56,322.18 26.02,322.18 26.41,321.99 27.19,321.24 27.45,320.80 28.62,321.36 29.20,321.93 29.20,321.99 29.59,322.18 30.05,322.18 30.30,322.05 30.50,321.86 30.63,321.61 30.63,321.18 30.44,320.80 29.66,320.05 29.40,319.86 27.84,319.11 27.45,319.05 27.38,318.99 25.82,318.99 25.76,319.05 25.56,319.05 25.17,319.24 25.17,319.30 24.39,320.05ZM21.79,330.36 21.98,330.55 22.25,330.68 22.70,330.68 22.96,330.55 23.16,330.36 23.35,329.93 23.35,329.18 23.42,329.11 29.46,329.11 29.53,329.18 29.53,329.99 29.66,330.30 30.11,330.68 30.63,330.68 31.09,330.30 31.22,329.99 31.22,326.05 31.15,325.99 31.15,325.80 30.83,325.43 30.50,325.30 30.24,325.30 29.92,325.43 29.59,325.80 29.59,325.99 29.53,326.05 29.53,326.86 29.46,326.93 22.31,326.93 22.12,326.99 21.86,327.18 21.66,327.49 21.66,327.68 21.60,327.74 21.60,329.93ZM17.70,328.49 18.02,328.99 18.48,329.43 18.93,329.61 19.26,329.61 19.45,329.55 19.58,329.43 19.71,329.43 19.71,329.36 20.23,328.86 20.43,328.55 20.49,328.18 20.23,327.68 19.65,327.11 19.19,326.93 19.00,326.93 18.61,327.11 18.48,327.11 18.48,327.18 17.89,327.74 17.70,328.05ZM14.58,134.43 15.36,135.93 16.33,136.93 16.91,137.18 18.54,137.18 19.12,136.93 20.16,135.86 21.01,134.24 21.01,134.11 21.14,133.93 21.14,133.80 21.27,133.61 21.27,133.49 21.40,133.30 21.40,133.18 21.53,132.99 21.53,132.86 21.66,132.68 21.66,132.55 21.79,132.36 21.79,132.24 21.92,132.05 21.92,131.93 22.05,131.74 22.12,131.43 22.57,130.49 22.57,130.36 23.29,129.05 23.74,128.61 24.59,128.61 24.71,128.68 25.17,129.18 25.76,130.36 25.76,132.99 25.17,134.18 24.98,134.43 24.39,134.93 23.03,135.55 22.70,135.86 22.57,136.11 22.57,136.55 22.70,136.80 22.90,136.99 23.42,137.18 26.60,137.18 27.05,136.99 27.32,136.74 27.45,136.36 27.32,135.93 26.93,135.55 26.41,135.30 26.60,135.11 27.38,133.61 27.38,133.36 27.45,133.30 27.45,130.05 27.38,129.99 27.38,129.74 26.60,128.24 26.41,127.99 25.43,127.11 25.04,126.99 22.51,126.99 22.12,127.11 21.92,127.24 21.01,128.18 20.30,129.61 20.16,129.74 20.16,129.86 20.04,130.05 20.04,130.18 19.91,130.36 19.91,130.49 19.78,130.68 19.78,130.80 19.65,130.99 19.65,131.11 19.52,131.30 19.52,131.43 19.39,131.61 19.39,131.74 19.26,131.93 19.26,132.05 19.12,132.24 19.12,132.36 19.00,132.55 19.00,132.68 18.87,132.86 18.61,133.61 17.89,134.99 17.37,135.49 17.18,135.43 16.79,134.99 16.20,133.86 16.20,130.99 16.85,129.80 17.44,129.24 18.93,128.55 19.32,128.11 19.32,127.93 19.39,127.86 19.32,127.49 19.00,127.11 18.61,126.99 15.29,126.99 15.23,127.05 15.03,127.05 14.58,127.43 14.51,127.55 14.51,128.05 15.03,128.61 15.36,128.74 15.49,128.86 15.29,129.05 14.58,130.43 14.58,130.61 14.45,130.86 14.45,133.99 14.51,134.05ZM14.97,183.68 15.49,183.74 15.75,183.61 16.07,183.30 16.20,182.93 16.20,181.49 16.27,181.43 25.69,181.43 25.76,181.49 25.76,182.99 25.89,183.36 26.28,183.68 26.73,183.74 27.05,183.61 27.38,183.24 27.38,183.05 27.45,182.99 27.45,177.49 27.32,177.11 26.99,176.80 26.86,176.74 26.34,176.74 25.89,177.11 25.76,177.49 25.76,178.93 25.69,178.99 18.09,178.99 16.85,177.80 16.20,175.99 16.20,174.55 16.72,173.55 16.85,173.43 17.89,172.93 25.69,172.93 25.76,172.99 25.76,174.49 26.02,174.99 26.34,175.18 26.86,175.18 27.12,175.05 27.32,174.80 27.45,174.49 27.45,168.93 27.38,168.86 27.38,168.68 27.05,168.30 26.67,168.18 26.28,168.24 26.15,168.30 25.82,168.68 25.82,168.86 25.76,168.93 25.76,170.43 25.69,170.49 18.09,170.49 16.85,169.30 16.20,167.43 16.20,165.99 16.66,165.11 16.91,164.86 18.02,164.36 25.62,164.36 25.76,164.49 25.76,165.93 25.89,166.30 26.15,166.55 26.41,166.68 26.80,166.68 27.05,166.55 27.32,166.30 27.45,165.93 27.45,160.43 27.32,160.05 27.05,159.80 26.80,159.68 26.41,159.68 26.15,159.80 25.82,160.18 25.82,160.36 25.76,160.43 25.76,161.86 25.62,161.99 17.57,161.99 17.50,162.05 17.30,162.05 15.75,162.80 15.29,163.30 14.64,165.30 14.51,165.49 14.51,165.80 14.45,165.86 14.45,167.43 14.51,167.49 14.51,167.80 15.23,169.86 15.49,170.30 16.27,171.05 16.14,171.18 15.81,171.30 15.29,171.86 14.51,174.05 14.51,174.30 14.45,174.36 14.45,175.99 14.51,176.05 14.51,176.30 15.29,178.55 15.55,178.86 15.49,178.99 15.29,178.99 14.84,179.18 14.51,179.55 14.51,179.74 14.45,179.80 14.45,182.93 14.58,183.30 14.71,183.49ZM14.45,192.24 14.51,192.30 14.51,192.61 15.29,194.80 15.55,195.18 17.11,196.68 17.50,196.93 19.84,197.68 20.10,197.68 20.16,197.74 21.73,197.74 21.79,197.68 22.12,197.68 24.39,196.93 24.52,196.80 24.71,196.74 26.34,195.18 26.41,195.18 26.41,195.05 26.67,194.74 27.45,192.49 27.38,192.43 27.45,192.36 27.45,190.61 27.38,190.55 27.45,190.43 26.67,188.18 26.41,187.80 24.78,186.24 24.46,186.05 23.94,186.05 23.74,186.11 23.48,186.36 23.35,186.68 23.42,187.11 23.61,187.43 25.04,188.80 25.76,190.80 25.76,192.05 25.11,193.30 23.74,194.61 21.60,195.30 20.30,195.30 18.22,194.61 16.79,193.24 16.20,192.11 16.20,190.05 16.79,188.93 17.30,188.36 18.09,189.05 18.48,189.18 18.87,189.11 19.19,188.93 19.97,188.18 20.16,187.80 20.16,187.36 19.97,187.11 19.97,186.99 19.91,186.99 19.06,186.18 18.54,185.99 17.70,185.99 17.63,186.05 17.44,186.05 17.11,186.24 15.36,187.99 14.58,189.49 14.51,189.86 14.45,189.93ZM14.45,221.43 14.51,221.49 14.58,221.86 15.36,223.36 15.68,223.68 15.68,223.74 15.75,223.74 16.40,224.36 16.46,224.36 16.52,224.49 18.09,225.24 18.28,225.24 18.54,225.36 20.16,225.36 20.43,225.24 20.62,225.24 21.60,224.74 22.25,225.30 23.80,226.05 23.87,225.99 24.13,226.11 25.04,226.11 25.11,226.05 25.37,226.05 26.54,225.49 27.05,226.05 28.62,226.80 28.81,226.80 28.88,226.86 29.98,226.86 30.05,226.80 30.24,226.80 31.80,226.05 32.12,225.74 32.32,225.43 33.04,223.36 33.04,223.05 33.10,222.99 33.10,218.30 33.04,218.24 33.04,217.93 32.32,215.86 32.12,215.55 31.80,215.24 30.24,214.49 29.85,214.43 29.79,214.36 29.01,214.36 28.94,214.43 28.55,214.49 27.12,215.18 26.54,215.80 25.76,218.05 25.82,218.11 25.76,218.24 25.76,222.05 25.04,224.05 24.59,224.49 24.46,224.49 23.22,223.93 23.03,223.74 23.16,223.49 23.42,223.24 24.13,221.86 24.13,221.68 24.26,221.43 24.26,219.86 24.13,219.61 24.13,219.43 23.35,217.93 23.22,217.86 23.03,217.55 22.96,217.55 22.38,216.99 22.38,216.93 20.62,216.05 20.23,215.99 20.16,215.93 18.54,215.93 18.48,215.99 18.09,216.05 17.11,216.55 16.98,216.43 16.98,215.18 16.91,215.11 16.91,214.93 16.59,214.55 16.14,214.36 15.36,214.36 14.84,214.55 14.64,214.74 14.51,214.99 14.58,215.68 15.29,217.05 15.68,217.55 15.36,217.93 14.51,219.61 14.51,219.80 14.45,219.86ZM29.20,225.24 28.10,224.68 27.77,223.68 28.29,222.18 28.29,218.30 28.94,216.49 29.27,216.11 29.40,216.05 29.66,216.05 30.76,216.61 31.35,218.30 31.35,218.49 31.41,218.55 31.41,222.74 31.35,222.80 31.35,222.99 30.76,224.68 29.66,225.24ZM16.20,221.30 16.20,219.99 16.72,218.99 16.85,218.86 17.89,218.36 20.75,218.36 21.86,218.86 21.98,218.99 22.51,219.99 22.51,221.30 22.05,222.18 21.79,222.43 20.75,222.93 17.96,222.93 16.79,222.36ZM14.51,239.49 14.90,239.93 15.29,240.05 15.75,239.93 16.01,239.68 16.20,239.24 16.20,237.80 16.27,237.74 25.69,237.74 25.76,237.80 25.76,239.30 25.82,239.36 25.82,239.55 25.95,239.74 26.28,239.99 26.47,239.99 26.54,240.05 26.93,239.99 27.25,239.74 27.38,239.55 27.38,239.36 27.45,239.30 27.45,233.74 27.19,233.24 26.86,233.05 26.34,233.05 26.02,233.24 25.76,233.74 25.76,235.24 25.69,235.30 20.16,235.30 18.41,234.74 18.15,234.61 16.72,233.18 16.20,232.18 16.20,231.30 16.27,231.24 16.66,231.49 17.18,231.49 17.57,231.30 17.57,231.24 18.28,230.55 18.34,230.55 18.34,230.43 18.54,230.18 18.54,229.68 18.34,229.36 17.50,228.55 17.05,228.36 16.01,228.36 15.55,228.55 14.71,229.36 14.51,229.68 14.51,229.86 14.45,229.93 14.45,232.30 14.58,232.55 14.58,232.74 15.29,234.11 16.40,235.24 16.33,235.30 15.29,235.30 15.23,235.36 15.03,235.36 14.90,235.43 14.51,235.86 14.51,236.05 14.45,236.11 14.45,239.24 14.51,239.30ZM14.45,248.55 14.51,248.61 14.51,248.93 14.64,249.11 15.29,251.11 15.55,251.49 17.11,252.99 17.70,253.30 19.84,253.99 19.97,253.93 20.04,253.99 22.05,253.99 24.39,253.24 24.78,252.99 26.41,251.43 26.67,251.05 27.45,248.80 27.38,248.74 27.45,248.68 27.45,246.93 27.38,246.86 27.38,246.55 26.67,244.49 26.41,244.18 26.41,244.05 26.34,244.05 24.71,242.49 24.26,242.30 23.74,242.43 23.42,242.80 23.35,243.24 23.61,243.74 25.04,245.11 25.76,247.11 25.76,248.30 25.17,249.49 23.80,250.86 21.79,251.55 21.08,251.61 21.01,251.55 21.01,243.11 20.95,243.05 20.95,242.86 20.69,242.49 20.23,242.30 18.48,242.30 18.41,242.36 18.15,242.36 16.59,243.11 16.33,243.30 15.29,244.36 14.58,245.74 14.58,245.93 14.45,246.18ZM19.12,251.24 18.22,250.93 16.79,249.55 16.20,248.43 16.20,246.30 16.66,245.43 16.91,245.18 17.83,244.74 19.26,244.74 19.32,244.80 19.32,251.18ZM14.84,345.86 15.10,345.99 15.55,345.99 15.81,345.86 16.01,345.68 16.20,345.18 16.20,344.05 21.14,340.30 21.53,340.55 25.76,344.05 25.76,345.24 25.89,345.61 26.21,345.93 26.34,345.99 26.86,345.99 27.32,345.61 27.45,345.24 27.45,340.49 27.19,339.99 26.86,339.80 26.34,339.80 26.02,339.99 25.76,340.49 25.76,341.74 25.62,341.80 22.57,339.24 25.69,336.86 25.76,336.93 25.76,337.49 25.82,337.55 25.82,337.74 26.21,338.18 26.34,338.24 26.86,338.24 27.32,337.86 27.45,337.49 27.45,332.74 27.32,332.43 27.12,332.18 26.86,332.05 26.34,332.05 26.08,332.18 25.89,332.43 25.76,332.74 25.76,333.93 25.50,334.18 25.17,334.36 24.59,334.86 24.26,335.05 23.68,335.55 23.35,335.74 20.75,337.74 16.20,333.99 16.20,332.80 16.01,332.36 15.75,332.11 15.62,332.05 15.03,332.05 14.58,332.43 14.45,332.80 14.45,337.49 14.64,337.93 14.84,338.11 15.10,338.24 15.55,338.24 15.81,338.11 16.01,337.93 16.20,337.43 16.20,336.30 16.27,336.24 19.32,338.74 19.12,338.99 18.80,339.18 18.22,339.68 17.89,339.86 16.27,341.11 16.20,341.05 16.20,340.55 16.01,340.11 15.75,339.86 15.62,339.80 15.03,339.80 14.58,340.18 14.45,340.55 14.45,345.24 14.64,345.68ZM14.45,394.86 14.51,394.93 14.58,395.30 15.29,396.68 15.49,396.93 16.59,397.93 18.15,398.68 18.41,398.68 18.48,398.74 20.23,398.74 20.30,398.68 20.55,398.68 21.60,398.18 22.18,398.68 23.74,399.43 23.94,399.43 24.20,399.55 24.98,399.55 25.04,399.49 25.24,399.49 26.54,398.86 26.73,399.18 26.99,399.43 28.49,400.11 28.62,400.24 28.68,400.18 29.01,400.30 29.85,400.30 29.92,400.24 30.18,400.24 31.93,399.36 32.26,398.99 33.04,396.74 33.04,396.49 33.10,396.43 33.10,391.68 33.04,391.61 33.04,391.36 32.26,389.11 32.00,388.80 31.73,388.61 30.18,387.86 29.92,387.86 29.85,387.80 28.94,387.80 28.88,387.86 28.62,387.86 28.49,387.99 26.99,388.68 26.73,388.93 26.54,389.24 25.82,391.30 25.82,391.61 25.76,391.68 25.76,395.49 25.04,397.49 24.65,397.86 24.33,397.86 23.16,397.30 23.03,397.18 23.16,396.93 23.35,396.74 24.13,395.24 24.20,394.86 24.26,394.80 24.26,393.30 24.20,393.24 24.20,393.05 23.35,391.36 23.16,391.11 22.12,390.18 20.55,389.43 20.30,389.43 20.23,389.36 18.48,389.36 18.41,389.43 18.15,389.43 17.11,389.93 16.98,389.80 16.98,388.61 16.85,388.24 16.40,387.86 16.20,387.86 16.14,387.80 15.29,387.80 14.90,387.93 14.58,388.24 14.51,388.36 14.51,388.86 15.36,390.55 15.55,390.74 15.68,390.99 15.29,391.43 14.58,392.80 14.58,392.99 14.45,393.24ZM29.27,398.68 28.23,398.18 28.10,398.05 27.77,397.11 28.29,395.61 28.29,391.74 28.94,389.86 29.40,389.43 29.53,389.43 30.63,389.93 30.76,390.05 31.35,391.68 31.35,391.86 31.41,391.93 31.41,396.18 30.76,398.05 30.63,398.18 29.72,398.61ZM16.20,394.74 16.20,393.36 16.66,392.49 16.91,392.24 17.83,391.80 20.82,391.80 21.86,392.30 21.98,392.43 22.51,393.43 22.51,394.68 21.98,395.68 21.86,395.80 20.82,396.30 17.83,396.30 16.91,395.86 16.66,395.61ZM14.45,409.61 14.51,409.68 14.51,409.93 15.29,412.11 15.55,412.49 17.11,413.99 17.50,414.24 19.84,414.99 20.10,414.99 20.16,415.05 21.73,415.05 21.79,414.99 22.12,414.99 24.39,414.24 24.52,414.11 24.71,414.05 26.34,412.49 26.41,412.49 26.41,412.36 26.67,412.05 27.45,409.80 27.38,409.74 27.45,409.68 27.45,407.86 27.38,407.80 27.45,407.74 26.67,405.49 26.41,405.11 24.78,403.55 24.39,403.30 22.05,402.55 20.04,402.55 19.97,402.61 19.84,402.55 17.70,403.24 17.11,403.55 15.55,405.05 15.29,405.43 14.64,407.43 14.51,407.61 14.51,407.93 14.45,407.99ZM16.20,409.43 16.20,408.11 16.79,406.99 18.22,405.61 20.36,404.93 21.53,404.93 23.80,405.68 25.17,407.05 25.76,408.24 25.76,409.36 25.11,410.61 23.74,411.93 21.60,412.61 20.30,412.61 18.22,411.93 16.79,410.55ZM11.65,124.49 12.04,124.36 12.24,124.18 12.37,123.93 12.37,117.24 12.24,116.93 11.91,116.68 11.46,116.68 11.20,116.80 11.00,117.05 11.00,117.24 10.94,117.30 10.94,123.80 11.07,124.18 11.26,124.36ZM8.92,365.68 8.98,365.80 9.44,366.18 25.69,371.36 25.76,371.43 25.76,372.43 25.82,372.49 25.82,372.68 25.95,372.86 26.28,373.11 26.47,373.11 26.54,373.18 26.93,373.11 27.25,372.86 27.38,372.68 27.38,372.49 27.45,372.43 27.45,367.61 27.38,367.55 27.38,367.36 27.05,366.99 26.67,366.86 26.28,366.93 26.15,366.99 25.82,367.36 25.82,367.55 25.76,367.61 25.76,369.55 25.56,369.61 14.64,366.11 14.45,365.99 13.93,365.86 13.73,365.74 25.56,361.93 25.76,361.99 25.76,363.11 25.82,363.18 25.82,363.36 26.15,363.74 26.54,363.86 27.05,363.74 27.38,363.36 27.38,363.18 27.45,363.11 27.45,358.36 27.38,358.30 27.38,358.11 27.25,357.93 26.93,357.68 26.73,357.68 26.67,357.61 26.28,357.68 26.15,357.74 25.82,358.11 25.82,358.30 25.76,358.36 25.76,359.30 25.69,359.36 9.44,364.55 9.25,364.68 8.92,365.05 8.86,365.24ZM8.98,303.24 9.25,303.49 9.64,303.61 14.51,303.61 15.03,303.43 15.23,303.18 15.36,302.86 15.23,302.36 14.97,302.11 14.71,301.99 14.19,301.93 14.12,301.86 13.80,301.86 13.73,301.80 13.41,301.80 13.34,301.74 13.02,301.74 12.95,301.68 12.63,301.68 12.56,301.61 12.24,301.61 12.17,301.55 11.85,301.55 11.78,301.49 11.46,301.49 11.39,301.43 11.07,301.43 11.00,301.36 10.68,301.36 10.55,301.24 10.55,298.24 10.61,298.18 25.69,298.18 25.76,298.24 25.76,299.74 25.89,300.11 26.15,300.36 26.47,300.49 26.73,300.49 27.05,300.36 27.32,300.11 27.45,299.74 27.45,294.24 27.32,293.86 26.86,293.49 26.34,293.49 25.89,293.86 25.76,294.24 25.76,295.68 25.69,295.74 10.61,295.74 10.55,295.68 10.55,292.68 10.94,292.55 11.26,292.55 11.33,292.49 11.65,292.49 11.72,292.43 12.04,292.43 12.11,292.36 12.43,292.36 12.50,292.30 12.82,292.30 12.89,292.24 13.21,292.24 13.28,292.18 13.60,292.18 13.67,292.11 13.99,292.11 14.06,292.05 14.64,291.99 15.10,291.74 15.29,291.43 15.36,291.11 15.23,290.74 14.97,290.49 14.64,290.36 9.51,290.36 9.25,290.49 8.92,290.80 8.79,291.18 8.79,302.80ZM8.79,423.49 8.92,423.86 9.25,424.18 9.51,424.30 9.83,424.30 10.16,424.18 10.41,423.86 10.55,423.49 10.55,422.05 10.61,421.99 25.69,421.99 25.76,422.05 25.76,423.55 25.82,423.61 25.82,423.80 26.15,424.18 26.47,424.30 26.73,424.30 27.05,424.18 27.32,423.93 27.45,423.55 27.45,418.05 27.38,417.99 27.38,417.80 27.32,417.68 26.86,417.30 26.34,417.30 25.89,417.68 25.76,418.05 25.76,419.49 25.69,419.55 9.70,419.55 9.64,419.61 9.44,419.61 9.18,419.74 8.98,419.93 8.79,420.43ZM6.45,111.86 6.64,112.43 7.75,113.49 8.01,114.05 8.07,114.05 8.21,114.24 8.46,114.36 8.92,114.36 9.25,114.11 9.38,113.80 9.38,113.61 9.31,113.55 9.31,113.36 9.12,113.05 9.18,112.99 14.25,112.99 14.32,113.05 14.32,113.80 14.51,114.18 14.77,114.36 15.29,114.36 15.42,114.30 15.68,113.99 15.75,113.80 15.75,110.43 15.62,110.11 15.36,109.86 15.16,109.80 14.71,109.86 14.45,110.11 14.32,110.43 14.32,111.18 14.25,111.24 7.04,111.24 6.78,111.36 6.58,111.55ZM6.45,155.43 6.84,156.55 7.04,156.80 7.55,157.24 7.55,157.30 8.34,157.68 8.60,157.68 8.66,157.74 9.05,157.74 9.44,157.55 9.57,157.55 9.57,157.49 9.96,157.11 10.09,156.86 10.09,156.49 9.83,156.05 9.57,155.80 9.31,155.68 8.79,155.68 8.53,155.80 8.34,155.99 8.14,155.86 7.88,155.11 7.88,153.99 8.07,153.61 8.40,153.43 9.31,153.43 9.57,153.55 9.83,153.99 9.83,154.99 9.89,155.18 10.22,155.49 10.68,155.55 10.94,155.43 11.20,155.11 11.26,154.93 11.26,153.93 11.46,153.55 11.72,153.30 12.50,153.05 13.41,153.05 13.80,153.24 14.06,153.49 14.32,153.99 14.32,155.11 14.06,155.86 13.93,156.05 13.67,155.80 13.41,155.68 12.89,155.68 12.63,155.80 12.37,156.05 12.11,156.49 12.11,156.86 12.24,157.11 12.63,157.49 12.63,157.55 12.76,157.55 13.15,157.74 13.86,157.68 14.64,157.30 14.64,157.24 14.77,157.18 15.36,156.55 15.62,155.68 15.75,155.49 15.68,155.36 15.75,155.30 15.75,153.55 15.42,152.61 15.16,152.30 15.10,152.11 14.64,151.74 13.86,151.36 13.67,151.36 13.60,151.30 12.37,151.30 12.30,151.36 12.04,151.36 11.39,151.68 10.68,152.30 10.61,152.18 10.35,151.99 9.83,151.74 9.57,151.74 9.51,151.68 8.14,151.68 7.36,151.99 7.16,152.11 6.84,152.49 6.64,153.18 6.45,153.55 6.45,155.30 6.52,155.36ZM5.61,107.05 5.87,107.55 6.19,107.74 6.71,107.74 6.97,107.61 7.23,107.24 7.30,107.05 7.30,103.24 7.36,103.18 31.35,103.18 31.41,103.24 31.41,107.11 31.54,107.43 31.80,107.68 32.00,107.74 32.52,107.74 32.97,107.36 33.10,106.99 33.10,101.49 33.04,101.43 33.04,101.24 32.71,100.86 32.39,100.74 6.32,100.74 6.00,100.86 5.73,101.11 5.61,101.43ZM5.61,263.36 5.73,263.68 6.06,263.99 6.45,264.11 32.26,264.11 32.65,263.99 32.97,263.68 33.10,263.30 33.10,257.80 33.04,257.74 33.04,257.55 32.71,257.18 32.45,257.05 32.06,257.05 31.87,257.11 31.54,257.43 31.41,257.68 31.41,261.55 31.28,261.68 7.36,261.68 7.30,261.61 7.30,257.80 7.16,257.43 6.91,257.18 6.64,257.05 6.25,257.05 6.00,257.18 5.73,257.43 5.61,257.80ZM5.61,287.36 5.73,287.68 5.93,287.93 6.19,288.05 6.71,288.05 6.97,287.93 8.66,286.36 11.65,284.93 13.99,284.18 14.25,284.18 14.32,284.11 14.58,284.11 14.64,284.05 14.90,284.05 14.97,283.99 15.23,283.99 15.29,283.93 15.55,283.93 15.62,283.86 15.88,283.86 15.94,283.80 16.20,283.80 16.27,283.74 16.52,283.74 16.59,283.68 16.85,283.68 16.91,283.61 17.18,283.61 17.57,283.49 21.14,283.49 21.21,283.55 21.47,283.55 21.53,283.61 21.79,283.61 21.86,283.68 22.12,283.68 22.18,283.74 22.44,283.74 22.51,283.80 22.77,283.80 22.83,283.86 23.09,283.86 23.16,283.93 23.42,283.93 23.48,283.99 23.74,283.99 23.80,284.05 24.07,284.05 24.13,284.11 24.39,284.11 24.46,284.18 24.91,284.24 27.05,284.93 30.05,286.36 31.61,287.86 32.00,288.05 32.52,288.05 32.65,287.99 33.04,287.55 33.04,287.05 32.84,286.68 30.96,284.93 28.81,283.55 25.43,281.93 24.85,281.74 24.59,281.74 24.52,281.68 24.26,281.68 24.20,281.61 23.94,281.61 23.87,281.55 23.61,281.55 23.55,281.49 23.29,281.49 23.22,281.43 22.96,281.43 22.90,281.36 22.64,281.36 22.57,281.30 22.31,281.30 22.25,281.24 21.98,281.24 21.92,281.18 21.66,281.18 21.27,281.05 17.70,281.05 17.63,281.11 17.44,281.05 17.37,281.11 17.11,281.11 17.05,281.18 16.79,281.18 16.72,281.24 16.46,281.24 16.40,281.30 16.14,281.30 16.07,281.36 15.81,281.36 15.75,281.43 15.49,281.43 15.42,281.49 15.16,281.49 15.10,281.55 14.84,281.55 14.77,281.61 14.51,281.61 14.45,281.68 13.60,281.80 13.41,281.93 13.21,281.93 10.22,283.36 7.55,285.05 5.87,286.68 5.67,286.99ZM5.61,349.11 5.67,349.18 5.67,349.36 5.87,349.68 7.69,351.43 7.88,351.49 9.96,352.86 13.15,354.36 13.28,354.49 13.47,354.49 14.06,354.68 14.32,354.68 14.38,354.74 14.64,354.74 14.71,354.80 14.97,354.80 15.03,354.86 15.29,354.86 15.36,354.93 15.62,354.93 15.68,354.99 15.94,354.99 16.01,355.05 16.27,355.05 16.33,355.11 16.59,355.11 16.66,355.18 16.91,355.18 16.98,355.24 17.24,355.24 17.30,355.30 17.70,355.30 17.76,355.36 20.95,355.36 21.01,355.30 21.40,355.30 21.47,355.24 21.73,355.24 21.79,355.18 22.05,355.18 22.12,355.11 22.38,355.11 22.44,355.05 22.70,355.05 22.77,354.99 23.03,354.99 23.09,354.93 23.35,354.93 23.42,354.86 23.68,354.86 23.74,354.80 24.98,354.61 25.37,354.49 28.75,352.86 31.09,351.36 32.84,349.68 33.04,349.36 33.04,348.80 32.71,348.43 32.45,348.30 32.06,348.30 31.87,348.36 30.18,349.93 27.25,351.36 27.12,351.36 26.93,351.49 24.78,352.18 23.94,352.30 23.87,352.36 23.61,352.36 23.55,352.43 23.29,352.43 23.22,352.49 22.96,352.49 22.90,352.55 22.64,352.55 22.57,352.61 22.31,352.61 22.25,352.68 21.98,352.68 21.92,352.74 21.66,352.74 21.60,352.80 21.34,352.80 21.27,352.86 21.01,352.86 20.95,352.93 17.76,352.93 17.70,352.86 17.44,352.86 17.37,352.80 17.11,352.80 17.05,352.74 16.79,352.74 16.72,352.68 16.46,352.68 16.40,352.61 16.14,352.61 16.07,352.55 15.81,352.55 15.75,352.49 15.49,352.49 15.42,352.43 15.16,352.43 15.10,352.36 14.84,352.36 14.77,352.30 13.93,352.18 11.59,351.43 8.73,350.05 7.04,348.49 6.64,348.30 6.25,348.30 6.00,348.43 5.73,348.68Z" fill="#000" fill-rule="evenodd"/>
</svg>
<div class="sr">log Λ(x<sub>i</sub>, T) [erg cm<sup>3</sup> s<sup>−1</sup>] &middot; log T [K] &middot; solar &middot; LMC &middot; SMC &middot; log x<sub>i</sub> = −4 &middot; log x<sub>i</sub> = −3 &middot; log x<sub>i</sub> = −2 &middot; log x<sub>i</sub> = −1 &middot; −22 −24 −26 −28 &middot; 2 4 6 8</div>
</body></html>
